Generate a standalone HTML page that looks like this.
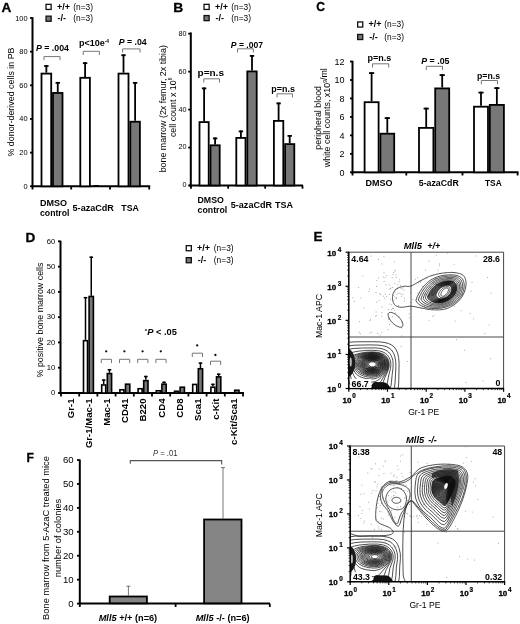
<!DOCTYPE html>
<html><head><meta charset="utf-8"><style>
html,body{margin:0;padding:0;background:#fff;width:520px;height:624px;overflow:hidden;}
body{position:relative;font-family:"Liberation Sans", sans-serif;}
svg{filter:grayscale(100%);}
</style></head><body>
<svg width="520" height="624" viewBox="0 0 520 624" style="position:absolute;left:0;top:0" font-family='"Liberation Sans", sans-serif'>
<rect width="520" height="624" fill="#fff"/>
<text x="1.40" y="11.60" font-size="13.4" font-weight="bold" textLength="9.8" lengthAdjust="spacingAndGlyphs" stroke="#000" stroke-width="0.3">A</text>
<rect x="46.05" y="4.35" width="5.10" height="5.10" fill="#fff" stroke="#111" stroke-width="1.3"/>
<rect x="46.05" y="16.15" width="5.10" height="5.10" fill="#777" stroke="#111" stroke-width="1.3"/>
<text x="56.90" y="9.70" font-size="9" font-weight="bold">+/+</text>
<text x="57.60" y="21.30" font-size="9" font-weight="bold">-/-</text>
<text x="73.20" y="9.60" font-size="8.4">(n=3)</text>
<text x="73.20" y="21.40" font-size="8.4">(n=3)</text>
<line x1="32.50" y1="17.20" x2="32.50" y2="187.20" stroke="#000" stroke-width="2"/>
<line x1="30.00" y1="186.30" x2="32.50" y2="186.30" stroke="#000" stroke-width="1.8"/>
<text x="27.60" y="188.80" font-size="7.4" text-anchor="end">0</text>
<line x1="30.00" y1="152.64" x2="32.50" y2="152.64" stroke="#000" stroke-width="1.8"/>
<text x="27.60" y="155.14" font-size="7.4" text-anchor="end">20</text>
<line x1="30.00" y1="118.98" x2="32.50" y2="118.98" stroke="#000" stroke-width="1.8"/>
<text x="27.60" y="121.48" font-size="7.4" text-anchor="end">40</text>
<line x1="30.00" y1="85.32" x2="32.50" y2="85.32" stroke="#000" stroke-width="1.8"/>
<text x="27.60" y="87.82" font-size="7.4" text-anchor="end">60</text>
<line x1="30.00" y1="51.66" x2="32.50" y2="51.66" stroke="#000" stroke-width="1.8"/>
<text x="27.60" y="54.16" font-size="7.4" text-anchor="end">80</text>
<line x1="30.00" y1="18.00" x2="32.50" y2="18.00" stroke="#000" stroke-width="1.8"/>
<text x="27.60" y="20.50" font-size="7.4" text-anchor="end">100</text>
<text x="14.40" y="102.00" font-size="8.9" text-anchor="middle" transform="rotate(-90 14.40 102.00)">% donor-derived cells in PB</text>
<line x1="31.50" y1="186.30" x2="150.20" y2="186.30" stroke="#000" stroke-width="2"/>
<line x1="32.50" y1="186.30" x2="32.50" y2="189.50" stroke="#000" stroke-width="1.8"/>
<line x1="71.20" y1="186.30" x2="71.20" y2="189.50" stroke="#000" stroke-width="1.8"/>
<line x1="110.00" y1="186.30" x2="110.00" y2="189.50" stroke="#000" stroke-width="1.8"/>
<line x1="149.20" y1="186.30" x2="149.20" y2="189.50" stroke="#000" stroke-width="1.8"/>
<line x1="46.35" y1="72.70" x2="46.35" y2="65.12" stroke="#000" stroke-width="1.8"/>
<line x1="44.15" y1="66.02" x2="48.55" y2="66.02" stroke="#000" stroke-width="1.8"/>
<rect x="41.50" y="73.60" width="9.70" height="112.70" fill="#fff" stroke="#000" stroke-width="1.8"/>
<line x1="57.75" y1="92.05" x2="57.75" y2="81.95" stroke="#000" stroke-width="1.8"/>
<line x1="55.55" y1="82.85" x2="59.95" y2="82.85" stroke="#000" stroke-width="1.8"/>
<rect x="53.00" y="92.95" width="9.50" height="93.35" fill="#777" stroke="#000" stroke-width="1.8"/>
<line x1="85.10" y1="76.91" x2="85.10" y2="62.26" stroke="#000" stroke-width="1.8"/>
<line x1="82.90" y1="63.16" x2="87.30" y2="63.16" stroke="#000" stroke-width="1.8"/>
<rect x="80.30" y="77.81" width="9.60" height="108.50" fill="#fff" stroke="#000" stroke-width="1.8"/>
<line x1="93.50" y1="185.60" x2="99.00" y2="185.60" stroke="#000" stroke-width="1.2"/>
<line x1="123.50" y1="72.70" x2="123.50" y2="54.35" stroke="#000" stroke-width="1.8"/>
<line x1="121.30" y1="55.25" x2="125.70" y2="55.25" stroke="#000" stroke-width="1.8"/>
<rect x="118.50" y="73.60" width="10.00" height="112.70" fill="#fff" stroke="#000" stroke-width="1.8"/>
<line x1="135.10" y1="120.83" x2="135.10" y2="81.95" stroke="#000" stroke-width="1.8"/>
<line x1="132.90" y1="82.85" x2="137.30" y2="82.85" stroke="#000" stroke-width="1.8"/>
<rect x="130.30" y="121.73" width="9.60" height="64.57" fill="#777" stroke="#000" stroke-width="1.8"/>
<text x="36.00" y="51.30" font-size="9" font-weight="bold" textLength="33" lengthAdjust="spacingAndGlyphs"><tspan font-style="italic">P</tspan> = .004</text>
<path d="M44.00,60.20 V56.60 H60.00 V60.20" fill="none" stroke="#777" stroke-width="1.0"/>
<text x="78.90" y="46.40" font-size="9" font-weight="bold">p&lt;10e<tspan font-size="4.8" dy="-3.2">-4</tspan></text>
<path d="M83.20,55.00 V51.30 H99.40 V55.00" fill="none" stroke="#777" stroke-width="1.0"/>
<text x="118.70" y="45.00" font-size="9" font-weight="bold" textLength="28" lengthAdjust="spacingAndGlyphs"><tspan font-style="italic">P</tspan> = .04</text>
<path d="M122.60,52.50 V48.90 H140.00 V52.50" fill="none" stroke="#777" stroke-width="1.0"/>
<text x="40.00" y="205.50" font-size="9" font-weight="bold" textLength="27" lengthAdjust="spacingAndGlyphs">DMSO</text>
<text x="40.00" y="216.00" font-size="9" font-weight="bold" textLength="29.5" lengthAdjust="spacingAndGlyphs">control</text>
<text x="72.60" y="210.50" font-size="9" font-weight="bold" textLength="41.2" lengthAdjust="spacingAndGlyphs">5-azaCdR</text>
<text x="121.30" y="210.50" font-size="9" font-weight="bold" textLength="17.5" lengthAdjust="spacingAndGlyphs">TSA</text>
<text x="173.30" y="11.50" font-size="13.4" font-weight="bold" textLength="10" lengthAdjust="spacingAndGlyphs" stroke="#000" stroke-width="0.3">B</text>
<rect x="204.05" y="4.35" width="5.10" height="5.10" fill="#fff" stroke="#111" stroke-width="1.3"/>
<rect x="204.05" y="15.55" width="5.10" height="5.10" fill="#777" stroke="#111" stroke-width="1.3"/>
<text x="214.90" y="9.70" font-size="9" font-weight="bold">+/+</text>
<text x="215.60" y="20.70" font-size="9" font-weight="bold">-/-</text>
<text x="231.20" y="9.60" font-size="8.4">(n=3)</text>
<text x="231.20" y="20.80" font-size="8.4">(n=3)</text>
<line x1="190.80" y1="32.40" x2="190.80" y2="186.40" stroke="#000" stroke-width="2"/>
<line x1="188.20" y1="185.50" x2="190.80" y2="185.50" stroke="#000" stroke-width="1.8"/>
<text x="186.40" y="187.40" font-size="7.2" text-anchor="end">0</text>
<line x1="188.20" y1="147.55" x2="190.80" y2="147.55" stroke="#000" stroke-width="1.8"/>
<text x="186.40" y="149.45" font-size="7.2" text-anchor="end">20</text>
<line x1="188.20" y1="109.60" x2="190.80" y2="109.60" stroke="#000" stroke-width="1.8"/>
<text x="186.40" y="111.50" font-size="7.2" text-anchor="end">40</text>
<line x1="188.20" y1="71.65" x2="190.80" y2="71.65" stroke="#000" stroke-width="1.8"/>
<text x="186.40" y="73.55" font-size="7.2" text-anchor="end">60</text>
<line x1="188.20" y1="33.70" x2="190.80" y2="33.70" stroke="#000" stroke-width="1.8"/>
<text x="186.40" y="35.60" font-size="7.2" text-anchor="end">80</text>
<text x="165.70" y="108.70" font-size="8.9" text-anchor="middle" transform="rotate(-90 165.70 108.70)">bone marrow (2x femur, 2x tibia)</text>
<text x="176.00" y="107.30" font-size="8.9" text-anchor="middle" transform="rotate(-90 176.00 107.30)">cell count x 10<tspan font-size="5" dy="-3.5">6</tspan></text>
<line x1="189.00" y1="185.50" x2="303.00" y2="185.50" stroke="#000" stroke-width="2"/>
<line x1="191.00" y1="185.50" x2="191.00" y2="188.70" stroke="#000" stroke-width="1.8"/>
<line x1="228.20" y1="185.50" x2="228.20" y2="188.70" stroke="#000" stroke-width="1.8"/>
<line x1="265.20" y1="185.50" x2="265.20" y2="188.70" stroke="#000" stroke-width="1.8"/>
<line x1="302.50" y1="185.50" x2="302.50" y2="188.70" stroke="#000" stroke-width="1.8"/>
<line x1="204.10" y1="121.20" x2="204.10" y2="87.50" stroke="#000" stroke-width="1.8"/>
<line x1="201.90" y1="88.40" x2="206.30" y2="88.40" stroke="#000" stroke-width="1.8"/>
<rect x="199.50" y="122.10" width="9.20" height="63.40" fill="#fff" stroke="#000" stroke-width="1.8"/>
<line x1="215.10" y1="144.40" x2="215.10" y2="137.50" stroke="#000" stroke-width="1.8"/>
<line x1="212.90" y1="138.40" x2="217.30" y2="138.40" stroke="#000" stroke-width="1.8"/>
<rect x="210.50" y="145.30" width="9.20" height="40.20" fill="#777" stroke="#000" stroke-width="1.8"/>
<line x1="240.90" y1="137.00" x2="240.90" y2="130.50" stroke="#000" stroke-width="1.8"/>
<line x1="238.70" y1="131.40" x2="243.10" y2="131.40" stroke="#000" stroke-width="1.8"/>
<rect x="236.30" y="137.90" width="9.20" height="47.60" fill="#fff" stroke="#000" stroke-width="1.8"/>
<line x1="252.00" y1="70.50" x2="252.00" y2="55.00" stroke="#000" stroke-width="1.8"/>
<line x1="249.80" y1="55.90" x2="254.20" y2="55.90" stroke="#000" stroke-width="1.8"/>
<rect x="247.30" y="71.40" width="9.40" height="114.10" fill="#777" stroke="#000" stroke-width="1.8"/>
<line x1="278.60" y1="120.00" x2="278.60" y2="102.50" stroke="#000" stroke-width="1.8"/>
<line x1="276.40" y1="103.40" x2="280.80" y2="103.40" stroke="#000" stroke-width="1.8"/>
<rect x="273.90" y="120.90" width="9.40" height="64.60" fill="#fff" stroke="#000" stroke-width="1.8"/>
<line x1="289.70" y1="143.20" x2="289.70" y2="135.00" stroke="#000" stroke-width="1.8"/>
<line x1="287.50" y1="135.90" x2="291.90" y2="135.90" stroke="#000" stroke-width="1.8"/>
<rect x="285.10" y="144.10" width="9.20" height="41.40" fill="#777" stroke="#000" stroke-width="1.8"/>
<text x="197.50" y="76.30" font-size="9" font-weight="bold" textLength="26.5" lengthAdjust="spacingAndGlyphs">p=n.s</text>
<path d="M203.80,82.50 V78.80 H219.50 V82.50" fill="none" stroke="#777" stroke-width="1.0"/>
<text x="230.80" y="47.50" font-size="9" font-weight="bold" textLength="32.2" lengthAdjust="spacingAndGlyphs"><tspan font-style="italic">P</tspan> = .007</text>
<path d="M237.50,52.50 V48.80 H253.30 V52.50" fill="none" stroke="#777" stroke-width="1.0"/>
<text x="271.30" y="92.00" font-size="9" font-weight="bold" textLength="23.6" lengthAdjust="spacingAndGlyphs">p=n.s</text>
<path d="M277.00,97.50 V93.80 H292.50 V97.50" fill="none" stroke="#777" stroke-width="1.0"/>
<text x="197.50" y="202.60" font-size="9" font-weight="bold" textLength="26.3" lengthAdjust="spacingAndGlyphs">DMSO</text>
<text x="197.50" y="213.20" font-size="9" font-weight="bold" textLength="29.8" lengthAdjust="spacingAndGlyphs">control</text>
<text x="230.80" y="208.20" font-size="9" font-weight="bold" textLength="41.2" lengthAdjust="spacingAndGlyphs">5-azaCdR</text>
<text x="275.00" y="208.20" font-size="9" font-weight="bold" textLength="18" lengthAdjust="spacingAndGlyphs">TSA</text>
<text x="316.30" y="11.40" font-size="13.4" font-weight="bold" textLength="8.8" lengthAdjust="spacingAndGlyphs" stroke="#000" stroke-width="0.3">C</text>
<rect x="357.65" y="21.95" width="5.10" height="5.10" fill="#fff" stroke="#111" stroke-width="1.3"/>
<rect x="357.65" y="34.45" width="5.10" height="5.10" fill="#777" stroke="#111" stroke-width="1.3"/>
<text x="368.50" y="27.30" font-size="9" font-weight="bold">+/+</text>
<text x="369.20" y="39.60" font-size="9" font-weight="bold">-/-</text>
<text x="384.20" y="27.20" font-size="8.4">(n=3)</text>
<text x="384.20" y="39.70" font-size="8.4">(n=3)</text>
<line x1="352.50" y1="60.80" x2="352.50" y2="173.30" stroke="#000" stroke-width="2"/>
<line x1="350.00" y1="172.30" x2="352.50" y2="172.30" stroke="#000" stroke-width="1.8"/>
<text x="344.40" y="175.50" font-size="9" text-anchor="end">0</text>
<line x1="350.00" y1="153.84" x2="352.50" y2="153.84" stroke="#000" stroke-width="1.8"/>
<text x="344.40" y="157.04" font-size="9" text-anchor="end">2</text>
<line x1="350.00" y1="135.38" x2="352.50" y2="135.38" stroke="#000" stroke-width="1.8"/>
<text x="344.40" y="138.58" font-size="9" text-anchor="end">4</text>
<line x1="350.00" y1="116.92" x2="352.50" y2="116.92" stroke="#000" stroke-width="1.8"/>
<text x="344.40" y="120.12" font-size="9" text-anchor="end">6</text>
<line x1="350.00" y1="98.46" x2="352.50" y2="98.46" stroke="#000" stroke-width="1.8"/>
<text x="344.40" y="101.66" font-size="9" text-anchor="end">8</text>
<line x1="350.00" y1="80.00" x2="352.50" y2="80.00" stroke="#000" stroke-width="1.8"/>
<text x="344.40" y="83.20" font-size="9" text-anchor="end">10</text>
<line x1="350.00" y1="61.54" x2="352.50" y2="61.54" stroke="#000" stroke-width="1.8"/>
<text x="344.40" y="64.74" font-size="9" text-anchor="end">12</text>
<text x="321.20" y="117.80" font-size="8.9" text-anchor="middle" transform="rotate(-90 321.20 117.80)">peripheral blood</text>
<text x="330.20" y="117.70" font-size="8.9" text-anchor="middle" transform="rotate(-90 330.20 117.70)">white cell counts, x10<tspan font-size="5" dy="-3.5">9</tspan>/ml</text>
<line x1="351.50" y1="172.30" x2="518.50" y2="172.30" stroke="#000" stroke-width="2"/>
<line x1="352.50" y1="172.30" x2="352.50" y2="175.50" stroke="#000" stroke-width="1.8"/>
<line x1="406.30" y1="172.30" x2="406.30" y2="175.50" stroke="#000" stroke-width="1.8"/>
<line x1="462.50" y1="172.30" x2="462.50" y2="175.50" stroke="#000" stroke-width="1.8"/>
<line x1="517.60" y1="172.30" x2="517.60" y2="175.50" stroke="#000" stroke-width="1.8"/>
<line x1="371.60" y1="101.30" x2="371.60" y2="72.20" stroke="#000" stroke-width="1.8"/>
<line x1="369.00" y1="73.10" x2="374.20" y2="73.10" stroke="#000" stroke-width="1.8"/>
<rect x="364.60" y="102.20" width="14.00" height="70.10" fill="#fff" stroke="#000" stroke-width="1.8"/>
<line x1="387.30" y1="132.80" x2="387.30" y2="117.20" stroke="#000" stroke-width="1.8"/>
<line x1="384.70" y1="118.10" x2="389.90" y2="118.10" stroke="#000" stroke-width="1.8"/>
<rect x="380.40" y="133.70" width="13.80" height="38.60" fill="#777" stroke="#000" stroke-width="1.8"/>
<line x1="426.20" y1="127.00" x2="426.20" y2="107.70" stroke="#000" stroke-width="1.8"/>
<line x1="423.60" y1="108.60" x2="428.80" y2="108.60" stroke="#000" stroke-width="1.8"/>
<rect x="419.00" y="127.90" width="14.40" height="44.40" fill="#fff" stroke="#000" stroke-width="1.8"/>
<line x1="442.20" y1="87.50" x2="442.20" y2="74.20" stroke="#000" stroke-width="1.8"/>
<line x1="439.60" y1="75.10" x2="444.80" y2="75.10" stroke="#000" stroke-width="1.8"/>
<rect x="435.20" y="88.40" width="14.00" height="83.90" fill="#777" stroke="#000" stroke-width="1.8"/>
<line x1="481.00" y1="105.80" x2="481.00" y2="91.70" stroke="#000" stroke-width="1.8"/>
<line x1="478.40" y1="92.60" x2="483.60" y2="92.60" stroke="#000" stroke-width="1.8"/>
<rect x="474.00" y="106.70" width="14.00" height="65.60" fill="#fff" stroke="#000" stroke-width="1.8"/>
<line x1="496.85" y1="104.00" x2="496.85" y2="87.20" stroke="#000" stroke-width="1.8"/>
<line x1="494.25" y1="88.10" x2="499.45" y2="88.10" stroke="#000" stroke-width="1.8"/>
<rect x="489.80" y="104.90" width="14.10" height="67.40" fill="#777" stroke="#000" stroke-width="1.8"/>
<text x="367.50" y="61.00" font-size="9" font-weight="bold" textLength="23.7" lengthAdjust="spacingAndGlyphs">p=n.s</text>
<path d="M372.50,67.50 V63.80 H388.70 V67.50" fill="none" stroke="#777" stroke-width="1.0"/>
<text x="421.20" y="63.60" font-size="9" font-weight="bold" textLength="28.3" lengthAdjust="spacingAndGlyphs"><tspan font-style="italic">P</tspan> = .05</text>
<path d="M426.30,70.00 V66.30 H442.50 V70.00" fill="none" stroke="#777" stroke-width="1.0"/>
<text x="477.00" y="78.60" font-size="9" font-weight="bold" textLength="23" lengthAdjust="spacingAndGlyphs">p=n.s</text>
<path d="M481.30,84.30 V80.50 H497.50 V84.30" fill="none" stroke="#777" stroke-width="1.0"/>
<text x="365.50" y="185.50" font-size="9" font-weight="bold" textLength="27" lengthAdjust="spacingAndGlyphs">DMSO</text>
<text x="418.80" y="186.20" font-size="9" font-weight="bold" textLength="40" lengthAdjust="spacingAndGlyphs">5-azaCdR</text>
<text x="485.00" y="186.00" font-size="9" font-weight="bold" textLength="16.7" lengthAdjust="spacingAndGlyphs">TSA</text>
<text x="25.60" y="241.70" font-size="13.4" font-weight="bold" textLength="9.8" lengthAdjust="spacingAndGlyphs" stroke="#000" stroke-width="0.3">D</text>
<rect x="186.25" y="245.65" width="5.10" height="5.10" fill="#fff" stroke="#111" stroke-width="1.3"/>
<rect x="186.25" y="257.65" width="5.10" height="5.10" fill="#777" stroke="#111" stroke-width="1.3"/>
<text x="197.10" y="251.00" font-size="9" font-weight="bold">+/+</text>
<text x="197.80" y="262.80" font-size="9" font-weight="bold">-/-</text>
<text x="213.80" y="250.90" font-size="8.4">(n=3)</text>
<text x="213.80" y="262.90" font-size="8.4">(n=3)</text>
<line x1="60.50" y1="240.70" x2="60.50" y2="394.00" stroke="#000" stroke-width="2"/>
<line x1="58.00" y1="393.00" x2="60.50" y2="393.00" stroke="#000" stroke-width="1.8"/>
<text x="55.20" y="395.20" font-size="7.7" text-anchor="end">0</text>
<line x1="58.00" y1="367.72" x2="60.50" y2="367.72" stroke="#000" stroke-width="1.8"/>
<text x="55.20" y="369.92" font-size="7.7" text-anchor="end">10</text>
<line x1="58.00" y1="342.44" x2="60.50" y2="342.44" stroke="#000" stroke-width="1.8"/>
<text x="55.20" y="344.64" font-size="7.7" text-anchor="end">20</text>
<line x1="58.00" y1="317.16" x2="60.50" y2="317.16" stroke="#000" stroke-width="1.8"/>
<text x="55.20" y="319.36" font-size="7.7" text-anchor="end">30</text>
<line x1="58.00" y1="291.88" x2="60.50" y2="291.88" stroke="#000" stroke-width="1.8"/>
<text x="55.20" y="294.08" font-size="7.7" text-anchor="end">40</text>
<line x1="58.00" y1="266.60" x2="60.50" y2="266.60" stroke="#000" stroke-width="1.8"/>
<text x="55.20" y="268.80" font-size="7.7" text-anchor="end">50</text>
<line x1="58.00" y1="241.32" x2="60.50" y2="241.32" stroke="#000" stroke-width="1.8"/>
<text x="55.20" y="243.52" font-size="7.7" text-anchor="end">60</text>
<text x="42.60" y="320.00" font-size="8.9" text-anchor="middle" transform="rotate(-90 42.60 320.00)">% positive bone marrow cells</text>
<line x1="59.50" y1="393.00" x2="244.00" y2="393.00" stroke="#000" stroke-width="2"/>
<line x1="61.00" y1="393.00" x2="61.00" y2="396.50" stroke="#000" stroke-width="1.8"/>
<line x1="79.20" y1="393.00" x2="79.20" y2="396.50" stroke="#000" stroke-width="1.8"/>
<line x1="97.40" y1="393.00" x2="97.40" y2="396.50" stroke="#000" stroke-width="1.8"/>
<line x1="115.60" y1="393.00" x2="115.60" y2="396.50" stroke="#000" stroke-width="1.8"/>
<line x1="133.80" y1="393.00" x2="133.80" y2="396.50" stroke="#000" stroke-width="1.8"/>
<line x1="152.00" y1="393.00" x2="152.00" y2="396.50" stroke="#000" stroke-width="1.8"/>
<line x1="170.20" y1="393.00" x2="170.20" y2="396.50" stroke="#000" stroke-width="1.8"/>
<line x1="188.40" y1="393.00" x2="188.40" y2="396.50" stroke="#000" stroke-width="1.8"/>
<line x1="206.60" y1="393.00" x2="206.60" y2="396.50" stroke="#000" stroke-width="1.8"/>
<line x1="224.80" y1="393.00" x2="224.80" y2="396.50" stroke="#000" stroke-width="1.8"/>
<line x1="243.00" y1="393.00" x2="243.00" y2="396.50" stroke="#000" stroke-width="1.8"/>
<text x="73.50" y="398.50" font-size="9.6" font-weight="bold" text-anchor="end" transform="rotate(-90 73.50 398.50)">Gr-1</text>
<text x="91.70" y="398.50" font-size="9.6" font-weight="bold" text-anchor="end" transform="rotate(-90 91.70 398.50)">Gr-1/Mac-1</text>
<text x="109.90" y="398.50" font-size="9.6" font-weight="bold" text-anchor="end" transform="rotate(-90 109.90 398.50)">Mac-1</text>
<text x="128.10" y="398.50" font-size="9.6" font-weight="bold" text-anchor="end" transform="rotate(-90 128.10 398.50)">CD41</text>
<text x="146.30" y="398.50" font-size="9.6" font-weight="bold" text-anchor="end" transform="rotate(-90 146.30 398.50)">B220</text>
<text x="164.50" y="398.50" font-size="9.6" font-weight="bold" text-anchor="end" transform="rotate(-90 164.50 398.50)">CD4</text>
<text x="182.70" y="398.50" font-size="9.6" font-weight="bold" text-anchor="end" transform="rotate(-90 182.70 398.50)">CD8</text>
<text x="200.90" y="398.50" font-size="9.6" font-weight="bold" text-anchor="end" transform="rotate(-90 200.90 398.50)">Sca1</text>
<text x="219.10" y="398.50" font-size="9.6" font-weight="bold" text-anchor="end" transform="rotate(-90 219.10 398.50)">c-Kit</text>
<text x="237.30" y="398.50" font-size="9.6" font-weight="bold" text-anchor="end" transform="rotate(-90 237.30 398.50)">c-Kit/Sca1</text>
<rect x="65.30" y="393.04" width="4.00" height="0.01" fill="#fff" stroke="#000" stroke-width="1.6"/>
<rect x="70.90" y="393.04" width="4.30" height="0.01" fill="#777" stroke="#000" stroke-width="1.6"/>
<line x1="85.50" y1="339.91" x2="85.50" y2="296.94" stroke="#000" stroke-width="1.5"/>
<line x1="83.70" y1="297.69" x2="87.30" y2="297.69" stroke="#000" stroke-width="1.5"/>
<rect x="83.50" y="340.71" width="4.00" height="52.29" fill="#fff" stroke="#000" stroke-width="1.6"/>
<line x1="91.25" y1="295.67" x2="91.25" y2="256.49" stroke="#000" stroke-width="1.5"/>
<line x1="89.45" y1="257.24" x2="93.05" y2="257.24" stroke="#000" stroke-width="1.5"/>
<rect x="89.10" y="296.47" width="4.30" height="96.53" fill="#777" stroke="#000" stroke-width="1.6"/>
<line x1="103.70" y1="384.15" x2="103.70" y2="379.35" stroke="#000" stroke-width="1.5"/>
<line x1="101.90" y1="380.10" x2="105.50" y2="380.10" stroke="#000" stroke-width="1.5"/>
<rect x="101.70" y="384.95" width="4.00" height="8.05" fill="#fff" stroke="#000" stroke-width="1.6"/>
<line x1="109.45" y1="372.78" x2="109.45" y2="368.98" stroke="#000" stroke-width="1.5"/>
<line x1="107.65" y1="369.73" x2="111.25" y2="369.73" stroke="#000" stroke-width="1.5"/>
<rect x="107.30" y="373.58" width="4.30" height="19.42" fill="#777" stroke="#000" stroke-width="1.6"/>
<rect x="119.90" y="389.76" width="4.00" height="3.24" fill="#fff" stroke="#000" stroke-width="1.6"/>
<rect x="125.50" y="384.19" width="4.30" height="8.81" fill="#777" stroke="#000" stroke-width="1.6"/>
<rect x="138.10" y="388.74" width="4.00" height="4.26" fill="#fff" stroke="#000" stroke-width="1.6"/>
<line x1="145.85" y1="379.85" x2="145.85" y2="375.81" stroke="#000" stroke-width="1.5"/>
<line x1="144.05" y1="376.56" x2="147.65" y2="376.56" stroke="#000" stroke-width="1.5"/>
<rect x="143.70" y="380.65" width="4.30" height="12.35" fill="#777" stroke="#000" stroke-width="1.6"/>
<rect x="156.30" y="390.77" width="4.00" height="2.23" fill="#fff" stroke="#000" stroke-width="1.6"/>
<line x1="164.05" y1="383.39" x2="164.05" y2="381.62" stroke="#000" stroke-width="1.5"/>
<line x1="162.25" y1="382.37" x2="165.85" y2="382.37" stroke="#000" stroke-width="1.5"/>
<rect x="161.90" y="384.19" width="4.30" height="8.81" fill="#777" stroke="#000" stroke-width="1.6"/>
<rect x="174.50" y="391.27" width="4.00" height="1.73" fill="#fff" stroke="#000" stroke-width="1.6"/>
<rect x="180.10" y="387.23" width="4.30" height="5.77" fill="#777" stroke="#000" stroke-width="1.6"/>
<rect x="192.70" y="384.45" width="4.00" height="8.55" fill="#fff" stroke="#000" stroke-width="1.6"/>
<line x1="200.45" y1="367.97" x2="200.45" y2="362.41" stroke="#000" stroke-width="1.5"/>
<line x1="198.65" y1="363.16" x2="202.25" y2="363.16" stroke="#000" stroke-width="1.5"/>
<rect x="198.30" y="368.77" width="4.30" height="24.23" fill="#777" stroke="#000" stroke-width="1.6"/>
<line x1="212.90" y1="386.43" x2="212.90" y2="383.65" stroke="#000" stroke-width="1.5"/>
<line x1="211.10" y1="384.40" x2="214.70" y2="384.40" stroke="#000" stroke-width="1.5"/>
<rect x="210.90" y="387.23" width="4.00" height="5.77" fill="#fff" stroke="#000" stroke-width="1.6"/>
<line x1="218.65" y1="376.06" x2="218.65" y2="373.53" stroke="#000" stroke-width="1.5"/>
<line x1="216.85" y1="374.28" x2="220.45" y2="374.28" stroke="#000" stroke-width="1.5"/>
<rect x="216.50" y="376.86" width="4.30" height="16.14" fill="#777" stroke="#000" stroke-width="1.6"/>
<rect x="229.10" y="392.79" width="4.00" height="0.21" fill="#fff" stroke="#000" stroke-width="1.6"/>
<rect x="234.70" y="390.26" width="4.30" height="2.74" fill="#777" stroke="#000" stroke-width="1.6"/>
<path d="M101.30,363.10 V359.30 H111.50 V363.10" fill="none" stroke="#777" stroke-width="1.0"/>
<circle cx="106.20" cy="351.30" r="1.15" fill="#111"/>
<path d="M119.50,363.10 V359.30 H129.70 V363.10" fill="none" stroke="#777" stroke-width="1.0"/>
<circle cx="124.40" cy="351.30" r="1.15" fill="#111"/>
<path d="M137.70,363.10 V359.30 H147.90 V363.10" fill="none" stroke="#777" stroke-width="1.0"/>
<circle cx="142.60" cy="351.30" r="1.15" fill="#111"/>
<path d="M155.90,363.10 V359.30 H166.10 V363.10" fill="none" stroke="#777" stroke-width="1.0"/>
<circle cx="160.80" cy="351.30" r="1.15" fill="#111"/>
<path d="M192.30,357.00 V353.20 H202.50 V357.00" fill="none" stroke="#777" stroke-width="1.0"/>
<circle cx="197.20" cy="345.40" r="1.15" fill="#111"/>
<path d="M210.50,365.00 V361.20 H220.70 V365.00" fill="none" stroke="#777" stroke-width="1.0"/>
<circle cx="215.40" cy="355.00" r="1.15" fill="#111"/>
<text x="144.80" y="334.80" font-size="9.2" font-weight="bold" textLength="32" lengthAdjust="spacingAndGlyphs"><tspan font-size="6" dy="-2.2">*</tspan><tspan font-style="italic" dy="2.2">P</tspan> &lt; .05</text>
<text x="26.40" y="462.30" font-size="13.4" font-weight="bold" textLength="7.4" lengthAdjust="spacingAndGlyphs" stroke="#000" stroke-width="0.3">F</text>
<line x1="79.80" y1="459.50" x2="79.80" y2="604.60" stroke="#000" stroke-width="2"/>
<line x1="77.00" y1="603.60" x2="79.80" y2="603.60" stroke="#000" stroke-width="1.8"/>
<text x="73.70" y="607.00" font-size="9.6" text-anchor="end">0</text>
<line x1="77.00" y1="579.67" x2="79.80" y2="579.67" stroke="#000" stroke-width="1.8"/>
<text x="73.70" y="583.07" font-size="9.6" text-anchor="end">10</text>
<line x1="77.00" y1="555.74" x2="79.80" y2="555.74" stroke="#000" stroke-width="1.8"/>
<text x="73.70" y="559.14" font-size="9.6" text-anchor="end">20</text>
<line x1="77.00" y1="531.81" x2="79.80" y2="531.81" stroke="#000" stroke-width="1.8"/>
<text x="73.70" y="535.21" font-size="9.6" text-anchor="end">30</text>
<line x1="77.00" y1="507.88" x2="79.80" y2="507.88" stroke="#000" stroke-width="1.8"/>
<text x="73.70" y="511.28" font-size="9.6" text-anchor="end">40</text>
<line x1="77.00" y1="483.95" x2="79.80" y2="483.95" stroke="#000" stroke-width="1.8"/>
<text x="73.70" y="487.35" font-size="9.6" text-anchor="end">50</text>
<line x1="77.00" y1="460.02" x2="79.80" y2="460.02" stroke="#000" stroke-width="1.8"/>
<text x="73.70" y="463.42" font-size="9.6" text-anchor="end">60</text>
<text x="49.20" y="538.00" font-size="9.3" text-anchor="middle" transform="rotate(-90 49.20 538.00)">Bone marrow from 5-AzaC treated mice</text>
<text x="60.50" y="538.00" font-size="9.3" text-anchor="middle" transform="rotate(-90 60.50 538.00)">number of colonies</text>
<line x1="78.80" y1="603.60" x2="270.00" y2="603.60" stroke="#000" stroke-width="2"/>
<line x1="79.80" y1="603.60" x2="79.80" y2="607.00" stroke="#000" stroke-width="1.8"/>
<line x1="175.60" y1="603.60" x2="175.60" y2="607.00" stroke="#000" stroke-width="1.8"/>
<line x1="269.80" y1="603.60" x2="269.80" y2="607.00" stroke="#000" stroke-width="1.8"/>
<line x1="128.40" y1="595.50" x2="128.40" y2="586.00" stroke="#666" stroke-width="0.9"/>
<line x1="126.40" y1="586.20" x2="130.40" y2="586.20" stroke="#666" stroke-width="0.9"/>
<rect x="109.70" y="596.50" width="37.20" height="6.80" fill="#848484" stroke="#000" stroke-width="1.8"/>
<line x1="223.00" y1="518.60" x2="223.00" y2="467.30" stroke="#666" stroke-width="0.9"/>
<line x1="221.00" y1="467.60" x2="225.00" y2="467.60" stroke="#666" stroke-width="0.9"/>
<rect x="204.10" y="519.50" width="37.40" height="83.80" fill="#848484" stroke="#000" stroke-width="1.8"/>
<path d="M130.3,463.8 V460.6 H221.7 V464.5" fill="none" stroke="#555" stroke-width="1.1"/>
<text x="153.00" y="455.80" font-size="8.2" textLength="24.5" lengthAdjust="spacingAndGlyphs" fill="#333"><tspan font-style="italic">P</tspan> = .01</text>
<text x="98.70" y="620.50" font-size="9.2" font-weight="bold" textLength="58.5" lengthAdjust="spacingAndGlyphs"><tspan font-style="italic">Mll5</tspan> +/+ (n=6)</text>
<text x="195.70" y="621.40" font-size="9.2" font-weight="bold" textLength="54" lengthAdjust="spacingAndGlyphs"><tspan font-style="italic">Mll5</tspan> -/- (n=6)</text>
<text x="313.50" y="241.40" font-size="13.4" font-weight="bold" textLength="9.0" lengthAdjust="spacingAndGlyphs" stroke="#000" stroke-width="0.3">E</text>
<clipPath id="clip1"><rect x="348.8" y="252.2" width="154.8" height="136.3"/></clipPath>
<g fill="#999" clip-path="url(#clip1)"><rect x="381.2" y="331.9" width="0.9" height="0.9"/><rect x="358.8" y="331.8" width="0.9" height="0.9"/><rect x="369.0" y="288.7" width="0.9" height="0.9"/><rect x="400.5" y="287.6" width="0.9" height="0.9"/><rect x="383.5" y="256.3" width="0.9" height="0.9"/><rect x="396.0" y="298.1" width="0.9" height="0.9"/><rect x="370.1" y="318.7" width="0.9" height="0.9"/><rect x="368.5" y="291.2" width="0.9" height="0.9"/><rect x="358.2" y="287.1" width="0.9" height="0.9"/><rect x="362.4" y="275.5" width="0.9" height="0.9"/><rect x="395.8" y="277.0" width="0.9" height="0.9"/><rect x="379.6" y="334.4" width="0.9" height="0.9"/><rect x="408.7" y="313.4" width="0.9" height="0.9"/><rect x="383.0" y="276.7" width="0.9" height="0.9"/><rect x="359.8" y="333.5" width="0.9" height="0.9"/><rect x="381.5" y="263.5" width="0.9" height="0.9"/><rect x="388.0" y="317.7" width="0.9" height="0.9"/><rect x="387.4" y="329.2" width="0.9" height="0.9"/><rect x="352.4" y="297.3" width="0.9" height="0.9"/><rect x="378.0" y="259.1" width="0.9" height="0.9"/><rect x="389.1" y="323.9" width="0.9" height="0.9"/><rect x="386.2" y="275.3" width="0.9" height="0.9"/><rect x="401.2" y="295.8" width="0.9" height="0.9"/><rect x="381.2" y="315.7" width="0.9" height="0.9"/><rect x="359.0" y="321.2" width="0.9" height="0.9"/><rect x="473.2" y="318.5" width="0.9" height="0.9"/><rect x="428.4" y="319.8" width="0.9" height="0.9"/><rect x="428.4" y="260.7" width="0.9" height="0.9"/><rect x="488.8" y="324.6" width="0.9" height="0.9"/><rect x="490.8" y="292.7" width="0.9" height="0.9"/><rect x="435.9" y="254.6" width="0.9" height="0.9"/><rect x="469.8" y="313.0" width="0.9" height="0.9"/><rect x="487.0" y="277.1" width="0.9" height="0.9"/><rect x="430.6" y="306.4" width="0.9" height="0.9"/><rect x="484.3" y="333.0" width="0.9" height="0.9"/><rect x="406.9" y="361.1" width="0.9" height="0.9"/><rect x="490.2" y="358.3" width="0.9" height="0.9"/><rect x="456.0" y="339.2" width="0.9" height="0.9"/><rect x="465.4" y="382.1" width="0.9" height="0.9"/><rect x="482.6" y="380.5" width="0.9" height="0.9"/><rect x="464.0" y="349.8" width="0.9" height="0.9"/><rect x="394.7" y="270.6" width="0.9" height="0.9"/><rect x="375.3" y="315.9" width="0.9" height="0.9"/><rect x="401.5" y="288.5" width="0.9" height="0.9"/><rect x="392.0" y="308.0" width="0.9" height="0.9"/><rect x="398.6" y="315.8" width="0.9" height="0.9"/><rect x="395.6" y="298.3" width="0.9" height="0.9"/><rect x="388.4" y="319.0" width="0.9" height="0.9"/><rect x="360.5" y="297.5" width="0.9" height="0.9"/><rect x="392.5" y="274.3" width="0.9" height="0.9"/><rect x="396.7" y="288.3" width="0.9" height="0.9"/><rect x="404.1" y="297.7" width="0.9" height="0.9"/><rect x="401.4" y="321.9" width="0.9" height="0.9"/><rect x="397.4" y="284.2" width="0.9" height="0.9"/><rect x="370.8" y="331.6" width="0.9" height="0.9"/><rect x="390.4" y="287.6" width="0.9" height="0.9"/><rect x="394.0" y="296.6" width="0.9" height="0.9"/><rect x="403.9" y="300.6" width="0.9" height="0.9"/><rect x="392.2" y="287.1" width="0.9" height="0.9"/><rect x="398.6" y="281.4" width="0.9" height="0.9"/><rect x="401.3" y="327.4" width="0.9" height="0.9"/><rect x="370.7" y="255.6" width="0.9" height="0.9"/><rect x="400.6" y="345.9" width="0.9" height="0.9"/><rect x="378.0" y="277.5" width="0.9" height="0.9"/><rect x="400.2" y="284.9" width="0.9" height="0.9"/><rect x="384.9" y="293.7" width="0.9" height="0.9"/><rect x="399.4" y="292.7" width="0.9" height="0.9"/><rect x="395.9" y="296.8" width="0.9" height="0.9"/><rect x="380.2" y="294.2" width="0.9" height="0.9"/><rect x="378.7" y="300.1" width="0.9" height="0.9"/><rect x="376.3" y="280.3" width="0.9" height="0.9"/><rect x="412.4" y="299.0" width="0.9" height="0.9"/><rect x="391.2" y="309.2" width="0.9" height="0.9"/><rect x="386.1" y="295.9" width="0.9" height="0.9"/><rect x="398.0" y="305.1" width="0.9" height="0.9"/><rect x="375.8" y="315.0" width="0.9" height="0.9"/><rect x="383.7" y="281.0" width="0.9" height="0.9"/><rect x="379.4" y="293.0" width="0.9" height="0.9"/><rect x="414.8" y="278.8" width="0.9" height="0.9"/><rect x="394.2" y="261.5" width="0.9" height="0.9"/><rect x="392.0" y="316.2" width="0.9" height="0.9"/><rect x="388.7" y="288.7" width="0.9" height="0.9"/><rect x="395.2" y="312.6" width="0.9" height="0.9"/><rect x="401.3" y="335.5" width="0.9" height="0.9"/><rect x="394.9" y="289.3" width="0.9" height="0.9"/><rect x="390.2" y="298.7" width="0.9" height="0.9"/><rect x="393.5" y="299.5" width="0.9" height="0.9"/><rect x="394.4" y="269.9" width="0.9" height="0.9"/><rect x="403.6" y="289.7" width="0.9" height="0.9"/><rect x="375.6" y="311.5" width="0.9" height="0.9"/><rect x="410.4" y="308.9" width="0.9" height="0.9"/><rect x="394.3" y="283.2" width="0.9" height="0.9"/><rect x="432.2" y="315.8" width="0.9" height="0.9"/><rect x="376.0" y="286.0" width="0.9" height="0.9"/><rect x="393.2" y="272.0" width="0.9" height="0.9"/><rect x="394.4" y="291.7" width="0.9" height="0.9"/><rect x="409.2" y="317.3" width="0.9" height="0.9"/><rect x="354.0" y="300.8" width="0.9" height="0.9"/><rect x="369.4" y="320.0" width="0.9" height="0.9"/><rect x="394.4" y="309.9" width="0.9" height="0.9"/><rect x="377.1" y="332.9" width="0.9" height="0.9"/><rect x="420.3" y="280.8" width="0.9" height="0.9"/><rect x="397.2" y="287.9" width="0.9" height="0.9"/><rect x="391.7" y="277.2" width="0.9" height="0.9"/><rect x="418.1" y="282.6" width="0.9" height="0.9"/><rect x="387.9" y="309.0" width="0.9" height="0.9"/><rect x="382.9" y="295.7" width="0.9" height="0.9"/><rect x="384.1" y="297.6" width="0.9" height="0.9"/><rect x="375.6" y="292.1" width="0.9" height="0.9"/><rect x="389.1" y="294.0" width="0.9" height="0.9"/><rect x="392.8" y="294.7" width="0.9" height="0.9"/><rect x="402.5" y="294.2" width="0.9" height="0.9"/><rect x="390.1" y="288.0" width="0.9" height="0.9"/><rect x="384.6" y="277.2" width="0.9" height="0.9"/><rect x="399.3" y="279.4" width="0.9" height="0.9"/><rect x="381.6" y="306.5" width="0.9" height="0.9"/><rect x="397.6" y="292.8" width="0.9" height="0.9"/><rect x="363.7" y="307.6" width="0.9" height="0.9"/><rect x="395.6" y="274.6" width="0.9" height="0.9"/><rect x="402.8" y="287.4" width="0.9" height="0.9"/><rect x="376.2" y="301.7" width="0.9" height="0.9"/><rect x="389.5" y="303.6" width="0.9" height="0.9"/><rect x="369.5" y="332.6" width="0.9" height="0.9"/><rect x="383.6" y="272.3" width="0.9" height="0.9"/><rect x="400.7" y="293.6" width="0.9" height="0.9"/><rect x="396.5" y="293.9" width="0.9" height="0.9"/><rect x="391.2" y="304.4" width="0.9" height="0.9"/><rect x="381.5" y="312.2" width="0.9" height="0.9"/><rect x="385.4" y="284.3" width="0.9" height="0.9"/><rect x="393.1" y="308.0" width="0.9" height="0.9"/><rect x="388.8" y="284.5" width="0.9" height="0.9"/><rect x="453.6" y="263.8" width="0.9" height="0.9"/><rect x="417.3" y="292.6" width="0.9" height="0.9"/><rect x="410.1" y="292.4" width="0.9" height="0.9"/><rect x="438.8" y="306.4" width="0.9" height="0.9"/><rect x="419.9" y="282.0" width="0.9" height="0.9"/><rect x="447.3" y="252.7" width="0.9" height="0.9"/><rect x="423.9" y="305.8" width="0.9" height="0.9"/><rect x="439.1" y="263.5" width="0.9" height="0.9"/><rect x="453.8" y="305.7" width="0.9" height="0.9"/><rect x="430.1" y="287.5" width="0.9" height="0.9"/><rect x="450.7" y="277.5" width="0.9" height="0.9"/><rect x="449.6" y="295.2" width="0.9" height="0.9"/><rect x="425.2" y="269.7" width="0.9" height="0.9"/><rect x="435.0" y="278.0" width="0.9" height="0.9"/><rect x="462.0" y="294.3" width="0.9" height="0.9"/><rect x="457.2" y="294.2" width="0.9" height="0.9"/><rect x="445.8" y="279.5" width="0.9" height="0.9"/><rect x="454.7" y="320.6" width="0.9" height="0.9"/><rect x="433.2" y="282.5" width="0.9" height="0.9"/><rect x="436.5" y="284.3" width="0.9" height="0.9"/><rect x="424.6" y="294.2" width="0.9" height="0.9"/><rect x="433.6" y="315.0" width="0.9" height="0.9"/><rect x="440.0" y="297.2" width="0.9" height="0.9"/><rect x="460.9" y="287.2" width="0.9" height="0.9"/><rect x="471.6" y="281.9" width="0.9" height="0.9"/><rect x="422.2" y="286.1" width="0.9" height="0.9"/><rect x="437.5" y="269.6" width="0.9" height="0.9"/><rect x="439.2" y="265.3" width="0.9" height="0.9"/><rect x="470.6" y="290.7" width="0.9" height="0.9"/><rect x="425.9" y="277.5" width="0.9" height="0.9"/><rect x="431.5" y="288.4" width="0.9" height="0.9"/><rect x="417.0" y="277.3" width="0.9" height="0.9"/><rect x="435.9" y="283.7" width="0.9" height="0.9"/><rect x="460.7" y="310.2" width="0.9" height="0.9"/><rect x="440.4" y="299.6" width="0.9" height="0.9"/><rect x="410.6" y="302.2" width="0.9" height="0.9"/><rect x="439.3" y="299.8" width="0.9" height="0.9"/><rect x="475.2" y="255.5" width="0.9" height="0.9"/><rect x="445.7" y="274.4" width="0.9" height="0.9"/></g>
<g fill="none" stroke="#000" stroke-width="0.7" clip-path="url(#clip1)"><path d="M411.0,286.0L410.2,286.2L409.4,286.4L408.7,286.4L408.0,286.4L407.3,286.4L406.7,286.3L406.0,286.2L405.4,286.2L404.7,286.2L404.0,286.3L403.3,286.4L402.5,286.6L401.8,286.7L401.0,286.9L400.3,287.1L399.6,287.3L398.9,287.6L398.2,287.9L397.6,288.2L397.0,288.5L396.5,288.9L396.0,289.3L395.5,289.7L395.1,290.2L394.7,290.7L394.3,291.3L394.0,291.8L393.7,292.4L393.4,292.9L393.2,293.5L393.0,294.1L392.8,294.7L392.7,295.4L392.6,296.1L392.5,296.7L392.5,297.4L392.4,298.1L392.5,298.8L392.5,299.4L392.6,300.0L392.7,300.6L392.9,301.2L393.0,301.8L393.3,302.3L393.5,302.9L393.8,303.4L394.1,303.9L394.4,304.4L394.8,304.8L395.2,305.2L395.6,305.5L396.1,305.9L396.6,306.2L397.1,306.4L397.6,306.6L398.2,306.8L398.9,307.0L399.5,307.1L400.2,307.2L401.0,307.3L401.8,307.3L402.7,307.2L403.7,307.1L404.7,307.0L405.7,306.8L406.8,306.6L407.9,306.4L408.9,306.3L410.0,306.2L411.0,306.2L412.0,306.3L413.0,306.4L413.9,306.5L414.9,306.7L415.9,306.9L416.9,307.1L417.9,307.4L418.9,307.6L419.9,307.8L421.0,308.0L422.1,308.2L423.3,308.4L424.4,308.6L425.6,308.9L426.8,309.1L428.0,309.3L429.3,309.5L430.5,309.6L431.8,309.7L433.0,309.8L434.3,309.8L435.6,309.9L436.9,309.9L438.2,309.9L439.6,309.8L440.9,309.7L442.2,309.6L443.5,309.4L444.8,309.1L446.0,308.8L447.2,308.4L448.4,307.9L449.6,307.4L450.8,306.8L451.9,306.1L453.0,305.4L454.1,304.7L455.1,304.0L456.1,303.2L457.0,302.5L457.9,301.7L458.7,301.0L459.4,300.2L460.1,299.3L460.8,298.5L461.4,297.6L462.0,296.7L462.5,295.8L463.0,294.9L463.5,294.0L463.9,293.1L464.3,292.1L464.7,291.0L465.0,290.0L465.3,289.0L465.5,287.9L465.7,286.9L465.9,285.9L466.0,284.9L466.0,284.0L466.0,283.1L466.0,282.2L465.9,281.3L465.7,280.4L465.5,279.6L465.3,278.8L465.0,278.0L464.7,277.3L464.3,276.6L463.8,276.0L463.3,275.5L462.6,275.0L462.0,274.6L461.2,274.2L460.5,273.9L459.6,273.6L458.8,273.4L457.9,273.2L456.9,273.0L456.0,272.8L455.0,272.7L454.0,272.6L453.0,272.5L451.9,272.4L450.8,272.4L449.7,272.5L448.5,272.5L447.4,272.6L446.2,272.7L445.0,272.8L443.8,273.0L442.5,273.1L441.2,273.3L439.8,273.6L438.5,273.8L437.2,274.1L435.8,274.4L434.5,274.8L433.2,275.1L432.0,275.5L430.8,275.9L429.7,276.3L428.5,276.8L427.4,277.3L426.3,277.8L425.2,278.4L424.2,278.9L423.1,279.4L422.1,280.0L421.0,280.5L419.9,281.1L418.9,281.7L417.8,282.3L416.8,282.9L415.8,283.5L414.7,284.2L413.7,284.7L412.8,285.2L411.9,285.7Z"/><path d="M420.0,291.5L421.0,290.1L421.9,288.7L422.8,287.5L423.7,286.3L424.6,285.3L425.6,284.3L426.5,283.4L427.4,282.5L428.4,281.7L429.3,281.0L430.3,280.3L431.2,279.7L432.2,279.2L433.2,278.7L434.1,278.2L435.1,277.8L436.0,277.4L437.0,277.0L438.0,276.7L438.9,276.4L439.9,276.1L440.9,275.9L442.0,275.7L443.0,275.5L444.1,275.3L445.1,275.2L446.3,275.1L447.4,275.0L448.6,274.9L449.9,274.8L451.2,274.8L452.6,274.9L454.0,275.0L455.5,275.2L457.0,275.6L458.4,276.1L459.8,276.7L461.1,277.6L462.2,278.7L463.0,280.0L463.6,281.4L463.9,282.8L464.2,284.3L464.2,285.8L464.1,287.3L463.8,288.8L463.5,290.2L463.1,291.5L462.6,292.8L462.1,294.0L461.5,295.2L460.9,296.3L460.2,297.3L459.5,298.3L458.7,299.2L457.9,300.1L457.1,300.9L456.2,301.6L455.3,302.3L454.4,302.9L453.6,303.5L452.7,304.1L451.8,304.6L450.8,305.1L449.9,305.5L449.0,305.9L448.0,306.3L447.1,306.7L446.1,307.0L445.1,307.3L444.1,307.6L443.0,307.8L441.9,308.0L440.8,308.2L439.7,308.3L438.5,308.4L437.2,308.5L435.9,308.5L434.6,308.5L433.2,308.5L431.7,308.4L430.1,308.3L428.5,308.1L426.7,307.8L425.0,307.3L423.3,306.6L421.6,305.8L419.8,304.9L418.2,303.7L417.0,302.3L415.9,300.7L416.5,298.6L417.3,296.6L418.2,294.8L419.1,293.1Z"/><path d="M422.2,291.6L423.0,290.2L423.9,289.0L424.7,287.9L425.6,286.8L426.4,285.9L427.2,285.0L428.1,284.1L428.9,283.3L429.8,282.6L430.6,282.0L431.5,281.3L432.4,280.8L433.3,280.3L434.2,279.8L435.0,279.4L435.9,279.0L436.8,278.6L437.7,278.3L438.5,277.9L439.4,277.7L440.4,277.4L441.3,277.2L442.2,277.0L443.2,276.8L444.1,276.7L445.2,276.5L446.2,276.4L447.3,276.3L448.4,276.2L449.6,276.1L450.8,276.1L452.1,276.2L453.4,276.3L454.7,276.5L456.1,276.8L457.4,277.3L458.7,278.0L459.8,278.8L460.8,279.8L461.5,281.0L462.0,282.3L462.4,283.6L462.6,285.0L462.6,286.4L462.5,287.7L462.2,289.1L461.9,290.3L461.5,291.6L461.1,292.7L460.6,293.9L460.1,294.9L459.5,295.9L458.9,296.9L458.2,297.8L457.5,298.7L456.8,299.4L456.0,300.2L455.3,300.8L454.5,301.5L453.7,302.0L452.8,302.6L452.0,303.1L451.2,303.6L450.4,304.0L449.5,304.4L448.7,304.8L447.8,305.2L446.9,305.5L446.0,305.8L445.1,306.1L444.1,306.4L443.2,306.6L442.2,306.8L441.1,307.0L440.1,307.1L439.0,307.2L437.8,307.3L436.6,307.3L435.4,307.3L434.1,307.3L432.7,307.2L431.3,307.1L429.8,306.9L428.2,306.5L426.6,306.1L425.1,305.5L423.5,304.7L421.9,303.8L420.5,302.7L419.4,301.4L418.4,300.0L418.9,298.1L419.7,296.2L420.6,294.5L421.4,293.0Z"/><path d="M424.3,291.6L425.1,290.4L425.9,289.3L426.6,288.3L427.4,287.3L428.1,286.5L428.9,285.6L429.6,284.9L430.4,284.2L431.2,283.5L432.0,282.9L432.8,282.4L433.6,281.8L434.4,281.4L435.1,280.9L435.9,280.5L436.7,280.2L437.5,279.8L438.3,279.5L439.1,279.2L439.9,278.9L440.8,278.7L441.6,278.5L442.5,278.3L443.3,278.1L444.2,278.0L445.2,277.8L446.1,277.7L447.1,277.6L448.1,277.5L449.2,277.5L450.3,277.4L451.5,277.5L452.7,277.6L454.0,277.8L455.2,278.1L456.4,278.6L457.5,279.2L458.6,279.9L459.4,280.9L460.1,282.0L460.5,283.1L460.8,284.4L461.0,285.6L461.0,286.9L460.9,288.1L460.7,289.3L460.4,290.5L460.0,291.6L459.6,292.7L459.2,293.7L458.7,294.7L458.2,295.6L457.6,296.5L457.0,297.3L456.4,298.1L455.7,298.8L455.0,299.4L454.3,300.0L453.6,300.6L452.9,301.1L452.1,301.6L451.4,302.1L450.6,302.6L449.9,303.0L449.1,303.3L448.3,303.7L447.6,304.0L446.7,304.3L445.9,304.6L445.1,304.9L444.2,305.1L443.3,305.4L442.4,305.6L441.5,305.7L440.5,305.9L439.5,306.0L438.4,306.0L437.4,306.1L436.2,306.1L435.0,306.0L433.8,306.0L432.4,305.8L431.1,305.6L429.6,305.3L428.2,304.9L426.8,304.3L425.4,303.6L424.0,302.8L422.8,301.8L421.8,300.5L421.0,299.2L421.4,297.5L422.1,295.8L422.9,294.3L423.6,292.9Z"/><path d="M426.3,291.7L427.0,290.6L427.7,289.6L428.4,288.7L429.0,287.8L429.7,287.0L430.4,286.2L431.1,285.5L431.8,284.9L432.5,284.3L433.2,283.8L433.9,283.3L434.6,282.8L435.3,282.4L436.0,282.0L436.8,281.6L437.5,281.2L438.2,280.9L438.9,280.6L439.6,280.3L440.4,280.1L441.1,279.9L441.9,279.7L442.7,279.5L443.5,279.3L444.3,279.2L445.2,279.0L446.0,278.9L446.9,278.8L447.9,278.7L448.9,278.6L449.9,278.6L451.0,278.6L452.1,278.8L453.3,279.0L454.4,279.3L455.5,279.7L456.5,280.3L457.4,281.0L458.2,281.9L458.8,282.9L459.2,283.9L459.4,285.1L459.6,286.2L459.6,287.4L459.4,288.5L459.2,289.6L459.0,290.7L458.6,291.7L458.3,292.6L457.9,293.6L457.4,294.4L457.0,295.3L456.5,296.1L455.9,296.8L455.3,297.5L454.7,298.2L454.1,298.8L453.5,299.3L452.8,299.8L452.2,300.3L451.5,300.8L450.8,301.2L450.1,301.6L449.5,302.0L448.8,302.4L448.1,302.7L447.3,303.0L446.6,303.3L445.9,303.6L445.1,303.8L444.3,304.0L443.5,304.3L442.7,304.4L441.8,304.6L440.9,304.7L440.0,304.9L439.0,304.9L438.0,305.0L436.9,305.0L435.8,304.9L434.7,304.9L433.5,304.7L432.2,304.5L430.9,304.2L429.7,303.8L428.4,303.2L427.2,302.6L425.9,301.8L424.8,300.9L424.0,299.8L423.2,298.6L423.6,297.0L424.3,295.5L425.0,294.1L425.6,292.8Z"/><path d="M428.1,291.7L428.7,290.7L429.4,289.8L430.0,289.0L430.6,288.2L431.2,287.5L431.8,286.8L432.4,286.2L433.0,285.6L433.7,285.1L434.3,284.6L435.0,284.1L435.6,283.7L436.2,283.3L436.9,282.9L437.5,282.6L438.2,282.3L438.8,282.0L439.5,281.7L440.1,281.4L440.8,281.2L441.5,281.0L442.2,280.8L442.9,280.6L443.6,280.4L444.4,280.3L445.2,280.1L446.0,280.0L446.8,279.9L447.7,279.8L448.6,279.8L449.6,279.7L450.5,279.8L451.6,279.9L452.6,280.1L453.6,280.4L454.6,280.8L455.5,281.3L456.4,282.0L457.0,282.8L457.5,283.7L457.9,284.7L458.1,285.7L458.2,286.8L458.2,287.8L458.1,288.9L457.9,289.8L457.6,290.8L457.3,291.7L457.0,292.6L456.6,293.4L456.2,294.2L455.8,295.0L455.4,295.7L454.9,296.4L454.3,297.0L453.8,297.6L453.2,298.1L452.7,298.6L452.1,299.1L451.5,299.6L450.9,300.0L450.3,300.4L449.7,300.8L449.1,301.1L448.4,301.4L447.8,301.7L447.1,302.0L446.5,302.3L445.8,302.6L445.1,302.8L444.4,303.0L443.6,303.2L442.9,303.4L442.1,303.6L441.3,303.7L440.4,303.8L439.5,303.9L438.6,303.9L437.6,303.9L436.6,303.9L435.5,303.8L434.5,303.7L433.3,303.5L432.2,303.2L431.0,302.8L429.9,302.3L428.8,301.6L427.7,300.9L426.8,300.0L426.0,299.0L425.4,297.9L425.7,296.5L426.3,295.2L426.9,293.9L427.5,292.8Z"/><path d="M429.8,291.8L430.4,290.9L431.0,290.1L431.5,289.3L432.1,288.6L432.6,288.0L433.1,287.4L433.7,286.8L434.2,286.3L434.8,285.8L435.4,285.3L435.9,284.9L436.5,284.5L437.1,284.2L437.7,283.8L438.3,283.5L438.8,283.2L439.4,282.9L440.0,282.7L440.6,282.4L441.2,282.2L441.8,282.0L442.5,281.8L443.1,281.6L443.8,281.5L444.5,281.3L445.2,281.2L445.9,281.1L446.7,281.0L447.5,280.9L448.3,280.8L449.2,280.8L450.1,280.8L451.0,280.9L452.0,281.1L452.9,281.4L453.8,281.8L454.6,282.3L455.3,282.9L455.9,283.6L456.4,284.5L456.7,285.4L456.9,286.4L456.9,287.3L456.9,288.2L456.8,289.2L456.6,290.1L456.4,290.9L456.1,291.8L455.8,292.6L455.5,293.3L455.1,294.0L454.7,294.7L454.3,295.4L453.9,296.0L453.4,296.5L452.9,297.1L452.4,297.6L451.9,298.0L451.4,298.4L450.8,298.8L450.3,299.2L449.8,299.6L449.2,299.9L448.7,300.3L448.1,300.6L447.5,300.8L446.9,301.1L446.3,301.4L445.7,301.6L445.1,301.8L444.4,302.0L443.8,302.2L443.1,302.4L442.4,302.6L441.6,302.7L440.8,302.8L440.0,302.9L439.1,302.9L438.3,303.0L437.3,302.9L436.4,302.9L435.4,302.7L434.4,302.5L433.3,302.2L432.3,301.8L431.3,301.3L430.4,300.7L429.4,300.1L428.6,299.3L427.9,298.3L427.4,297.3L427.7,296.1L428.2,294.9L428.8,293.7L429.3,292.7Z"/><path d="M430.5,291.8L431.0,290.9L431.5,290.2L432.1,289.4L432.6,288.8L433.1,288.1L433.6,287.6L434.1,287.0L434.7,286.5L435.2,286.0L435.8,285.6L436.3,285.2L436.9,284.8L437.4,284.5L438.0,284.2L438.5,283.9L439.1,283.6L439.6,283.3L440.2,283.0L440.8,282.8L441.4,282.6L442.0,282.4L442.6,282.2L443.2,282.0L443.8,281.9L444.5,281.7L445.2,281.6L445.9,281.4L446.6,281.3L447.4,281.2L448.2,281.2L449.1,281.2L449.9,281.2L450.8,281.3L451.7,281.5L452.6,281.7L453.5,282.1L454.3,282.6L455.0,283.2L455.5,284.0L456.0,284.8L456.2,285.7L456.4,286.6L456.5,287.5L456.5,288.4L456.4,289.3L456.2,290.2L455.9,291.0L455.7,291.8L455.4,292.5L455.1,293.3L454.7,294.0L454.3,294.6L454.0,295.2L453.5,295.8L453.1,296.4L452.6,296.9L452.1,297.3L451.6,297.8L451.1,298.2L450.6,298.6L450.1,299.0L449.6,299.3L449.1,299.6L448.5,299.9L448.0,300.2L447.4,300.5L446.9,300.8L446.3,301.0L445.7,301.3L445.1,301.5L444.5,301.7L443.8,301.9L443.1,302.1L442.5,302.2L441.7,302.3L441.0,302.5L440.2,302.5L439.4,302.6L438.5,302.6L437.6,302.6L436.7,302.5L435.7,302.4L434.7,302.2L433.7,301.9L432.8,301.5L431.8,301.0L430.9,300.4L430.0,299.8L429.2,299.0L428.6,298.1L428.1,297.1L428.4,295.9L428.9,294.8L429.4,293.7L429.9,292.7Z"/><path d="M431.1,291.8L431.6,291.0L432.1,290.3L432.6,289.6L433.1,288.9L433.6,288.3L434.1,287.8L434.6,287.2L435.1,286.7L435.6,286.3L436.1,285.9L436.7,285.5L437.2,285.1L437.7,284.8L438.2,284.5L438.8,284.2L439.3,283.9L439.8,283.6L440.4,283.4L440.9,283.2L441.5,283.0L442.1,282.8L442.7,282.6L443.3,282.4L443.9,282.2L444.5,282.1L445.2,282.0L445.9,281.8L446.6,281.7L447.3,281.6L448.1,281.6L448.9,281.5L449.8,281.6L450.7,281.7L451.5,281.8L452.4,282.1L453.2,282.5L453.9,283.0L454.6,283.6L455.1,284.3L455.5,285.1L455.8,285.9L456.0,286.8L456.0,287.7L456.0,288.6L455.9,289.4L455.7,290.2L455.5,291.0L455.2,291.8L455.0,292.5L454.7,293.2L454.3,293.9L454.0,294.5L453.6,295.1L453.2,295.7L452.8,296.2L452.3,296.7L451.8,297.1L451.4,297.6L450.9,298.0L450.4,298.3L449.9,298.7L449.4,299.0L448.9,299.3L448.4,299.6L447.9,299.9L447.3,300.2L446.8,300.4L446.3,300.7L445.7,300.9L445.1,301.1L444.5,301.3L443.9,301.5L443.2,301.7L442.5,301.9L441.8,302.0L441.1,302.1L440.3,302.2L439.6,302.2L438.7,302.2L437.9,302.2L437.0,302.1L436.0,302.0L435.1,301.8L434.2,301.5L433.2,301.1L432.3,300.7L431.5,300.1L430.6,299.5L429.9,298.7L429.3,297.8L428.8,296.9L429.1,295.8L429.6,294.6L430.1,293.6L430.6,292.7Z"/><path d="M431.7,291.8L432.2,291.1L432.7,290.3L433.2,289.7L433.6,289.1L434.1,288.5L434.6,288.0L435.1,287.5L435.5,287.0L436.0,286.6L436.5,286.1L437.0,285.8L437.5,285.4L438.0,285.1L438.5,284.8L439.0,284.5L439.5,284.3L440.1,284.0L440.6,283.8L441.1,283.5L441.6,283.3L442.2,283.1L442.8,283.0L443.3,282.8L443.9,282.6L444.5,282.5L445.2,282.3L445.8,282.2L446.5,282.1L447.3,282.0L448.0,281.9L448.8,281.9L449.6,281.9L450.5,282.0L451.3,282.2L452.1,282.5L452.9,282.8L453.6,283.3L454.2,283.9L454.8,284.6L455.1,285.4L455.4,286.2L455.5,287.0L455.6,287.9L455.5,288.7L455.4,289.5L455.3,290.3L455.1,291.1L454.8,291.8L454.5,292.5L454.2,293.2L453.9,293.8L453.6,294.4L453.2,295.0L452.8,295.5L452.4,296.0L452.0,296.5L451.5,296.9L451.1,297.3L450.6,297.7L450.2,298.1L449.7,298.4L449.2,298.7L448.7,299.0L448.3,299.3L447.8,299.6L447.3,299.9L446.7,300.1L446.2,300.4L445.7,300.6L445.1,300.8L444.5,301.0L443.9,301.2L443.3,301.3L442.6,301.5L442.0,301.6L441.3,301.7L440.5,301.8L439.8,301.9L439.0,301.9L438.1,301.9L437.3,301.8L436.4,301.7L435.5,301.5L434.6,301.2L433.7,300.8L432.9,300.3L432.0,299.8L431.2,299.1L430.5,298.4L430.0,297.6L429.5,296.7L429.8,295.6L430.3,294.5L430.8,293.6L431.2,292.7Z"/><path d="M432.3,291.8L432.8,291.1L433.2,290.4L433.7,289.8L434.2,289.2L434.6,288.7L435.1,288.1L435.5,287.7L436.0,287.2L436.4,286.8L436.9,286.4L437.4,286.1L437.9,285.7L438.3,285.4L438.8,285.1L439.3,284.9L439.8,284.6L440.3,284.4L440.8,284.1L441.3,283.9L441.8,283.7L442.3,283.5L442.8,283.3L443.4,283.2L444.0,283.0L444.6,282.8L445.2,282.7L445.8,282.6L446.5,282.5L447.2,282.4L447.9,282.3L448.7,282.3L449.5,282.3L450.3,282.4L451.1,282.6L451.9,282.8L452.6,283.2L453.3,283.7L453.9,284.2L454.4,284.9L454.7,285.6L454.9,286.4L455.1,287.2L455.1,288.1L455.1,288.9L455.0,289.7L454.8,290.4L454.6,291.1L454.4,291.8L454.1,292.5L453.8,293.1L453.5,293.7L453.2,294.3L452.8,294.9L452.5,295.4L452.1,295.8L451.7,296.3L451.3,296.7L450.8,297.1L450.4,297.5L449.9,297.8L449.5,298.1L449.0,298.5L448.6,298.7L448.1,299.0L447.6,299.3L447.2,299.5L446.7,299.8L446.2,300.0L445.6,300.2L445.1,300.4L444.5,300.6L444.0,300.8L443.4,301.0L442.7,301.1L442.1,301.3L441.4,301.4L440.7,301.5L440.0,301.5L439.2,301.5L438.4,301.5L437.6,301.4L436.7,301.3L435.8,301.1L435.0,300.8L434.2,300.4L433.4,300.0L432.6,299.4L431.8,298.8L431.2,298.1L430.7,297.3L430.3,296.5L430.6,295.4L431.0,294.4L431.4,293.5L431.9,292.6Z"/><path d="M432.9,291.9L433.4,291.2L433.8,290.5L434.2,289.9L434.7,289.4L435.1,288.8L435.5,288.3L436.0,287.9L436.4,287.5L436.8,287.1L437.3,286.7L437.7,286.4L438.2,286.0L438.6,285.7L439.1,285.5L439.6,285.2L440.0,284.9L440.5,284.7L441.0,284.5L441.4,284.3L441.9,284.1L442.4,283.9L442.9,283.7L443.5,283.5L444.0,283.4L444.6,283.2L445.2,283.1L445.8,283.0L446.4,282.8L447.1,282.8L447.8,282.7L448.6,282.7L449.3,282.7L450.1,282.8L450.9,282.9L451.6,283.2L452.3,283.6L453.0,284.0L453.5,284.6L454.0,285.2L454.3,285.9L454.5,286.7L454.6,287.5L454.7,288.2L454.6,289.0L454.5,289.8L454.4,290.5L454.2,291.2L453.9,291.9L453.7,292.5L453.4,293.1L453.1,293.7L452.8,294.2L452.5,294.7L452.1,295.2L451.7,295.7L451.4,296.1L451.0,296.5L450.5,296.9L450.1,297.2L449.7,297.6L449.3,297.9L448.9,298.2L448.4,298.5L448.0,298.7L447.5,299.0L447.1,299.2L446.6,299.5L446.1,299.7L445.6,299.9L445.1,300.1L444.6,300.3L444.0,300.5L443.4,300.6L442.8,300.8L442.2,300.9L441.6,301.0L440.9,301.1L440.2,301.2L439.4,301.2L438.6,301.2L437.8,301.1L437.0,301.0L436.2,300.8L435.4,300.5L434.6,300.1L433.9,299.6L433.2,299.1L432.5,298.5L431.8,297.9L431.4,297.1L431.0,296.3L431.3,295.3L431.7,294.3L432.1,293.4L432.5,292.6Z"/><path d="M433.6,291.9L434.0,291.2L434.4,290.6L434.8,290.0L435.2,289.5L435.6,289.0L436.0,288.5L436.4,288.1L436.8,287.7L437.2,287.3L437.7,287.0L438.1,286.6L438.5,286.3L439.0,286.1L439.4,285.8L439.8,285.5L440.3,285.3L440.7,285.1L441.2,284.8L441.6,284.6L442.1,284.4L442.5,284.3L443.0,284.1L443.5,283.9L444.1,283.8L444.6,283.6L445.2,283.5L445.8,283.3L446.4,283.2L447.0,283.1L447.7,283.1L448.4,283.0L449.2,283.1L449.9,283.2L450.6,283.3L451.3,283.6L452.0,283.9L452.6,284.4L453.2,284.9L453.6,285.5L453.9,286.2L454.1,286.9L454.2,287.7L454.2,288.4L454.2,289.2L454.1,289.9L453.9,290.6L453.7,291.2L453.5,291.9L453.2,292.5L453.0,293.1L452.7,293.6L452.4,294.1L452.1,294.6L451.8,295.1L451.4,295.5L451.0,295.9L450.7,296.3L450.3,296.6L449.9,297.0L449.5,297.3L449.1,297.6L448.7,297.9L448.3,298.2L447.8,298.4L447.4,298.7L447.0,298.9L446.5,299.1L446.1,299.3L445.6,299.5L445.1,299.7L444.6,299.9L444.1,300.1L443.5,300.3L442.9,300.4L442.3,300.6L441.7,300.7L441.1,300.8L440.4,300.8L439.6,300.8L438.9,300.8L438.1,300.7L437.4,300.6L436.6,300.4L435.8,300.1L435.1,299.8L434.4,299.3L433.7,298.8L433.1,298.2L432.5,297.6L432.1,296.8L431.7,296.1L432.0,295.1L432.4,294.2L432.8,293.4L433.2,292.6Z"/><path d="M434.2,291.9L434.6,291.3L435.0,290.7L435.3,290.1L435.7,289.6L436.1,289.2L436.5,288.7L436.9,288.3L437.3,287.9L437.7,287.6L438.1,287.2L438.5,286.9L438.9,286.6L439.3,286.4L439.7,286.1L440.1,285.9L440.5,285.6L440.9,285.4L441.3,285.2L441.8,285.0L442.2,284.8L442.7,284.6L443.1,284.5L443.6,284.3L444.1,284.1L444.6,284.0L445.2,283.8L445.7,283.7L446.3,283.6L447.0,283.5L447.6,283.4L448.3,283.4L449.0,283.4L449.7,283.5L450.4,283.7L451.1,283.9L451.7,284.3L452.3,284.7L452.8,285.2L453.2,285.8L453.5,286.5L453.6,287.2L453.7,287.9L453.8,288.6L453.7,289.3L453.6,290.0L453.4,290.7L453.3,291.3L453.1,291.9L452.8,292.5L452.6,293.0L452.3,293.5L452.0,294.0L451.7,294.5L451.4,294.9L451.1,295.3L450.7,295.7L450.4,296.1L450.0,296.4L449.6,296.7L449.3,297.0L448.9,297.3L448.5,297.6L448.1,297.9L447.7,298.1L447.3,298.3L446.9,298.6L446.5,298.8L446.0,299.0L445.6,299.2L445.1,299.4L444.6,299.6L444.1,299.8L443.6,299.9L443.0,300.1L442.5,300.2L441.9,300.3L441.2,300.4L440.6,300.5L439.9,300.5L439.2,300.5L438.4,300.4L437.7,300.3L437.0,300.1L436.2,299.8L435.5,299.4L434.9,299.0L434.3,298.5L433.7,297.9L433.2,297.3L432.8,296.6L432.4,295.9L432.7,295.0L433.1,294.1L433.4,293.3L433.8,292.6Z"/><path d="M434.8,291.9L435.2,291.3L435.5,290.8L435.9,290.3L436.3,289.8L436.6,289.3L437.0,288.9L437.3,288.5L437.7,288.2L438.1,287.8L438.4,287.5L438.8,287.2L439.2,286.9L439.6,286.7L440.0,286.4L440.3,286.2L440.7,286.0L441.1,285.8L441.5,285.6L441.9,285.4L442.4,285.2L442.8,285.0L443.2,284.8L443.7,284.7L444.2,284.5L444.7,284.4L445.2,284.2L445.7,284.1L446.3,284.0L446.9,283.9L447.5,283.8L448.2,283.8L448.8,283.8L449.5,283.9L450.2,284.1L450.8,284.3L451.4,284.7L452.0,285.1L452.4,285.6L452.8,286.1L453.0,286.8L453.2,287.5L453.3,288.1L453.3,288.8L453.2,289.5L453.1,290.1L453.0,290.7L452.8,291.3L452.6,291.9L452.4,292.5L452.2,293.0L451.9,293.5L451.6,293.9L451.4,294.4L451.1,294.8L450.7,295.2L450.4,295.5L450.1,295.9L449.7,296.2L449.4,296.5L449.0,296.8L448.7,297.1L448.3,297.3L447.9,297.6L447.6,297.8L447.2,298.0L446.8,298.3L446.4,298.5L446.0,298.7L445.5,298.9L445.1,299.1L444.6,299.2L444.2,299.4L443.7,299.6L443.1,299.7L442.6,299.9L442.0,300.0L441.4,300.1L440.8,300.1L440.1,300.1L439.4,300.1L438.7,300.0L438.0,299.9L437.3,299.7L436.6,299.4L436.0,299.1L435.4,298.6L434.8,298.2L434.3,297.6L433.8,297.0L433.5,296.3L433.2,295.6L433.4,294.8L433.7,294.0L434.1,293.2L434.4,292.5Z"/><path d="M435.4,291.9L435.8,291.4L436.1,290.9L436.4,290.4L436.8,289.9L437.1,289.5L437.4,289.1L437.8,288.8L438.1,288.4L438.5,288.1L438.8,287.8L439.2,287.5L439.5,287.2L439.9,287.0L440.2,286.8L440.6,286.5L441.0,286.3L441.3,286.1L441.7,285.9L442.1,285.7L442.5,285.5L442.9,285.4L443.3,285.2L443.8,285.0L444.2,284.9L444.7,284.7L445.2,284.6L445.7,284.5L446.2,284.4L446.8,284.3L447.4,284.2L448.0,284.2L448.7,284.2L449.3,284.3L450.0,284.4L450.6,284.7L451.1,285.0L451.6,285.4L452.1,285.9L452.4,286.5L452.6,287.1L452.8,287.7L452.8,288.4L452.8,289.0L452.8,289.6L452.7,290.2L452.5,290.8L452.4,291.4L452.2,291.9L452.0,292.4L451.7,292.9L451.5,293.4L451.3,293.8L451.0,294.2L450.7,294.6L450.4,295.0L450.1,295.3L449.8,295.7L449.5,296.0L449.1,296.2L448.8,296.5L448.5,296.8L448.1,297.0L447.8,297.3L447.4,297.5L447.1,297.7L446.7,297.9L446.3,298.1L445.9,298.3L445.5,298.5L445.1,298.7L444.7,298.9L444.2,299.1L443.7,299.2L443.2,299.4L442.7,299.5L442.2,299.6L441.6,299.7L441.0,299.8L440.3,299.8L439.7,299.8L439.0,299.7L438.4,299.6L437.7,299.4L437.1,299.1L436.5,298.7L435.9,298.3L435.4,297.8L434.9,297.3L434.5,296.7L434.1,296.1L433.9,295.4L434.1,294.6L434.4,293.9L434.8,293.2L435.1,292.5Z"/><path d="M436.0,291.9L436.4,291.4L436.7,290.9L437.0,290.5L437.3,290.1L437.6,289.7L437.9,289.3L438.2,289.0L438.6,288.7L438.9,288.3L439.2,288.1L439.5,287.8L439.9,287.5L440.2,287.3L440.5,287.1L440.9,286.9L441.2,286.7L441.6,286.5L441.9,286.3L442.3,286.1L442.6,285.9L443.0,285.7L443.4,285.6L443.8,285.4L444.3,285.3L444.7,285.1L445.2,285.0L445.7,284.9L446.2,284.7L446.7,284.6L447.3,284.6L447.9,284.5L448.5,284.6L449.1,284.7L449.7,284.8L450.3,285.1L450.8,285.4L451.3,285.8L451.7,286.2L452.0,286.8L452.2,287.4L452.3,288.0L452.4,288.6L452.4,289.2L452.3,289.8L452.2,290.4L452.1,290.9L451.9,291.4L451.7,291.9L451.5,292.4L451.3,292.9L451.1,293.3L450.9,293.7L450.6,294.1L450.4,294.5L450.1,294.8L449.8,295.1L449.5,295.4L449.2,295.7L448.9,296.0L448.6,296.3L448.3,296.5L447.9,296.7L447.6,297.0L447.3,297.2L447.0,297.4L446.6,297.6L446.3,297.8L445.9,298.0L445.5,298.2L445.1,298.4L444.7,298.5L444.3,298.7L443.8,298.9L443.3,299.0L442.8,299.1L442.3,299.3L441.8,299.3L441.2,299.4L440.6,299.4L440.0,299.4L439.3,299.3L438.7,299.2L438.1,299.0L437.5,298.7L436.9,298.4L436.4,298.0L435.9,297.5L435.5,297.0L435.1,296.5L434.8,295.9L434.6,295.2L434.8,294.5L435.1,293.8L435.4,293.1L435.7,292.5Z"/><path d="M436.7,292.0L437.0,291.5L437.2,291.0L437.5,290.6L437.8,290.2L438.1,289.9L438.4,289.5L438.7,289.2L439.0,288.9L439.3,288.6L439.6,288.3L439.9,288.1L440.2,287.9L440.5,287.6L440.8,287.4L441.1,287.2L441.4,287.0L441.8,286.8L442.1,286.6L442.4,286.5L442.8,286.3L443.1,286.1L443.5,286.0L443.9,285.8L444.3,285.6L444.7,285.5L445.2,285.4L445.6,285.2L446.1,285.1L446.7,285.0L447.2,285.0L447.8,284.9L448.4,284.9L448.9,285.0L449.5,285.2L450.1,285.4L450.5,285.7L451.0,286.1L451.3,286.6L451.6,287.1L451.8,287.6L451.9,288.2L451.9,288.8L451.9,289.4L451.9,289.9L451.8,290.5L451.6,291.0L451.5,291.5L451.3,292.0L451.1,292.4L450.9,292.8L450.7,293.2L450.5,293.6L450.2,294.0L450.0,294.3L449.7,294.6L449.5,294.9L449.2,295.2L448.9,295.5L448.6,295.8L448.4,296.0L448.1,296.2L447.8,296.5L447.5,296.7L447.2,296.9L446.8,297.1L446.5,297.3L446.2,297.5L445.8,297.7L445.5,297.8L445.1,298.0L444.7,298.2L444.3,298.3L443.9,298.5L443.4,298.6L443.0,298.8L442.5,298.9L441.9,299.0L441.4,299.1L440.8,299.1L440.2,299.1L439.6,299.0L439.0,298.9L438.4,298.7L437.9,298.4L437.4,298.0L436.9,297.6L436.5,297.2L436.1,296.7L435.8,296.2L435.5,295.6L435.3,295.0L435.5,294.3L435.8,293.7L436.1,293.0L436.4,292.5Z"/><path d="M437.3,292.0L437.5,291.5L437.8,291.1L438.1,290.7L438.4,290.4L438.6,290.0L438.9,289.7L439.2,289.4L439.4,289.1L439.7,288.9L440.0,288.6L440.3,288.4L440.5,288.2L440.8,287.9L441.1,287.7L441.4,287.5L441.7,287.4L442.0,287.2L442.3,287.0L442.6,286.8L442.9,286.6L443.3,286.5L443.6,286.3L444.0,286.2L444.4,286.0L444.8,285.9L445.2,285.7L445.6,285.6L446.1,285.5L446.6,285.4L447.1,285.3L447.7,285.3L448.2,285.3L448.8,285.4L449.3,285.6L449.8,285.8L450.2,286.1L450.6,286.5L451.0,286.9L451.2,287.4L451.4,287.9L451.5,288.5L451.5,289.0L451.5,289.6L451.4,290.1L451.3,290.6L451.2,291.1L451.0,291.5L450.9,292.0L450.7,292.4L450.5,292.8L450.3,293.2L450.1,293.5L449.9,293.9L449.6,294.2L449.4,294.5L449.2,294.8L448.9,295.0L448.7,295.3L448.4,295.5L448.1,295.7L447.9,296.0L447.6,296.2L447.3,296.4L447.0,296.6L446.7,296.8L446.4,297.0L446.1,297.1L445.8,297.3L445.5,297.5L445.1,297.7L444.7,297.8L444.4,298.0L444.0,298.1L443.5,298.3L443.1,298.4L442.6,298.5L442.1,298.6L441.6,298.7L441.0,298.7L440.5,298.7L439.9,298.6L439.4,298.5L438.8,298.3L438.3,298.0L437.8,297.7L437.4,297.3L437.0,296.9L436.7,296.4L436.4,295.9L436.2,295.4L436.1,294.8L436.2,294.2L436.5,293.5L436.8,293.0L437.0,292.5Z"/><path d="M439.4,292.0L439.6,291.7L439.8,291.4L440.0,291.1L440.2,290.9L440.4,290.6L440.5,290.4L440.7,290.2L440.9,290.0L441.1,289.8L441.3,289.6L441.5,289.4L441.7,289.2L441.9,289.0L442.1,288.9L442.3,288.7L442.5,288.5L442.7,288.4L443.0,288.2L443.2,288.1L443.4,287.9L443.7,287.8L444.0,287.6L444.2,287.5L444.5,287.3L444.8,287.2L445.2,287.1L445.5,286.9L445.9,286.8L446.3,286.7L446.8,286.6L447.2,286.6L447.7,286.6L448.1,286.7L448.5,286.8L448.9,287.1L449.2,287.3L449.5,287.7L449.7,288.1L449.8,288.5L449.9,288.9L450.0,289.4L449.9,289.8L449.9,290.2L449.8,290.6L449.7,291.0L449.6,291.4L449.5,291.7L449.3,292.0L449.2,292.3L449.0,292.6L448.9,292.9L448.7,293.2L448.6,293.4L448.4,293.6L448.2,293.9L448.1,294.1L447.9,294.3L447.7,294.5L447.5,294.7L447.3,294.8L447.1,295.0L446.9,295.2L446.7,295.4L446.5,295.5L446.3,295.7L446.1,295.8L445.9,296.0L445.6,296.2L445.4,296.3L445.1,296.5L444.8,296.6L444.5,296.8L444.2,296.9L443.9,297.1L443.5,297.2L443.1,297.3L442.7,297.4L442.3,297.5L441.8,297.5L441.4,297.5L440.9,297.4L440.5,297.3L440.1,297.1L439.8,296.8L439.4,296.5L439.2,296.1L439.0,295.7L438.8,295.3L438.7,294.9L438.6,294.5L438.6,294.1L438.7,293.6L438.9,293.2L439.1,292.8L439.2,292.4Z"/><path d="M441.6,292.1L441.7,291.9L441.8,291.7L441.9,291.5L442.0,291.4L442.1,291.2L442.2,291.1L442.3,290.9L442.4,290.8L442.5,290.6L442.6,290.5L442.7,290.4L442.9,290.3L443.0,290.1L443.1,290.0L443.2,289.9L443.3,289.7L443.5,289.6L443.6,289.5L443.8,289.4L443.9,289.2L444.1,289.1L444.3,288.9L444.5,288.8L444.7,288.7L444.9,288.5L445.2,288.4L445.5,288.3L445.8,288.1L446.1,288.0L446.4,288.0L446.8,287.9L447.1,287.9L447.4,288.0L447.7,288.1L448.0,288.3L448.2,288.6L448.3,288.9L448.4,289.2L448.5,289.6L448.5,289.9L448.4,290.3L448.4,290.6L448.3,290.9L448.2,291.2L448.1,291.4L448.0,291.7L447.9,291.9L447.8,292.1L447.7,292.3L447.6,292.5L447.5,292.7L447.4,292.8L447.3,293.0L447.2,293.1L447.1,293.3L447.0,293.4L446.9,293.6L446.8,293.7L446.7,293.8L446.5,293.9L446.4,294.1L446.3,294.2L446.2,294.3L446.1,294.5L445.9,294.6L445.8,294.7L445.6,294.8L445.5,295.0L445.3,295.1L445.1,295.3L444.9,295.4L444.7,295.5L444.5,295.7L444.2,295.8L443.9,295.9L443.6,296.1L443.3,296.2L443.0,296.2L442.6,296.3L442.3,296.3L442.0,296.2L441.7,296.1L441.4,295.9L441.2,295.6L441.1,295.3L441.0,295.0L440.9,294.6L440.9,294.3L441.0,293.9L441.0,293.6L441.1,293.3L441.2,293.0L441.3,292.8L441.4,292.5L441.5,292.3Z"/><path d="M402.3,326.6L401.9,326.9L401.5,327.1L401.0,327.2L400.5,327.2L399.9,327.2L399.2,327.0L398.6,326.8L397.8,326.5L397.1,326.2L396.3,325.8L395.5,325.3L394.8,324.7L394.0,324.1L393.3,323.5L392.5,322.8L391.8,322.0L391.2,321.3L390.6,320.5L390.0,319.8L389.5,319.0L389.1,318.2L388.8,317.5L388.5,316.7L388.3,316.1L388.1,315.4L388.1,314.8L388.1,314.3L388.2,313.8L388.4,313.4L388.7,313.0L389.1,312.7L389.5,312.5L390.0,312.4L390.5,312.4L391.1,312.4L391.8,312.6L392.4,312.8L393.2,313.1L393.9,313.4L394.7,313.8L395.5,314.3L396.2,314.9L397.0,315.5L397.7,316.1L398.5,316.8L399.2,317.6L399.8,318.3L400.4,319.1L401.0,319.8L401.5,320.6L401.9,321.4L402.2,322.1L402.5,322.9L402.7,323.5L402.9,324.2L402.9,324.8L402.9,325.3L402.8,325.8L402.6,326.2Z"/><path d="M345.0,343.0L349.4,342.2L355.4,341.8L372.6,341.7L380.2,341.9L385.0,342.6L388.6,343.5L391.8,345.1L394.2,347.0L396.2,349.8L397.7,353.2L398.6,357.6L399.1,363.2L398.8,380.4L398.5,386.0L398.0,388.8L397.4,391.2L396.7,393.2L395.6,395.2"/><path d="M345.0,347.0L349.0,345.8L354.6,345.2L369.4,344.9L377.8,345.1L382.6,345.7L386.2,346.6L389.1,348.0L391.4,349.9L393.4,352.8L394.3,354.8L394.9,356.8L395.7,361.6L395.9,366.8L395.1,382.4L394.5,387.2L393.8,389.6L392.7,392.0L391.4,393.8L390.0,395.2"/><path d="M345.0,351.5L346.6,350.5L348.6,349.6L351.0,348.9L353.4,348.5L362.6,348.0L374.6,347.9L379.8,348.3L383.8,349.3L387.0,350.8L388.5,352.0L389.6,353.2L391.0,355.2L392.0,357.6L392.8,360.4L393.1,363.6L393.0,368.0L392.1,375.2L391.4,382.8L391.0,385.6L390.4,387.6L389.7,389.2L388.7,390.8L387.4,392.2L386.0,393.2L384.2,394.1L382.2,394.7L379.9,395.2"/><path d="M352.1,395.2L348.2,394.2L346.6,393.5L345.0,392.5"/><path d="M345.0,358.9L346.2,356.5L347.8,354.6L350.0,353.2L353.0,352.2L358.2,351.2L366.6,350.4L372.6,350.3L377.4,350.6L380.2,351.1L383.0,352.0L385.4,353.3L387.2,354.8L388.7,356.8L389.9,359.2L390.7,362.0L390.9,364.8L390.4,368.8L388.6,376.0L387.4,382.8L386.8,385.2L386.0,386.8L384.9,388.4L383.6,389.6L381.8,390.6L378.2,391.6L373.4,392.1L359.8,392.1L353.8,391.6L350.6,390.8L349.1,390.0L347.9,389.2L346.2,387.2L345.0,384.4"/><path d="M374.6,388.0L371.0,388.2L363.4,388.3L357.0,388.0L355.0,387.6L353.0,386.9L351.6,386.0L350.4,384.8L349.3,382.8L348.6,380.0L347.7,368.8L347.6,365.2L347.9,362.4L348.6,360.0L349.8,358.0L351.5,356.4L353.0,355.5L355.0,354.6L360.2,353.2L367.0,352.1L373.0,351.9L377.4,352.3L381.4,353.3L383.0,354.0L384.6,355.0L385.8,356.0L387.0,357.4L387.9,358.8L388.6,360.4L389.2,363.6L389.0,367.2L387.8,371.2L384.9,377.6L383.0,382.6L381.7,384.8L380.5,386.0L379.0,386.9L377.0,387.6L374.6,388.0"/><path d="M373.8,385.6L366.6,385.8L361.0,385.7L358.2,385.5L356.2,385.1L354.6,384.4L353.5,383.6L352.6,382.6L351.7,380.8L351.0,378.3L349.4,369.2L349.2,365.2L349.4,362.8L350.2,360.4L351.4,358.6L353.0,357.1L354.6,356.1L356.6,355.2L361.4,353.7L367.4,352.7L373.0,352.5L377.8,352.9L381.4,354.0L384.2,355.6L385.6,356.8L386.6,358.0L388.0,360.8L388.6,364.0L388.6,365.6L388.3,367.6L387.0,371.2L385.0,374.8L381.0,381.2L379.8,382.8L378.6,383.9L377.4,384.6L375.8,385.2L373.8,385.6"/><path d="M372.6,382.0L367.4,382.0L360.6,381.3L358.9,380.8L357.4,380.0L355.4,378.1L353.8,375.5L352.2,371.9L351.2,368.8L350.9,366.0L351.0,363.6L351.6,361.2L352.9,359.2L354.6,357.6L356.2,356.6L358.2,355.6L362.6,354.2L367.8,353.3L373.0,353.0L377.4,353.5L381.0,354.5L383.8,356.1L385.1,357.2L386.1,358.4L387.0,360.0L387.6,361.6L387.9,363.2L388.0,364.8L387.5,368.0L385.9,371.6L384.6,373.6L383.0,375.6L381.0,377.7L379.0,379.5L377.4,380.5L375.8,381.3L372.6,382.0"/><path d="M373.8,378.9L371.4,379.0L369.0,378.9L366.2,378.5L363.4,377.9L361.0,377.1L359.4,376.3L357.8,375.3L356.2,373.9L354.7,372.0L353.6,370.0L352.8,368.0L352.5,366.0L352.5,364.0L353.0,362.0L353.8,360.4L355.1,358.8L357.9,356.8L361.6,355.2L366.2,354.1L371.0,353.5L375.4,353.7L379.0,354.4L382.2,355.8L384.6,357.6L386.4,360.0L387.0,361.6L387.3,363.2L387.4,364.8L387.3,366.4L386.7,368.4L386.0,370.0L383.8,373.2L382.2,374.9L380.6,376.2L377.4,377.9L373.8,378.9"/><path d="M373.4,377.2L371.0,377.3L368.6,377.1L365.8,376.6L363.4,375.9L361.4,375.1L359.4,374.0L357.9,372.8L356.6,371.6L355.4,370.0L354.6,368.4L354.0,366.4L353.9,364.8L354.1,363.2L354.6,361.6L355.6,360.0L356.7,358.8L359.4,356.9L363.0,355.4L367.4,354.4L371.8,354.0L375.8,354.3L379.4,355.1L382.2,356.4L384.5,358.4L385.4,359.6L386.2,361.1L386.6,362.4L386.8,364.0L386.8,365.6L386.5,367.2L385.2,370.0L383.0,372.9L380.2,375.1L377.0,376.5L373.4,377.2"/><path d="M373.8,376.0L371.4,376.1L369.0,375.9L364.6,374.9L362.6,374.1L360.6,373.1L359.1,372.0L357.8,370.8L356.8,369.6L355.9,368.0L355.4,366.4L355.2,364.8L355.4,363.2L355.7,362.0L356.6,360.4L357.7,359.2L360.2,357.4L363.4,356.0L367.4,354.9L371.4,354.5L375.0,354.7L378.6,355.4L381.4,356.6L383.8,358.4L385.4,360.8L385.9,362.0L386.2,363.6L386.0,366.4L385.0,369.2L383.0,371.8L380.6,373.8L377.4,375.3L373.8,376.0"/><path d="M375.8,374.8L373.8,375.1L371.4,375.2L367.0,374.6L363.0,373.2L361.4,372.3L359.8,371.2L358.6,370.0L357.4,368.4L356.8,367.2L356.4,365.6L356.4,364.0L356.6,362.8L357.3,361.2L358.2,360.0L360.2,358.2L363.0,356.7L366.2,355.7L370.2,355.1L373.8,355.0L377.4,355.6L380.2,356.6L382.6,358.1L384.3,360.0L385.4,362.4L385.7,364.8L385.1,367.6L383.7,370.0L381.4,372.3L379.0,373.8L375.8,374.8"/><path d="M372.6,374.4L368.6,374.1L364.6,373.0L361.4,371.3L360.2,370.3L359.0,369.0L358.1,367.6L357.7,366.4L357.4,364.8L357.5,363.6L357.8,362.4L358.4,361.2L359.3,360.0L360.6,358.8L363.0,357.4L366.2,356.2L369.4,355.6L373.0,355.4L376.2,355.8L379.0,356.6L381.4,357.8L383.4,359.6L384.7,362.0L385.1,364.4L384.7,366.8L383.4,369.4L381.4,371.5L379.0,373.0L375.8,374.0L372.6,374.4"/><path d="M374.2,373.6L370.6,373.7L366.6,372.9L363.4,371.6L360.7,369.6L359.7,368.4L359.0,367.2L358.5,366.0L358.3,364.8L358.4,363.6L358.7,362.4L359.3,361.2L360.3,360.0L362.3,358.4L365.0,357.1L368.2,356.2L371.4,355.9L374.6,356.0L377.8,356.6L380.2,357.7L382.3,359.2L383.8,361.2L384.5,363.2L384.5,365.6L383.6,368.0L382.2,370.0L379.8,371.8L377.0,373.1L374.2,373.6"/><path d="M375.4,372.8L371.8,373.1L368.2,372.7L365.0,371.6L362.2,369.9L360.4,368.0L359.7,366.8L359.3,365.6L359.2,364.4L359.4,363.2L359.8,362.0L360.6,360.8L362.2,359.2L364.6,357.8L367.4,356.9L370.6,356.3L373.8,356.3L376.6,356.8L379.4,357.8L381.4,359.1L382.9,360.8L383.8,362.8L384.0,365.2L383.4,367.2L382.1,369.2L380.2,370.9L377.8,372.2L375.4,372.8"/><path d="M374.6,372.4L371.4,372.5L367.8,372.0L364.7,370.8L362.4,369.2L360.8,367.2L360.3,366.0L360.0,364.8L360.1,363.6L360.4,362.4L361.8,360.4L363.4,359.1L365.8,357.9L368.6,357.1L371.4,356.7L374.2,356.8L377.0,357.3L379.4,358.3L381.2,359.6L382.5,361.2L383.3,363.2L383.4,365.2L382.8,367.2L381.4,369.2L379.8,370.5L377.4,371.7L374.6,372.4"/><path d="M373.4,372.0L370.2,371.9L367.0,371.2L364.2,369.8L362.2,368.0L361.1,366.0L360.8,364.0L361.4,362.0L362.2,360.9L363.1,360.0L365.0,358.8L367.4,357.8L370.2,357.2L373.0,357.1L375.4,357.4L377.8,358.1L379.8,359.1L381.4,360.5L382.4,362.0L382.9,364.0L382.6,366.0L381.7,368.0L380.2,369.5L378.2,370.8L375.8,371.6L373.4,372.0"/><path d="M375.4,371.2L372.6,371.5L369.4,371.3L366.6,370.4L364.2,369.0L362.4,367.2L361.6,365.2L361.7,363.2L362.8,361.2L364.2,359.9L366.2,358.7L368.6,357.9L371.0,357.6L373.4,357.5L375.8,357.9L377.8,358.5L379.8,359.7L381.3,361.2L382.1,362.8L382.3,364.4L381.9,366.4L381.0,368.0L379.4,369.5L377.4,370.6L375.4,371.2"/><path d="M374.6,370.9L371.8,371.0L369.0,370.7L366.6,369.8L364.3,368.4L363.0,366.8L362.3,364.8L362.6,362.8L363.6,361.2L365.0,360.0L367.0,358.9L369.0,358.3L371.4,358.0L373.8,358.0L376.2,358.4L378.2,359.2L379.8,360.3L380.9,361.6L381.6,363.2L381.7,365.2L381.1,366.8L380.2,368.1L378.6,369.4L376.6,370.4L374.6,370.9"/><path d="M374.2,370.4L371.4,370.5L369.0,370.2L366.6,369.2L364.8,368.0L363.5,366.4L363.0,364.8L363.1,363.6L363.3,362.8L364.4,361.2L365.8,360.1L367.5,359.2L369.4,358.6L371.8,358.3L374.2,358.5L376.2,358.9L377.9,359.6L379.6,360.8L380.5,362.0L381.1,363.6L381.1,365.2L380.5,366.8L379.4,368.1L377.9,369.2L376.2,370.0L374.2,370.4"/><path d="M373.8,370.0L371.4,370.1L369.0,369.6L366.9,368.8L365.2,367.6L364.1,366.0L363.7,364.4L364.0,362.8L365.2,361.2L366.6,360.2L368.2,359.4L370.2,358.9L372.2,358.7L374.2,358.9L376.2,359.4L377.8,360.1L379.2,361.2L380.1,362.4L380.6,364.0L380.4,365.6L379.8,366.8L378.7,368.0L377.4,368.9L375.8,369.6L373.8,370.0"/><path d="M373.0,369.6L370.6,369.5L368.6,369.0L366.6,368.0L365.3,366.8L364.6,365.6L364.4,364.0L365.0,362.4L366.0,361.2L367.4,360.3L369.2,359.6L371.0,359.2L373.0,359.2L375.0,359.5L376.6,360.0L378.0,360.8L379.0,361.8L379.8,363.2L380.0,364.4L379.8,365.6L379.1,366.8L377.9,368.0L376.6,368.8L375.0,369.3L373.0,369.6"/><path d="M375.0,368.8L373.0,369.1L371.0,369.1L369.0,368.6L367.1,367.6L365.8,366.4L365.2,365.2L365.2,363.6L365.8,362.4L366.6,361.5L367.8,360.7L369.4,360.0L371.0,359.7L373.0,359.6L374.6,359.8L376.2,360.4L377.4,361.0L378.5,362.0L379.0,362.8L379.3,364.0L379.2,365.2L378.7,366.4L377.8,367.4L376.6,368.2L375.0,368.8"/><path d="M374.2,368.5L372.6,368.6L370.6,368.5L369.0,368.0L367.4,367.1L366.4,366.0L365.9,364.8L366.0,363.6L366.6,362.4L367.4,361.6L368.7,360.8L370.2,360.3L371.8,360.1L373.4,360.1L374.9,360.4L376.2,360.9L377.3,361.6L378.0,362.4L378.6,363.6L378.6,364.8L378.4,365.6L377.9,366.4L377.0,367.3L375.7,368.0L374.2,368.5"/><path d="M373.8,368.0L372.2,368.1L370.6,367.9L369.0,367.4L367.8,366.6L367.0,365.6L366.7,364.4L366.9,363.2L367.5,362.4L368.4,361.6L369.4,361.1L370.6,360.8L372.2,360.6L374.6,360.9L375.8,361.3L376.8,362.0L377.5,362.8L377.9,363.6L377.9,364.8L377.6,365.6L377.1,366.4L376.2,367.1L375.0,367.7L373.8,368.0"/><path d="M374.2,367.3L373.0,367.5L371.4,367.5L369.8,367.1L368.7,366.4L367.9,365.6L367.6,364.8L367.6,363.6L368.1,362.8L369.0,362.0L369.8,361.6L371.8,361.1L373.8,361.2L375.8,362.1L376.9,363.2L377.1,364.0L377.1,364.8L376.8,365.6L376.0,366.4L374.2,367.3"/><path d="M373.4,366.8L371.3,366.8L369.4,366.0L368.6,364.8L368.5,364.0L368.9,363.2L370.2,362.2L371.8,361.8L373.8,361.9L375.4,362.7L375.9,363.2L376.2,364.0L376.0,365.2L375.0,366.2L373.4,366.8"/></g>
<g clip-path="url(#clip1)"><path d="M348,348.5 C352.5,350 355.2,356 355.2,363 C355.2,370 352.5,375.5 348,377 Z" fill="#1a1a1a"/><ellipse cx="350.6" cy="362" rx="1.2" ry="4.5" fill="#bbb"/><path d="M371.5,389 C371.5,384 372.5,382 376,382 L384,382.3 C387,383 389,385 391,389 Z" fill="#111"/></g>
<line x1="411.00" y1="252.20" x2="411.00" y2="388.50" stroke="#333" stroke-width="0.9"/>
<line x1="348.80" y1="337.00" x2="503.60" y2="337.00" stroke="#333" stroke-width="0.9"/>
<path d="M348.8,252.2 H503.6 V388.5" fill="none" stroke="#444" stroke-width="1"/>
<line x1="348.80" y1="251.70" x2="348.80" y2="389.30" stroke="#000" stroke-width="1.5"/>
<line x1="348.00" y1="388.50" x2="504.10" y2="388.50" stroke="#000" stroke-width="1.5"/>
<line x1="345.60" y1="388.50" x2="348.80" y2="388.50" stroke="#000" stroke-width="1.2"/>
<line x1="348.80" y1="388.50" x2="348.80" y2="391.70" stroke="#000" stroke-width="1.2"/>
<line x1="347.20" y1="378.24" x2="348.80" y2="378.24" stroke="#000" stroke-width="0.8"/>
<line x1="360.45" y1="388.50" x2="360.45" y2="390.10" stroke="#000" stroke-width="0.8"/>
<line x1="347.20" y1="372.24" x2="348.80" y2="372.24" stroke="#000" stroke-width="0.8"/>
<line x1="367.26" y1="388.50" x2="367.26" y2="390.10" stroke="#000" stroke-width="0.8"/>
<line x1="347.20" y1="367.98" x2="348.80" y2="367.98" stroke="#000" stroke-width="0.8"/>
<line x1="372.10" y1="388.50" x2="372.10" y2="390.10" stroke="#000" stroke-width="0.8"/>
<line x1="347.20" y1="364.68" x2="348.80" y2="364.68" stroke="#000" stroke-width="0.8"/>
<line x1="375.85" y1="388.50" x2="375.85" y2="390.10" stroke="#000" stroke-width="0.8"/>
<line x1="347.20" y1="361.98" x2="348.80" y2="361.98" stroke="#000" stroke-width="0.8"/>
<line x1="378.91" y1="388.50" x2="378.91" y2="390.10" stroke="#000" stroke-width="0.8"/>
<line x1="347.20" y1="359.70" x2="348.80" y2="359.70" stroke="#000" stroke-width="0.8"/>
<line x1="381.51" y1="388.50" x2="381.51" y2="390.10" stroke="#000" stroke-width="0.8"/>
<line x1="347.20" y1="357.73" x2="348.80" y2="357.73" stroke="#000" stroke-width="0.8"/>
<line x1="383.75" y1="388.50" x2="383.75" y2="390.10" stroke="#000" stroke-width="0.8"/>
<line x1="347.20" y1="355.98" x2="348.80" y2="355.98" stroke="#000" stroke-width="0.8"/>
<line x1="385.73" y1="388.50" x2="385.73" y2="390.10" stroke="#000" stroke-width="0.8"/>
<line x1="345.60" y1="354.43" x2="348.80" y2="354.43" stroke="#000" stroke-width="1.2"/>
<line x1="387.50" y1="388.50" x2="387.50" y2="391.70" stroke="#000" stroke-width="1.2"/>
<line x1="347.20" y1="344.17" x2="348.80" y2="344.17" stroke="#000" stroke-width="0.8"/>
<line x1="399.15" y1="388.50" x2="399.15" y2="390.10" stroke="#000" stroke-width="0.8"/>
<line x1="347.20" y1="338.17" x2="348.80" y2="338.17" stroke="#000" stroke-width="0.8"/>
<line x1="405.96" y1="388.50" x2="405.96" y2="390.10" stroke="#000" stroke-width="0.8"/>
<line x1="347.20" y1="333.91" x2="348.80" y2="333.91" stroke="#000" stroke-width="0.8"/>
<line x1="410.80" y1="388.50" x2="410.80" y2="390.10" stroke="#000" stroke-width="0.8"/>
<line x1="347.20" y1="330.61" x2="348.80" y2="330.61" stroke="#000" stroke-width="0.8"/>
<line x1="414.55" y1="388.50" x2="414.55" y2="390.10" stroke="#000" stroke-width="0.8"/>
<line x1="347.20" y1="327.91" x2="348.80" y2="327.91" stroke="#000" stroke-width="0.8"/>
<line x1="417.61" y1="388.50" x2="417.61" y2="390.10" stroke="#000" stroke-width="0.8"/>
<line x1="347.20" y1="325.63" x2="348.80" y2="325.63" stroke="#000" stroke-width="0.8"/>
<line x1="420.21" y1="388.50" x2="420.21" y2="390.10" stroke="#000" stroke-width="0.8"/>
<line x1="347.20" y1="323.65" x2="348.80" y2="323.65" stroke="#000" stroke-width="0.8"/>
<line x1="422.45" y1="388.50" x2="422.45" y2="390.10" stroke="#000" stroke-width="0.8"/>
<line x1="347.20" y1="321.91" x2="348.80" y2="321.91" stroke="#000" stroke-width="0.8"/>
<line x1="424.43" y1="388.50" x2="424.43" y2="390.10" stroke="#000" stroke-width="0.8"/>
<line x1="345.60" y1="320.35" x2="348.80" y2="320.35" stroke="#000" stroke-width="1.2"/>
<line x1="426.20" y1="388.50" x2="426.20" y2="391.70" stroke="#000" stroke-width="1.2"/>
<line x1="347.20" y1="310.09" x2="348.80" y2="310.09" stroke="#000" stroke-width="0.8"/>
<line x1="437.85" y1="388.50" x2="437.85" y2="390.10" stroke="#000" stroke-width="0.8"/>
<line x1="347.20" y1="304.09" x2="348.80" y2="304.09" stroke="#000" stroke-width="0.8"/>
<line x1="444.66" y1="388.50" x2="444.66" y2="390.10" stroke="#000" stroke-width="0.8"/>
<line x1="347.20" y1="299.83" x2="348.80" y2="299.83" stroke="#000" stroke-width="0.8"/>
<line x1="449.50" y1="388.50" x2="449.50" y2="390.10" stroke="#000" stroke-width="0.8"/>
<line x1="347.20" y1="296.53" x2="348.80" y2="296.53" stroke="#000" stroke-width="0.8"/>
<line x1="453.25" y1="388.50" x2="453.25" y2="390.10" stroke="#000" stroke-width="0.8"/>
<line x1="347.20" y1="293.83" x2="348.80" y2="293.83" stroke="#000" stroke-width="0.8"/>
<line x1="456.31" y1="388.50" x2="456.31" y2="390.10" stroke="#000" stroke-width="0.8"/>
<line x1="347.20" y1="291.55" x2="348.80" y2="291.55" stroke="#000" stroke-width="0.8"/>
<line x1="458.91" y1="388.50" x2="458.91" y2="390.10" stroke="#000" stroke-width="0.8"/>
<line x1="347.20" y1="289.58" x2="348.80" y2="289.58" stroke="#000" stroke-width="0.8"/>
<line x1="461.15" y1="388.50" x2="461.15" y2="390.10" stroke="#000" stroke-width="0.8"/>
<line x1="347.20" y1="287.83" x2="348.80" y2="287.83" stroke="#000" stroke-width="0.8"/>
<line x1="463.13" y1="388.50" x2="463.13" y2="390.10" stroke="#000" stroke-width="0.8"/>
<line x1="345.60" y1="286.27" x2="348.80" y2="286.27" stroke="#000" stroke-width="1.2"/>
<line x1="464.90" y1="388.50" x2="464.90" y2="391.70" stroke="#000" stroke-width="1.2"/>
<line x1="347.20" y1="276.02" x2="348.80" y2="276.02" stroke="#000" stroke-width="0.8"/>
<line x1="476.55" y1="388.50" x2="476.55" y2="390.10" stroke="#000" stroke-width="0.8"/>
<line x1="347.20" y1="270.02" x2="348.80" y2="270.02" stroke="#000" stroke-width="0.8"/>
<line x1="483.36" y1="388.50" x2="483.36" y2="390.10" stroke="#000" stroke-width="0.8"/>
<line x1="347.20" y1="265.76" x2="348.80" y2="265.76" stroke="#000" stroke-width="0.8"/>
<line x1="488.20" y1="388.50" x2="488.20" y2="390.10" stroke="#000" stroke-width="0.8"/>
<line x1="347.20" y1="262.46" x2="348.80" y2="262.46" stroke="#000" stroke-width="0.8"/>
<line x1="491.95" y1="388.50" x2="491.95" y2="390.10" stroke="#000" stroke-width="0.8"/>
<line x1="347.20" y1="259.76" x2="348.80" y2="259.76" stroke="#000" stroke-width="0.8"/>
<line x1="495.01" y1="388.50" x2="495.01" y2="390.10" stroke="#000" stroke-width="0.8"/>
<line x1="347.20" y1="257.48" x2="348.80" y2="257.48" stroke="#000" stroke-width="0.8"/>
<line x1="497.61" y1="388.50" x2="497.61" y2="390.10" stroke="#000" stroke-width="0.8"/>
<line x1="347.20" y1="255.50" x2="348.80" y2="255.50" stroke="#000" stroke-width="0.8"/>
<line x1="499.85" y1="388.50" x2="499.85" y2="390.10" stroke="#000" stroke-width="0.8"/>
<line x1="347.20" y1="253.76" x2="348.80" y2="253.76" stroke="#000" stroke-width="0.8"/>
<line x1="501.83" y1="388.50" x2="501.83" y2="390.10" stroke="#000" stroke-width="0.8"/>
<line x1="345.60" y1="252.20" x2="348.80" y2="252.20" stroke="#000" stroke-width="1.2"/>
<line x1="503.60" y1="388.50" x2="503.60" y2="391.70" stroke="#000" stroke-width="1.2"/>
<text x="336.20" y="391.80" font-size="8.0" font-weight="bold" text-anchor="end" stroke="#000" stroke-width="0.3">10</text>
<text x="337.80" y="387.90" font-size="6.4" font-weight="bold" stroke="#000" stroke-width="0.2">0</text>
<text x="351.50" y="402.80" font-size="8.0" font-weight="bold" text-anchor="end" stroke="#000" stroke-width="0.3">10</text>
<text x="352.20" y="398.40" font-size="6.4" font-weight="bold" stroke="#000" stroke-width="0.2">0</text>
<text x="336.20" y="357.73" font-size="8.0" font-weight="bold" text-anchor="end" stroke="#000" stroke-width="0.3">10</text>
<text x="337.80" y="353.82" font-size="6.4" font-weight="bold" stroke="#000" stroke-width="0.2">1</text>
<text x="390.20" y="402.80" font-size="8.0" font-weight="bold" text-anchor="end" stroke="#000" stroke-width="0.3">10</text>
<text x="390.90" y="398.40" font-size="6.4" font-weight="bold" stroke="#000" stroke-width="0.2">1</text>
<text x="336.20" y="323.65" font-size="8.0" font-weight="bold" text-anchor="end" stroke="#000" stroke-width="0.3">10</text>
<text x="337.80" y="319.75" font-size="6.4" font-weight="bold" stroke="#000" stroke-width="0.2">2</text>
<text x="428.90" y="402.80" font-size="8.0" font-weight="bold" text-anchor="end" stroke="#000" stroke-width="0.3">10</text>
<text x="429.60" y="398.40" font-size="6.4" font-weight="bold" stroke="#000" stroke-width="0.2">2</text>
<text x="336.20" y="289.57" font-size="8.0" font-weight="bold" text-anchor="end" stroke="#000" stroke-width="0.3">10</text>
<text x="337.80" y="285.67" font-size="6.4" font-weight="bold" stroke="#000" stroke-width="0.2">3</text>
<text x="467.60" y="402.80" font-size="8.0" font-weight="bold" text-anchor="end" stroke="#000" stroke-width="0.3">10</text>
<text x="468.30" y="398.40" font-size="6.4" font-weight="bold" stroke="#000" stroke-width="0.2">3</text>
<text x="336.20" y="255.50" font-size="8.0" font-weight="bold" text-anchor="end" stroke="#000" stroke-width="0.3">10</text>
<text x="337.80" y="251.60" font-size="6.4" font-weight="bold" stroke="#000" stroke-width="0.2">4</text>
<text x="506.30" y="402.80" font-size="8.0" font-weight="bold" text-anchor="end" stroke="#000" stroke-width="0.3">10</text>
<text x="507.00" y="398.40" font-size="6.4" font-weight="bold" stroke="#000" stroke-width="0.2">4</text>
<text x="351.30" y="261.70" font-size="8.8" font-weight="bold">4.64</text>
<text x="500.00" y="262.00" font-size="8.8" font-weight="bold" text-anchor="end">28.6</text>
<text x="500.50" y="386.40" font-size="8.8" font-weight="bold" text-anchor="end">0</text>
<rect x="350.2" y="379.0" width="21" height="8.8" fill="#fff"/>
<text x="351.60" y="386.50" font-size="8.8" font-weight="bold">66.7</text>
<text x="423.70" y="415.10" font-size="9" text-anchor="middle" textLength="31" lengthAdjust="spacingAndGlyphs">Gr-1 PE</text>
<text x="322.40" y="316.00" font-size="9.4" text-anchor="middle" textLength="44" lengthAdjust="spacingAndGlyphs" transform="rotate(-90 322.40 316.00)">Mac-1 APC</text>
<text x="403.80" y="249.00" font-size="9" font-weight="bold" font-style="italic" textLength="18.2" lengthAdjust="spacingAndGlyphs">Mll5</text>
<text x="427.30" y="249.00" font-size="9" font-weight="bold" font-style="italic">+/+</text>
<clipPath id="clip2"><rect x="350.2" y="446.0" width="154.40000000000003" height="135.79999999999995"/></clipPath>
<g fill="#999" clip-path="url(#clip2)"><rect x="367.4" y="472.5" width="0.9" height="0.9"/><rect x="400.0" y="455.5" width="0.9" height="0.9"/><rect x="387.4" y="507.7" width="0.9" height="0.9"/><rect x="363.1" y="452.5" width="0.9" height="0.9"/><rect x="368.2" y="501.9" width="0.9" height="0.9"/><rect x="385.2" y="460.3" width="0.9" height="0.9"/><rect x="377.5" y="502.9" width="0.9" height="0.9"/><rect x="376.9" y="499.9" width="0.9" height="0.9"/><rect x="409.1" y="504.0" width="0.9" height="0.9"/><rect x="375.1" y="463.4" width="0.9" height="0.9"/><rect x="372.4" y="489.9" width="0.9" height="0.9"/><rect x="404.6" y="511.6" width="0.9" height="0.9"/><rect x="370.8" y="523.8" width="0.9" height="0.9"/><rect x="379.8" y="504.9" width="0.9" height="0.9"/><rect x="358.3" y="456.6" width="0.9" height="0.9"/><rect x="363.9" y="520.5" width="0.9" height="0.9"/><rect x="392.1" y="517.6" width="0.9" height="0.9"/><rect x="390.0" y="481.3" width="0.9" height="0.9"/><rect x="382.5" y="496.7" width="0.9" height="0.9"/><rect x="402.9" y="483.9" width="0.9" height="0.9"/><rect x="404.6" y="498.3" width="0.9" height="0.9"/><rect x="400.9" y="488.8" width="0.9" height="0.9"/><rect x="392.9" y="475.8" width="0.9" height="0.9"/><rect x="382.8" y="465.7" width="0.9" height="0.9"/><rect x="357.9" y="451.2" width="0.9" height="0.9"/><rect x="474.9" y="485.4" width="0.9" height="0.9"/><rect x="492.7" y="516.5" width="0.9" height="0.9"/><rect x="446.0" y="527.8" width="0.9" height="0.9"/><rect x="464.9" y="510.8" width="0.9" height="0.9"/><rect x="448.1" y="464.1" width="0.9" height="0.9"/><rect x="426.6" y="462.9" width="0.9" height="0.9"/><rect x="465.9" y="457.2" width="0.9" height="0.9"/><rect x="412.8" y="516.3" width="0.9" height="0.9"/><rect x="420.0" y="484.9" width="0.9" height="0.9"/><rect x="455.5" y="498.9" width="0.9" height="0.9"/><rect x="446.4" y="577.0" width="0.9" height="0.9"/><rect x="474.0" y="559.6" width="0.9" height="0.9"/><rect x="459.1" y="556.3" width="0.9" height="0.9"/><rect x="498.1" y="542.9" width="0.9" height="0.9"/><rect x="467.2" y="558.6" width="0.9" height="0.9"/><rect x="394.7" y="546.2" width="0.9" height="0.9"/><rect x="381.0" y="517.8" width="0.9" height="0.9"/><rect x="390.3" y="484.8" width="0.9" height="0.9"/><rect x="389.9" y="481.9" width="0.9" height="0.9"/><rect x="395.0" y="522.6" width="0.9" height="0.9"/><rect x="378.6" y="528.6" width="0.9" height="0.9"/><rect x="381.3" y="503.1" width="0.9" height="0.9"/><rect x="378.6" y="495.6" width="0.9" height="0.9"/><rect x="392.8" y="491.3" width="0.9" height="0.9"/><rect x="380.8" y="486.4" width="0.9" height="0.9"/><rect x="378.9" y="468.6" width="0.9" height="0.9"/><rect x="387.8" y="508.0" width="0.9" height="0.9"/><rect x="406.5" y="512.9" width="0.9" height="0.9"/><rect x="431.3" y="506.4" width="0.9" height="0.9"/><rect x="384.7" y="537.4" width="0.9" height="0.9"/><rect x="375.2" y="519.4" width="0.9" height="0.9"/><rect x="376.7" y="507.1" width="0.9" height="0.9"/><rect x="360.5" y="518.0" width="0.9" height="0.9"/><rect x="389.5" y="480.6" width="0.9" height="0.9"/><rect x="418.9" y="515.3" width="0.9" height="0.9"/><rect x="392.7" y="485.1" width="0.9" height="0.9"/><rect x="391.3" y="496.7" width="0.9" height="0.9"/><rect x="403.6" y="516.0" width="0.9" height="0.9"/><rect x="381.3" y="489.0" width="0.9" height="0.9"/><rect x="383.5" y="473.0" width="0.9" height="0.9"/><rect x="382.5" y="498.2" width="0.9" height="0.9"/><rect x="403.1" y="526.4" width="0.9" height="0.9"/><rect x="379.1" y="511.0" width="0.9" height="0.9"/><rect x="384.9" y="541.5" width="0.9" height="0.9"/><rect x="391.2" y="510.0" width="0.9" height="0.9"/><rect x="377.0" y="483.8" width="0.9" height="0.9"/><rect x="395.2" y="492.3" width="0.9" height="0.9"/><rect x="397.7" y="468.8" width="0.9" height="0.9"/><rect x="402.6" y="482.0" width="0.9" height="0.9"/><rect x="419.6" y="494.2" width="0.9" height="0.9"/><rect x="409.6" y="472.1" width="0.9" height="0.9"/><rect x="398.9" y="482.2" width="0.9" height="0.9"/><rect x="384.2" y="500.5" width="0.9" height="0.9"/><rect x="386.9" y="505.3" width="0.9" height="0.9"/><rect x="404.0" y="513.1" width="0.9" height="0.9"/><rect x="390.6" y="472.7" width="0.9" height="0.9"/><rect x="379.1" y="496.1" width="0.9" height="0.9"/><rect x="358.1" y="515.0" width="0.9" height="0.9"/><rect x="388.2" y="495.0" width="0.9" height="0.9"/><rect x="407.2" y="513.4" width="0.9" height="0.9"/><rect x="395.5" y="480.0" width="0.9" height="0.9"/><rect x="397.0" y="506.9" width="0.9" height="0.9"/><rect x="377.8" y="520.9" width="0.9" height="0.9"/><rect x="400.1" y="460.6" width="0.9" height="0.9"/><rect x="394.0" y="474.7" width="0.9" height="0.9"/><rect x="410.2" y="516.1" width="0.9" height="0.9"/><rect x="374.3" y="482.3" width="0.9" height="0.9"/><rect x="393.6" y="495.2" width="0.9" height="0.9"/><rect x="416.4" y="514.8" width="0.9" height="0.9"/><rect x="387.5" y="511.5" width="0.9" height="0.9"/><rect x="359.5" y="506.2" width="0.9" height="0.9"/><rect x="405.9" y="496.4" width="0.9" height="0.9"/><rect x="380.6" y="511.3" width="0.9" height="0.9"/><rect x="423.3" y="504.1" width="0.9" height="0.9"/><rect x="374.1" y="528.9" width="0.9" height="0.9"/><rect x="361.9" y="510.1" width="0.9" height="0.9"/><rect x="382.7" y="518.6" width="0.9" height="0.9"/><rect x="378.4" y="526.5" width="0.9" height="0.9"/><rect x="396.8" y="465.5" width="0.9" height="0.9"/><rect x="360.4" y="493.7" width="0.9" height="0.9"/><rect x="412.7" y="502.5" width="0.9" height="0.9"/><rect x="393.1" y="495.3" width="0.9" height="0.9"/><rect x="403.8" y="507.5" width="0.9" height="0.9"/><rect x="396.5" y="480.3" width="0.9" height="0.9"/><rect x="411.0" y="527.3" width="0.9" height="0.9"/><rect x="371.2" y="546.0" width="0.9" height="0.9"/><rect x="403.6" y="490.2" width="0.9" height="0.9"/><rect x="361.5" y="513.1" width="0.9" height="0.9"/><rect x="400.9" y="488.1" width="0.9" height="0.9"/><rect x="363.4" y="522.5" width="0.9" height="0.9"/><rect x="382.6" y="490.6" width="0.9" height="0.9"/><rect x="437.5" y="542.6" width="0.9" height="0.9"/><rect x="407.3" y="490.9" width="0.9" height="0.9"/><rect x="402.4" y="454.4" width="0.9" height="0.9"/><rect x="393.7" y="484.8" width="0.9" height="0.9"/><rect x="371.4" y="468.3" width="0.9" height="0.9"/><rect x="400.4" y="501.8" width="0.9" height="0.9"/><rect x="394.6" y="516.8" width="0.9" height="0.9"/><rect x="378.5" y="475.3" width="0.9" height="0.9"/><rect x="363.6" y="493.3" width="0.9" height="0.9"/><rect x="404.2" y="497.0" width="0.9" height="0.9"/><rect x="402.3" y="476.4" width="0.9" height="0.9"/><rect x="384.5" y="484.7" width="0.9" height="0.9"/><rect x="372.0" y="537.2" width="0.9" height="0.9"/><rect x="405.6" y="484.8" width="0.9" height="0.9"/><rect x="379.7" y="498.9" width="0.9" height="0.9"/><rect x="368.9" y="508.7" width="0.9" height="0.9"/><rect x="371.3" y="492.6" width="0.9" height="0.9"/><rect x="375.6" y="490.4" width="0.9" height="0.9"/><rect x="370.7" y="468.5" width="0.9" height="0.9"/><rect x="376.5" y="486.4" width="0.9" height="0.9"/><rect x="387.3" y="501.4" width="0.9" height="0.9"/><rect x="416.4" y="516.2" width="0.9" height="0.9"/><rect x="388.0" y="514.5" width="0.9" height="0.9"/><rect x="381.0" y="529.0" width="0.9" height="0.9"/><rect x="400.8" y="472.9" width="0.9" height="0.9"/><rect x="404.1" y="516.3" width="0.9" height="0.9"/><rect x="384.4" y="461.4" width="0.9" height="0.9"/><rect x="374.9" y="481.0" width="0.9" height="0.9"/><rect x="400.1" y="506.0" width="0.9" height="0.9"/><rect x="434.0" y="492.1" width="0.9" height="0.9"/><rect x="410.5" y="501.6" width="0.9" height="0.9"/><rect x="396.3" y="476.8" width="0.9" height="0.9"/><rect x="361.4" y="484.7" width="0.9" height="0.9"/><rect x="404.2" y="531.7" width="0.9" height="0.9"/><rect x="458.3" y="501.0" width="0.9" height="0.9"/><rect x="426.5" y="523.8" width="0.9" height="0.9"/><rect x="474.6" y="478.3" width="0.9" height="0.9"/><rect x="444.0" y="468.1" width="0.9" height="0.9"/><rect x="477.3" y="498.9" width="0.9" height="0.9"/><rect x="442.9" y="499.0" width="0.9" height="0.9"/><rect x="454.7" y="480.9" width="0.9" height="0.9"/><rect x="417.7" y="461.8" width="0.9" height="0.9"/><rect x="406.8" y="500.1" width="0.9" height="0.9"/><rect x="493.8" y="452.6" width="0.9" height="0.9"/><rect x="448.0" y="499.0" width="0.9" height="0.9"/><rect x="423.3" y="494.5" width="0.9" height="0.9"/><rect x="420.9" y="516.4" width="0.9" height="0.9"/><rect x="431.9" y="492.2" width="0.9" height="0.9"/><rect x="460.1" y="480.5" width="0.9" height="0.9"/><rect x="405.6" y="478.3" width="0.9" height="0.9"/><rect x="461.8" y="488.1" width="0.9" height="0.9"/><rect x="450.1" y="466.2" width="0.9" height="0.9"/><rect x="448.2" y="506.0" width="0.9" height="0.9"/><rect x="445.8" y="532.0" width="0.9" height="0.9"/><rect x="440.4" y="467.1" width="0.9" height="0.9"/><rect x="409.4" y="515.3" width="0.9" height="0.9"/><rect x="443.7" y="512.3" width="0.9" height="0.9"/><rect x="455.1" y="525.8" width="0.9" height="0.9"/><rect x="472.9" y="481.7" width="0.9" height="0.9"/><rect x="451.0" y="513.9" width="0.9" height="0.9"/><rect x="417.8" y="521.9" width="0.9" height="0.9"/><rect x="471.7" y="511.6" width="0.9" height="0.9"/><rect x="440.6" y="496.6" width="0.9" height="0.9"/><rect x="420.4" y="491.3" width="0.9" height="0.9"/><rect x="432.1" y="491.9" width="0.9" height="0.9"/><rect x="434.1" y="496.2" width="0.9" height="0.9"/><rect x="470.9" y="461.2" width="0.9" height="0.9"/><rect x="465.4" y="446.2" width="0.9" height="0.9"/><rect x="397.5" y="487.4" width="0.9" height="0.9"/><rect x="445.1" y="499.7" width="0.9" height="0.9"/><rect x="408.8" y="488.7" width="0.9" height="0.9"/><rect x="447.8" y="517.6" width="0.9" height="0.9"/><rect x="442.7" y="501.6" width="0.9" height="0.9"/><rect x="423.5" y="485.9" width="0.9" height="0.9"/><rect x="435.2" y="505.5" width="0.9" height="0.9"/><rect x="423.2" y="471.6" width="0.9" height="0.9"/><rect x="457.7" y="529.4" width="0.9" height="0.9"/><rect x="453.4" y="496.7" width="0.9" height="0.9"/><rect x="437.4" y="513.9" width="0.9" height="0.9"/><rect x="456.9" y="528.1" width="0.9" height="0.9"/><rect x="452.3" y="469.1" width="0.9" height="0.9"/><rect x="432.5" y="468.3" width="0.9" height="0.9"/><rect x="417.5" y="517.8" width="0.9" height="0.9"/><rect x="462.8" y="462.7" width="0.9" height="0.9"/></g>
<g fill="none" stroke="#000" stroke-width="0.7" clip-path="url(#clip2)"><path d="M415.4,484.0L415.6,481.9L415.9,479.9L416.2,477.9L416.8,475.9L417.9,474.1L419.6,472.7L421.6,471.5L423.8,470.6L425.9,469.9L427.8,469.3L429.6,468.8L431.4,468.4L433.1,468.1L434.7,467.9L436.1,467.7L437.5,467.6L438.9,467.5L440.1,467.4L441.3,467.3L442.5,467.2L443.7,467.2L444.8,467.1L445.9,467.1L447.0,467.1L448.1,467.1L449.2,467.1L450.3,467.2L451.5,467.3L452.6,467.4L453.8,467.5L455.1,467.7L456.3,467.9L457.6,468.1L458.9,468.5L460.1,469.0L461.3,469.7L462.3,470.6L463.1,471.6L463.8,472.8L464.3,474.0L464.7,475.3L464.9,476.6L465.0,477.9L465.0,479.2L464.9,480.4L464.8,481.7L464.6,482.8L464.4,484.0L464.2,485.1L464.0,486.2L463.7,487.3L463.4,488.4L463.1,489.5L462.7,490.5L462.4,491.6L462.0,492.7L461.6,493.8L461.2,494.9L460.7,496.0L460.3,497.3L459.8,498.6L459.3,500.0L458.7,501.5L458.0,503.1L457.3,504.8L456.4,506.8L455.5,509.0L454.3,511.4L453.0,514.2L451.4,517.5L449.4,521.2L447.0,525.7L444.1,528.4L441.3,527.6L438.7,525.8L436.4,523.6L434.3,521.4L432.4,519.3L430.5,517.5L428.6,515.9L426.7,514.4L424.9,512.8L423.2,511.2L421.6,509.4L420.2,507.5L418.9,505.6L417.8,503.5L416.8,501.4L416.0,499.3L415.5,497.1L415.1,494.8L414.9,492.6L414.9,490.4L415.0,488.2L415.1,486.1Z"/><path d="M417.9,484.2L418.2,482.3L418.4,480.4L418.7,478.6L419.3,476.8L420.3,475.1L421.8,473.8L423.7,472.7L425.6,471.9L427.5,471.2L429.3,470.7L431.0,470.2L432.6,469.8L434.1,469.6L435.6,469.4L436.9,469.2L438.2,469.1L439.4,469.0L440.6,468.9L441.7,468.8L442.8,468.7L443.8,468.6L444.9,468.6L445.9,468.5L446.9,468.5L447.9,468.5L449.0,468.5L450.0,468.6L451.1,468.6L452.1,468.7L453.3,468.9L454.4,469.0L455.5,469.2L456.7,469.5L457.9,469.8L459.1,470.3L460.1,471.0L461.0,471.8L461.8,472.8L462.4,473.8L462.8,475.0L463.2,476.2L463.4,477.4L463.5,478.6L463.5,479.7L463.4,480.9L463.3,482.0L463.1,483.1L462.9,484.2L462.7,485.2L462.5,486.2L462.3,487.2L462.0,488.2L461.7,489.2L461.4,490.2L461.1,491.2L460.7,492.1L460.3,493.2L460.0,494.2L459.6,495.3L459.1,496.4L458.7,497.6L458.2,498.9L457.6,500.2L457.0,501.7L456.4,503.3L455.6,505.1L454.7,507.1L453.7,509.4L452.4,511.9L451.0,514.9L449.1,518.3L446.9,522.4L444.2,524.9L441.6,524.2L439.3,522.5L437.2,520.5L435.3,518.5L433.5,516.6L431.7,515.0L430.0,513.5L428.3,512.1L426.6,510.7L425.0,509.1L423.6,507.5L422.3,505.8L421.1,504.0L420.1,502.1L419.2,500.2L418.5,498.2L418.0,496.1L417.7,494.1L417.5,492.1L417.5,490.0L417.6,488.0L417.7,486.1Z"/><path d="M420.4,484.4L420.6,482.6L420.8,480.9L421.1,479.2L421.6,477.6L422.5,476.1L423.9,474.9L425.6,473.9L427.4,473.1L429.1,472.5L430.7,472.0L432.2,471.5L433.7,471.2L435.1,471.0L436.4,470.8L437.6,470.6L438.8,470.5L439.9,470.3L441.0,470.2L442.0,470.1L443.0,470.1L444.0,470.0L444.9,469.9L445.9,469.9L446.8,469.9L447.8,469.8L448.7,469.8L449.7,469.9L450.7,469.9L451.7,470.0L452.7,470.2L453.7,470.3L454.8,470.5L455.9,470.8L457.0,471.1L458.0,471.6L459.0,472.2L459.8,473.0L460.5,473.9L461.1,474.8L461.5,475.9L461.8,477.0L462.0,478.1L462.1,479.2L462.0,480.3L462.0,481.3L461.9,482.4L461.7,483.4L461.5,484.4L461.4,485.3L461.2,486.2L460.9,487.2L460.7,488.1L460.4,489.0L460.1,489.9L459.8,490.8L459.5,491.7L459.2,492.6L458.8,493.5L458.4,494.5L458.0,495.6L457.6,496.7L457.2,497.8L456.7,499.1L456.1,500.4L455.5,501.9L454.8,503.6L454.0,505.4L453.0,507.4L451.9,509.8L450.5,512.5L448.9,515.6L446.8,519.3L444.4,521.6L442.0,520.9L439.9,519.4L437.9,517.6L436.2,515.8L434.5,514.1L432.9,512.5L431.3,511.2L429.8,509.9L428.2,508.6L426.8,507.2L425.5,505.7L424.3,504.1L423.2,502.4L422.3,500.7L421.5,499.0L420.9,497.1L420.4,495.3L420.1,493.4L420.0,491.5L419.9,489.7L420.0,487.9L420.2,486.1Z"/><path d="M422.6,484.5L422.9,482.9L423.0,481.4L423.3,479.8L423.8,478.3L424.6,477.0L425.9,475.9L427.4,475.0L429.0,474.3L430.6,473.7L432.0,473.2L433.4,472.8L434.7,472.5L436.0,472.3L437.2,472.1L438.3,471.9L439.4,471.8L440.4,471.7L441.4,471.5L442.3,471.4L443.2,471.3L444.1,471.3L445.0,471.2L445.9,471.1L446.7,471.1L447.6,471.1L448.5,471.1L449.4,471.1L450.3,471.2L451.2,471.3L452.2,471.4L453.1,471.5L454.1,471.7L455.1,472.0L456.1,472.3L457.1,472.7L457.9,473.3L458.7,474.0L459.3,474.9L459.8,475.8L460.2,476.7L460.5,477.7L460.6,478.8L460.7,479.8L460.7,480.8L460.6,481.7L460.5,482.7L460.4,483.6L460.2,484.5L460.1,485.4L459.9,486.2L459.7,487.1L459.4,487.9L459.2,488.7L458.9,489.6L458.7,490.4L458.4,491.2L458.1,492.1L457.7,492.9L457.4,493.8L457.0,494.8L456.6,495.8L456.2,496.9L455.8,498.0L455.2,499.2L454.7,500.6L454.0,502.1L453.3,503.7L452.4,505.6L451.4,507.7L450.1,510.2L448.6,513.0L446.7,516.4L444.5,518.4L442.4,517.8L440.4,516.5L438.6,514.9L437.0,513.2L435.5,511.7L434.0,510.3L432.6,509.0L431.2,507.8L429.8,506.6L428.5,505.4L427.3,504.0L426.2,502.5L425.2,501.0L424.4,499.4L423.7,497.8L423.1,496.2L422.7,494.5L422.4,492.8L422.3,491.1L422.3,489.4L422.3,487.7L422.5,486.1Z"/><path d="M424.8,484.7L425.0,483.2L425.2,481.8L425.4,480.4L425.8,479.1L426.5,477.8L427.7,476.8L429.1,476.0L430.5,475.3L431.9,474.8L433.3,474.4L434.5,474.0L435.7,473.7L436.9,473.5L437.9,473.3L439.0,473.1L439.9,473.0L440.9,472.9L441.7,472.8L442.6,472.7L443.4,472.6L444.2,472.5L445.1,472.4L445.9,472.3L446.7,472.3L447.5,472.3L448.3,472.3L449.1,472.3L450.0,472.3L450.8,472.4L451.7,472.5L452.6,472.7L453.5,472.9L454.4,473.1L455.3,473.4L456.2,473.8L456.9,474.4L457.6,475.1L458.2,475.8L458.6,476.7L459.0,477.5L459.2,478.5L459.4,479.4L459.5,480.3L459.4,481.2L459.4,482.1L459.3,483.0L459.2,483.8L459.0,484.7L458.9,485.5L458.7,486.2L458.5,487.0L458.3,487.8L458.1,488.5L457.8,489.3L457.6,490.0L457.3,490.8L457.0,491.6L456.7,492.4L456.4,493.2L456.1,494.1L455.7,495.0L455.3,495.9L454.9,497.0L454.4,498.1L453.9,499.3L453.3,500.7L452.6,502.2L451.8,503.9L450.9,505.8L449.7,508.0L448.4,510.6L446.7,513.6L444.6,515.5L442.7,515.0L440.9,513.7L439.3,512.3L437.8,510.8L436.4,509.4L435.1,508.1L433.8,507.0L432.5,505.9L431.2,504.8L430.0,503.6L429.0,502.4L428.0,501.0L427.1,499.7L426.3,498.2L425.7,496.8L425.2,495.3L424.8,493.7L424.6,492.2L424.4,490.6L424.4,489.1L424.5,487.6L424.6,486.1Z"/><path d="M426.8,484.8L427.0,483.5L427.1,482.2L427.3,481.0L427.7,479.7L428.4,478.6L429.4,477.7L430.7,476.9L432.0,476.4L433.2,475.9L434.4,475.5L435.5,475.1L436.6,474.8L437.7,474.6L438.6,474.4L439.6,474.3L440.4,474.1L441.3,474.0L442.1,473.9L442.9,473.8L443.6,473.7L444.4,473.6L445.1,473.5L445.9,473.5L446.6,473.4L447.3,473.4L448.1,473.3L448.9,473.4L449.7,473.4L450.4,473.5L451.2,473.6L452.0,473.8L452.9,473.9L453.7,474.2L454.5,474.5L455.3,474.9L456.0,475.4L456.6,476.0L457.2,476.7L457.6,477.5L457.9,478.3L458.1,479.1L458.2,480.0L458.3,480.8L458.3,481.7L458.2,482.5L458.1,483.3L458.0,484.1L457.9,484.8L457.7,485.5L457.6,486.2L457.4,486.9L457.2,487.6L457.0,488.3L456.8,489.0L456.5,489.7L456.3,490.4L456.0,491.1L455.8,491.8L455.5,492.6L455.2,493.4L454.8,494.2L454.5,495.1L454.1,496.0L453.7,497.1L453.2,498.2L452.6,499.4L452.0,500.8L451.3,502.3L450.4,504.0L449.4,506.0L448.1,508.3L446.6,511.1L444.8,512.8L443.0,512.3L441.3,511.2L439.9,509.9L438.5,508.6L437.3,507.3L436.1,506.2L434.9,505.1L433.7,504.1L432.5,503.1L431.5,502.0L430.5,500.9L429.6,499.7L428.9,498.4L428.2,497.1L427.6,495.8L427.1,494.4L426.8,493.0L426.6,491.6L426.5,490.2L426.5,488.8L426.5,487.4L426.6,486.1Z"/><path d="M428.6,484.9L428.8,483.8L428.9,482.6L429.1,481.5L429.5,480.4L430.1,479.3L431.0,478.5L432.1,477.8L433.3,477.3L434.4,476.8L435.5,476.5L436.5,476.1L437.5,475.9L438.4,475.7L439.3,475.5L440.1,475.3L440.9,475.2L441.7,475.1L442.4,475.0L443.1,474.8L443.8,474.7L444.5,474.6L445.2,474.6L445.9,474.5L446.5,474.4L447.2,474.4L447.9,474.4L448.6,474.4L449.4,474.4L450.1,474.5L450.8,474.6L451.6,474.7L452.3,474.9L453.1,475.2L453.8,475.4L454.5,475.8L455.2,476.3L455.7,476.9L456.2,477.5L456.5,478.2L456.8,479.0L457.0,479.8L457.1,480.5L457.2,481.3L457.2,482.1L457.1,482.8L457.0,483.5L456.9,484.2L456.8,484.9L456.7,485.6L456.5,486.2L456.4,486.9L456.2,487.5L456.0,488.1L455.8,488.8L455.6,489.4L455.4,490.0L455.1,490.7L454.9,491.3L454.6,492.0L454.3,492.7L454.0,493.5L453.7,494.3L453.4,495.2L453.0,496.1L452.5,497.1L452.0,498.2L451.5,499.4L450.8,500.8L450.0,502.4L449.1,504.2L447.9,506.2L446.5,508.7L444.9,510.2L443.3,509.8L441.8,508.8L440.4,507.7L439.2,506.5L438.1,505.3L437.0,504.3L435.9,503.4L434.8,502.5L433.8,501.5L432.8,500.6L432.0,499.5L431.2,498.4L430.5,497.3L429.9,496.1L429.3,494.9L428.9,493.6L428.6,492.3L428.4,491.1L428.3,489.8L428.3,488.5L428.4,487.3L428.5,486.1Z"/><path d="M430.4,485.1L430.5,484.0L430.6,483.0L430.8,481.9L431.1,480.9L431.7,480.0L432.5,479.3L433.5,478.6L434.5,478.2L435.5,477.7L436.5,477.4L437.4,477.1L438.3,476.8L439.1,476.6L439.9,476.5L440.6,476.3L441.4,476.2L442.0,476.1L442.7,475.9L443.3,475.8L444.0,475.7L444.6,475.6L445.2,475.5L445.8,475.4L446.5,475.4L447.1,475.3L447.8,475.3L448.4,475.3L449.1,475.3L449.7,475.4L450.4,475.5L451.1,475.7L451.8,475.8L452.5,476.1L453.2,476.3L453.8,476.7L454.4,477.2L454.9,477.7L455.3,478.3L455.6,478.9L455.9,479.6L456.0,480.3L456.1,481.0L456.2,481.8L456.2,482.5L456.1,483.1L456.0,483.8L455.9,484.4L455.8,485.1L455.7,485.7L455.6,486.2L455.4,486.8L455.3,487.4L455.1,488.0L454.9,488.5L454.7,489.1L454.5,489.7L454.3,490.3L454.1,490.9L453.8,491.5L453.6,492.1L453.3,492.8L453.0,493.6L452.7,494.3L452.3,495.2L451.9,496.1L451.5,497.1L450.9,498.2L450.3,499.4L449.6,500.9L448.8,502.5L447.7,504.3L446.5,506.5L445.0,507.9L443.5,507.5L442.2,506.6L441.0,505.6L439.9,504.6L438.8,503.5L437.8,502.6L436.8,501.7L435.9,500.9L434.9,500.1L434.1,499.2L433.3,498.2L432.6,497.2L432.0,496.2L431.4,495.1L431.0,494.0L430.6,492.9L430.3,491.7L430.2,490.6L430.1,489.4L430.1,488.3L430.1,487.2L430.2,486.1Z"/><path d="M431.9,485.2L432.1,484.2L432.2,483.3L432.3,482.4L432.6,481.5L433.1,480.6L433.8,479.9L434.7,479.4L435.7,478.9L436.6,478.6L437.4,478.2L438.2,478.0L439.0,477.7L439.7,477.5L440.4,477.4L441.1,477.2L441.8,477.1L442.4,477.0L443.0,476.8L443.6,476.7L444.1,476.6L444.7,476.5L445.3,476.4L445.8,476.3L446.4,476.2L447.0,476.2L447.6,476.2L448.2,476.1L448.8,476.2L449.4,476.3L450.1,476.4L450.7,476.5L451.3,476.7L451.9,476.9L452.6,477.2L453.1,477.5L453.6,477.9L454.1,478.4L454.5,479.0L454.8,479.6L455.0,480.2L455.1,480.9L455.2,481.5L455.3,482.2L455.2,482.8L455.2,483.4L455.1,484.0L455.0,484.6L454.9,485.2L454.8,485.7L454.7,486.3L454.6,486.8L454.4,487.3L454.3,487.8L454.1,488.3L453.9,488.9L453.7,489.4L453.5,489.9L453.3,490.5L453.1,491.0L452.9,491.6L452.6,492.2L452.4,492.9L452.1,493.6L451.7,494.4L451.4,495.2L450.9,496.1L450.5,497.1L449.9,498.2L449.3,499.5L448.5,500.9L447.6,502.5L446.4,504.5L445.1,505.7L443.8,505.4L442.5,504.6L441.4,503.7L440.4,502.8L439.5,501.9L438.6,501.0L437.7,500.3L436.8,499.5L436.0,498.8L435.2,497.9L434.5,497.0L433.9,496.1L433.3,495.2L432.9,494.2L432.4,493.2L432.1,492.2L431.9,491.2L431.7,490.1L431.7,489.1L431.7,488.1L431.7,487.1L431.8,486.1Z"/><path d="M432.4,485.2L432.5,484.3L432.7,483.4L432.8,482.5L433.1,481.6L433.5,480.8L434.3,480.2L435.1,479.6L436.0,479.2L436.9,478.8L437.7,478.5L438.5,478.2L439.2,478.0L439.9,477.8L440.6,477.6L441.3,477.5L441.9,477.4L442.5,477.2L443.1,477.1L443.6,477.0L444.2,476.9L444.7,476.8L445.3,476.7L445.8,476.6L446.4,476.5L447.0,476.4L447.6,476.4L448.2,476.4L448.7,476.4L449.4,476.5L450.0,476.6L450.6,476.8L451.2,476.9L451.8,477.1L452.4,477.4L452.9,477.8L453.4,478.2L453.9,478.7L454.2,479.2L454.5,479.8L454.7,480.4L454.9,481.0L454.9,481.7L455.0,482.3L455.0,482.9L454.9,483.5L454.8,484.1L454.8,484.6L454.7,485.2L454.6,485.7L454.4,486.3L454.3,486.8L454.2,487.3L454.0,487.8L453.8,488.3L453.7,488.8L453.5,489.3L453.3,489.8L453.1,490.3L452.9,490.9L452.7,491.4L452.4,492.0L452.2,492.7L451.9,493.4L451.5,494.1L451.2,494.9L450.8,495.8L450.3,496.7L449.8,497.8L449.2,499.0L448.4,500.4L447.5,502.0L446.4,503.9L445.1,505.0L443.8,504.8L442.7,504.0L441.6,503.2L440.6,502.2L439.7,501.4L438.8,500.6L438.0,499.8L437.1,499.1L436.3,498.3L435.6,497.5L434.9,496.7L434.3,495.8L433.8,494.9L433.3,494.0L432.9,493.0L432.6,492.0L432.4,491.0L432.2,490.0L432.2,489.0L432.2,488.0L432.2,487.1L432.3,486.1Z"/><path d="M432.9,485.2L433.0,484.4L433.1,483.5L433.3,482.6L433.5,481.8L434.0,481.0L434.7,480.4L435.5,479.9L436.3,479.4L437.2,479.1L438.0,478.8L438.7,478.5L439.4,478.3L440.1,478.1L440.8,477.9L441.4,477.8L442.0,477.6L442.6,477.5L443.1,477.4L443.7,477.3L444.2,477.1L444.8,477.0L445.3,476.9L445.8,476.8L446.4,476.8L446.9,476.7L447.5,476.7L448.1,476.7L448.7,476.7L449.3,476.8L449.8,476.9L450.4,477.0L451.0,477.2L451.6,477.4L452.2,477.7L452.7,478.0L453.2,478.4L453.6,478.9L454.0,479.4L454.2,480.0L454.4,480.6L454.6,481.2L454.7,481.8L454.7,482.4L454.7,483.0L454.6,483.6L454.6,484.1L454.5,484.7L454.4,485.2L454.3,485.7L454.2,486.3L454.0,486.8L453.9,487.2L453.8,487.7L453.6,488.2L453.4,488.7L453.3,489.2L453.1,489.7L452.9,490.2L452.7,490.7L452.4,491.3L452.2,491.9L452.0,492.5L451.7,493.1L451.4,493.8L451.0,494.6L450.6,495.5L450.2,496.4L449.7,497.4L449.0,498.6L448.3,499.9L447.5,501.5L446.4,503.3L445.1,504.4L443.9,504.1L442.8,503.4L441.7,502.6L440.8,501.7L439.9,500.9L439.1,500.1L438.2,499.4L437.4,498.7L436.6,497.9L435.9,497.2L435.3,496.3L434.7,495.5L434.2,494.6L433.7,493.7L433.4,492.8L433.1,491.8L432.8,490.8L432.7,489.9L432.6,488.9L432.6,488.0L432.7,487.0L432.8,486.1Z"/><path d="M433.4,485.3L433.5,484.4L433.6,483.6L433.7,482.7L434.0,481.9L434.4,481.2L435.1,480.6L435.9,480.1L436.7,479.7L437.5,479.3L438.2,479.0L439.0,478.8L439.7,478.5L440.3,478.4L441.0,478.2L441.6,478.1L442.1,477.9L442.7,477.8L443.2,477.7L443.7,477.5L444.3,477.4L444.8,477.3L445.3,477.2L445.8,477.1L446.4,477.0L446.9,477.0L447.5,476.9L448.0,476.9L448.6,477.0L449.2,477.0L449.7,477.1L450.3,477.3L450.9,477.4L451.5,477.7L452.0,477.9L452.5,478.2L453.0,478.6L453.4,479.1L453.7,479.6L454.0,480.2L454.2,480.8L454.3,481.4L454.4,481.9L454.4,482.5L454.4,483.1L454.4,483.7L454.3,484.2L454.2,484.7L454.1,485.3L454.0,485.8L453.9,486.3L453.8,486.7L453.6,487.2L453.5,487.7L453.3,488.2L453.2,488.6L453.0,489.1L452.8,489.6L452.6,490.1L452.4,490.6L452.2,491.1L452.0,491.7L451.8,492.3L451.5,492.9L451.2,493.6L450.8,494.3L450.5,495.1L450.0,496.0L449.5,497.0L448.9,498.2L448.2,499.5L447.4,500.9L446.4,502.6L445.2,503.7L444.0,503.5L442.9,502.8L441.9,502.0L441.0,501.2L440.1,500.4L439.3,499.6L438.5,498.9L437.7,498.2L437.0,497.5L436.3,496.8L435.7,496.0L435.1,495.1L434.6,494.3L434.2,493.4L433.8,492.5L433.5,491.6L433.3,490.7L433.2,489.7L433.1,488.8L433.1,487.9L433.2,487.0L433.3,486.1Z"/><path d="M433.8,485.3L434.0,484.5L434.1,483.7L434.2,482.9L434.4,482.1L434.9,481.4L435.5,480.8L436.2,480.3L437.0,479.9L437.8,479.6L438.5,479.3L439.2,479.0L439.9,478.8L440.5,478.6L441.1,478.5L441.7,478.3L442.3,478.2L442.8,478.1L443.3,477.9L443.8,477.8L444.3,477.7L444.8,477.6L445.3,477.5L445.8,477.4L446.4,477.3L446.9,477.2L447.4,477.2L448.0,477.2L448.5,477.2L449.1,477.3L449.6,477.4L450.2,477.5L450.7,477.7L451.3,477.9L451.8,478.2L452.3,478.5L452.8,478.9L453.1,479.3L453.5,479.8L453.7,480.4L453.9,480.9L454.0,481.5L454.1,482.1L454.1,482.7L454.1,483.2L454.1,483.8L454.0,484.3L453.9,484.8L453.8,485.3L453.7,485.8L453.6,486.3L453.5,486.7L453.4,487.2L453.2,487.6L453.1,488.1L452.9,488.5L452.8,489.0L452.6,489.5L452.4,489.9L452.2,490.4L452.0,491.0L451.8,491.5L451.6,492.1L451.3,492.7L451.0,493.3L450.7,494.1L450.3,494.8L449.9,495.7L449.4,496.7L448.8,497.7L448.2,499.0L447.3,500.4L446.4,502.0L445.2,503.1L444.0,502.8L443.0,502.2L442.0,501.4L441.1,500.6L440.3,499.9L439.5,499.1L438.8,498.5L438.0,497.8L437.3,497.1L436.6,496.4L436.0,495.6L435.5,494.8L435.0,494.0L434.6,493.1L434.3,492.3L434.0,491.4L433.8,490.5L433.7,489.6L433.6,488.7L433.6,487.8L433.7,487.0L433.7,486.1Z"/><path d="M434.3,485.3L434.4,484.5L434.5,483.8L434.7,483.0L434.9,482.3L435.3,481.6L435.9,481.0L436.6,480.5L437.4,480.2L438.1,479.8L438.8,479.5L439.5,479.3L440.1,479.1L440.7,478.9L441.3,478.7L441.8,478.6L442.4,478.5L442.9,478.3L443.4,478.2L443.9,478.1L444.4,478.0L444.8,477.8L445.3,477.7L445.8,477.6L446.3,477.6L446.8,477.5L447.4,477.5L447.9,477.4L448.4,477.5L449.0,477.5L449.5,477.6L450.1,477.8L450.6,477.9L451.1,478.2L451.6,478.4L452.1,478.7L452.5,479.1L452.9,479.6L453.2,480.1L453.4,480.6L453.6,481.1L453.7,481.7L453.8,482.2L453.8,482.8L453.8,483.3L453.8,483.8L453.7,484.4L453.7,484.8L453.6,485.3L453.5,485.8L453.4,486.3L453.3,486.7L453.1,487.1L453.0,487.6L452.8,488.0L452.7,488.5L452.5,488.9L452.4,489.4L452.2,489.8L452.0,490.3L451.8,490.8L451.6,491.3L451.4,491.9L451.1,492.5L450.8,493.1L450.5,493.8L450.1,494.5L449.7,495.4L449.3,496.3L448.7,497.3L448.1,498.5L447.3,499.8L446.3,501.4L445.2,502.4L444.1,502.2L443.1,501.6L442.2,500.9L441.3,500.1L440.5,499.3L439.8,498.6L439.0,498.0L438.3,497.4L437.6,496.7L437.0,496.0L436.4,495.3L435.9,494.5L435.4,493.7L435.0,492.9L434.7,492.0L434.5,491.2L434.3,490.3L434.2,489.5L434.1,488.6L434.1,487.8L434.1,486.9L434.2,486.1Z"/><path d="M434.8,485.4L434.9,484.6L435.0,483.9L435.1,483.1L435.4,482.4L435.7,481.8L436.3,481.2L437.0,480.8L437.7,480.4L438.4,480.1L439.1,479.8L439.7,479.6L440.3,479.4L440.9,479.2L441.5,479.0L442.0,478.9L442.5,478.7L443.0,478.6L443.5,478.5L443.9,478.4L444.4,478.2L444.9,478.1L445.4,478.0L445.8,477.9L446.3,477.8L446.8,477.8L447.3,477.7L447.8,477.7L448.4,477.7L448.9,477.8L449.4,477.9L449.9,478.0L450.5,478.2L451.0,478.4L451.4,478.7L451.9,479.0L452.3,479.4L452.7,479.8L453.0,480.3L453.2,480.8L453.4,481.3L453.5,481.8L453.5,482.4L453.6,482.9L453.6,483.4L453.5,483.9L453.5,484.4L453.4,484.9L453.3,485.4L453.2,485.8L453.1,486.3L453.0,486.7L452.9,487.1L452.7,487.5L452.6,488.0L452.5,488.4L452.3,488.8L452.1,489.2L452.0,489.7L451.8,490.1L451.6,490.6L451.4,491.1L451.2,491.7L450.9,492.2L450.6,492.8L450.3,493.5L450.0,494.2L449.6,495.0L449.1,495.9L448.6,496.9L448.0,498.0L447.2,499.3L446.3,500.8L445.2,501.8L444.2,501.5L443.2,501.0L442.3,500.3L441.5,499.6L440.7,498.8L440.0,498.2L439.3,497.5L438.6,496.9L437.9,496.3L437.3,495.6L436.8,494.9L436.3,494.2L435.8,493.4L435.5,492.6L435.2,491.8L434.9,491.0L434.7,490.2L434.6,489.3L434.6,488.5L434.6,487.7L434.6,486.9L434.7,486.1Z"/><path d="M435.3,485.4L435.4,484.7L435.5,484.0L435.6,483.3L435.8,482.6L436.2,482.0L436.7,481.4L437.4,481.0L438.1,480.6L438.7,480.3L439.4,480.1L440.0,479.8L440.5,479.6L441.1,479.5L441.6,479.3L442.1,479.2L442.6,479.0L443.1,478.9L443.6,478.8L444.0,478.6L444.5,478.5L444.9,478.4L445.4,478.3L445.8,478.2L446.3,478.1L446.8,478.0L447.3,478.0L447.8,478.0L448.3,478.0L448.8,478.1L449.3,478.2L449.8,478.3L450.3,478.5L450.8,478.7L451.3,478.9L451.7,479.2L452.1,479.6L452.4,480.0L452.7,480.5L452.9,481.0L453.1,481.5L453.2,482.0L453.3,482.5L453.3,483.0L453.3,483.5L453.2,484.0L453.2,484.5L453.1,484.9L453.0,485.4L452.9,485.8L452.8,486.3L452.7,486.7L452.6,487.1L452.5,487.5L452.3,487.9L452.2,488.3L452.1,488.7L451.9,489.1L451.7,489.6L451.6,490.0L451.4,490.5L451.2,490.9L451.0,491.5L450.7,492.0L450.5,492.6L450.2,493.2L449.8,493.9L449.4,494.7L449.0,495.5L448.5,496.5L447.9,497.5L447.2,498.8L446.3,500.2L445.3,501.1L444.3,500.9L443.3,500.4L442.5,499.7L441.7,499.0L440.9,498.3L440.2,497.7L439.5,497.1L438.9,496.5L438.2,495.9L437.7,495.2L437.1,494.5L436.7,493.8L436.3,493.1L435.9,492.3L435.6,491.6L435.4,490.8L435.2,490.0L435.1,489.2L435.1,488.4L435.1,487.6L435.1,486.9L435.2,486.1Z"/><path d="M435.8,485.4L435.9,484.7L436.0,484.1L436.1,483.4L436.3,482.7L436.6,482.1L437.1,481.6L437.8,481.2L438.4,480.9L439.0,480.6L439.6,480.3L440.2,480.1L440.8,479.9L441.3,479.7L441.8,479.6L442.3,479.4L442.7,479.3L443.2,479.2L443.6,479.0L444.1,478.9L444.5,478.8L444.9,478.7L445.4,478.5L445.8,478.4L446.3,478.4L446.8,478.3L447.2,478.2L447.7,478.2L448.2,478.2L448.7,478.3L449.2,478.4L449.7,478.5L450.2,478.7L450.6,478.9L451.1,479.2L451.5,479.5L451.9,479.8L452.2,480.2L452.5,480.7L452.7,481.2L452.8,481.7L452.9,482.2L453.0,482.7L453.0,483.1L453.0,483.6L452.9,484.1L452.9,484.6L452.8,485.0L452.7,485.4L452.7,485.8L452.6,486.3L452.5,486.7L452.3,487.1L452.2,487.4L452.1,487.8L452.0,488.2L451.8,488.6L451.7,489.0L451.5,489.4L451.3,489.9L451.2,490.3L451.0,490.8L450.8,491.3L450.5,491.8L450.3,492.3L450.0,492.9L449.7,493.6L449.3,494.3L448.9,495.1L448.4,496.0L447.8,497.1L447.1,498.2L446.3,499.6L445.3,500.4L444.3,500.3L443.4,499.8L442.6,499.1L441.9,498.5L441.1,497.8L440.5,497.2L439.8,496.6L439.2,496.1L438.6,495.5L438.0,494.9L437.5,494.2L437.1,493.5L436.7,492.8L436.4,492.1L436.1,491.3L435.9,490.6L435.7,489.8L435.6,489.1L435.6,488.3L435.6,487.6L435.6,486.8L435.7,486.1Z"/><path d="M436.2,485.5L436.3,484.8L436.4,484.2L436.5,483.5L436.7,482.9L437.1,482.3L437.6,481.9L438.1,481.5L438.7,481.1L439.3,480.8L439.9,480.6L440.4,480.4L441.0,480.2L441.5,480.0L442.0,479.8L442.4,479.7L442.9,479.6L443.3,479.4L443.7,479.3L444.1,479.2L444.5,479.0L445.0,478.9L445.4,478.8L445.8,478.7L446.3,478.6L446.7,478.5L447.2,478.5L447.7,478.5L448.1,478.5L448.6,478.6L449.1,478.7L449.6,478.8L450.0,479.0L450.5,479.2L450.9,479.4L451.3,479.7L451.7,480.1L452.0,480.5L452.2,480.9L452.4,481.4L452.5,481.8L452.6,482.3L452.7,482.8L452.7,483.3L452.7,483.7L452.7,484.2L452.6,484.6L452.5,485.1L452.5,485.5L452.4,485.9L452.3,486.3L452.2,486.6L452.1,487.0L452.0,487.4L451.8,487.8L451.7,488.1L451.6,488.5L451.4,488.9L451.3,489.3L451.1,489.7L450.9,490.1L450.8,490.6L450.6,491.0L450.3,491.5L450.1,492.1L449.8,492.7L449.5,493.3L449.2,494.0L448.8,494.7L448.3,495.6L447.7,496.6L447.1,497.7L446.3,499.0L445.3,499.8L444.4,499.6L443.5,499.1L442.8,498.6L442.0,497.9L441.4,497.3L440.7,496.7L440.1,496.2L439.5,495.6L438.9,495.1L438.4,494.5L437.9,493.8L437.5,493.2L437.1,492.5L436.8,491.8L436.5,491.1L436.3,490.4L436.2,489.6L436.1,488.9L436.0,488.2L436.0,487.5L436.1,486.8L436.2,486.1Z"/><path d="M436.7,485.5L436.8,484.9L436.9,484.3L437.0,483.7L437.2,483.1L437.5,482.5L438.0,482.1L438.5,481.7L439.1,481.4L439.7,481.1L440.2,480.8L440.7,480.6L441.2,480.4L441.7,480.3L442.1,480.1L442.6,480.0L443.0,479.8L443.4,479.7L443.8,479.6L444.2,479.4L444.6,479.3L445.0,479.2L445.4,479.1L445.8,479.0L446.3,478.9L446.7,478.8L447.1,478.8L447.6,478.7L448.1,478.8L448.5,478.8L449.0,478.9L449.4,479.1L449.9,479.2L450.3,479.4L450.7,479.7L451.1,480.0L451.4,480.3L451.7,480.7L452.0,481.1L452.1,481.6L452.3,482.0L452.4,482.5L452.4,482.9L452.4,483.4L452.4,483.8L452.4,484.3L452.3,484.7L452.3,485.1L452.2,485.5L452.1,485.9L452.0,486.3L451.9,486.6L451.8,487.0L451.7,487.4L451.6,487.7L451.5,488.1L451.3,488.4L451.2,488.8L451.0,489.2L450.9,489.6L450.7,490.0L450.5,490.4L450.4,490.8L450.1,491.3L449.9,491.8L449.6,492.4L449.3,493.0L449.0,493.6L448.6,494.4L448.2,495.2L447.6,496.1L447.0,497.1L446.3,498.3L445.4,499.1L444.5,499.0L443.7,498.5L442.9,498.0L442.2,497.4L441.6,496.8L440.9,496.3L440.3,495.7L439.8,495.2L439.2,494.7L438.7,494.1L438.3,493.5L437.9,492.8L437.5,492.2L437.2,491.5L437.0,490.8L436.8,490.2L436.6,489.5L436.6,488.8L436.5,488.1L436.5,487.4L436.6,486.8L436.6,486.1Z"/><path d="M437.2,485.5L437.3,484.9L437.4,484.4L437.5,483.8L437.7,483.2L437.9,482.7L438.4,482.3L438.9,481.9L439.4,481.6L440.0,481.3L440.5,481.1L440.9,480.9L441.4,480.7L441.9,480.5L442.3,480.4L442.7,480.3L443.1,480.1L443.5,480.0L443.9,479.8L444.3,479.7L444.6,479.6L445.0,479.5L445.4,479.3L445.8,479.2L446.2,479.2L446.7,479.1L447.1,479.0L447.5,479.0L448.0,479.0L448.4,479.1L448.9,479.2L449.3,479.3L449.7,479.5L450.1,479.7L450.5,479.9L450.9,480.2L451.2,480.6L451.5,480.9L451.7,481.3L451.9,481.8L452.0,482.2L452.1,482.6L452.1,483.1L452.2,483.5L452.1,483.9L452.1,484.4L452.1,484.8L452.0,485.2L451.9,485.5L451.8,485.9L451.8,486.3L451.7,486.6L451.6,487.0L451.5,487.3L451.3,487.6L451.2,488.0L451.1,488.3L451.0,488.7L450.8,489.0L450.7,489.4L450.5,489.8L450.3,490.2L450.2,490.6L450.0,491.1L449.7,491.6L449.5,492.1L449.2,492.7L448.9,493.3L448.5,494.0L448.1,494.7L447.6,495.6L447.0,496.6L446.2,497.7L445.4,498.5L444.6,498.3L443.8,497.9L443.1,497.4L442.4,496.9L441.8,496.3L441.2,495.8L440.6,495.3L440.1,494.8L439.5,494.3L439.1,493.7L438.6,493.1L438.3,492.5L437.9,491.9L437.7,491.3L437.4,490.6L437.3,490.0L437.1,489.3L437.0,488.6L437.0,488.0L437.0,487.4L437.1,486.7L437.1,486.1Z"/><path d="M437.7,485.6L437.8,485.0L437.8,484.5L437.9,483.9L438.1,483.4L438.4,482.9L438.8,482.5L439.3,482.1L439.8,481.8L440.3,481.6L440.7,481.4L441.2,481.2L441.6,481.0L442.1,480.8L442.5,480.7L442.9,480.5L443.2,480.4L443.6,480.3L444.0,480.1L444.3,480.0L444.7,479.9L445.1,479.7L445.4,479.6L445.8,479.5L446.2,479.4L446.6,479.3L447.0,479.3L447.5,479.3L447.9,479.3L448.3,479.3L448.8,479.4L449.2,479.6L449.6,479.7L450.0,479.9L450.3,480.2L450.7,480.5L451.0,480.8L451.2,481.2L451.5,481.5L451.6,482.0L451.7,482.4L451.8,482.8L451.9,483.2L451.9,483.6L451.9,484.1L451.8,484.4L451.8,484.8L451.7,485.2L451.6,485.6L451.6,485.9L451.5,486.3L451.4,486.6L451.3,486.9L451.2,487.3L451.1,487.6L451.0,487.9L450.9,488.2L450.7,488.6L450.6,488.9L450.5,489.3L450.3,489.6L450.1,490.0L450.0,490.4L449.8,490.9L449.5,491.3L449.3,491.8L449.0,492.4L448.7,492.9L448.4,493.6L448.0,494.3L447.5,495.1L446.9,496.1L446.2,497.1L445.4,497.8L444.6,497.7L443.9,497.3L443.2,496.8L442.6,496.3L442.0,495.8L441.4,495.3L440.9,494.8L440.3,494.4L439.9,493.9L439.4,493.3L439.0,492.8L438.7,492.2L438.4,491.6L438.1,491.0L437.9,490.4L437.7,489.8L437.6,489.1L437.5,488.5L437.5,487.9L437.5,487.3L437.5,486.7L437.6,486.1Z"/><path d="M438.2,485.6L438.2,485.1L438.3,484.6L438.4,484.0L438.6,483.6L438.8,483.1L439.2,482.7L439.7,482.4L440.1,482.1L440.6,481.8L441.0,481.6L441.4,481.4L441.9,481.2L442.2,481.1L442.6,480.9L443.0,480.8L443.4,480.7L443.7,480.5L444.0,480.4L444.4,480.3L444.7,480.1L445.1,480.0L445.4,479.9L445.8,479.8L446.2,479.7L446.6,479.6L447.0,479.5L447.4,479.5L447.8,479.5L448.2,479.6L448.6,479.7L449.0,479.8L449.4,480.0L449.8,480.2L450.2,480.4L450.5,480.7L450.8,481.0L451.0,481.4L451.2,481.8L451.4,482.2L451.5,482.6L451.5,483.0L451.6,483.4L451.6,483.8L451.6,484.2L451.5,484.5L451.5,484.9L451.4,485.3L451.4,485.6L451.3,485.9L451.2,486.3L451.1,486.6L451.1,486.9L451.0,487.2L450.8,487.5L450.7,487.8L450.6,488.1L450.5,488.5L450.4,488.8L450.2,489.1L450.1,489.5L449.9,489.8L449.8,490.2L449.6,490.6L449.4,491.1L449.1,491.5L448.9,492.0L448.6,492.6L448.2,493.2L447.9,493.9L447.4,494.7L446.9,495.5L446.2,496.5L445.4,497.1L444.7,497.0L444.0,496.7L443.3,496.3L442.7,495.8L442.2,495.3L441.6,494.8L441.1,494.4L440.6,493.9L440.2,493.4L439.8,492.9L439.4,492.4L439.1,491.9L438.8,491.3L438.5,490.7L438.3,490.1L438.2,489.6L438.1,489.0L438.0,488.4L438.0,487.8L438.0,487.2L438.0,486.7L438.1,486.1Z"/><path d="M438.6,485.6L438.7,485.1L438.8,484.7L438.9,484.2L439.0,483.7L439.3,483.3L439.6,482.9L440.0,482.6L440.5,482.3L440.9,482.1L441.3,481.9L441.7,481.7L442.1,481.5L442.4,481.4L442.8,481.2L443.1,481.1L443.5,480.9L443.8,480.8L444.1,480.7L444.5,480.5L444.8,480.4L445.1,480.3L445.5,480.2L445.8,480.0L446.2,479.9L446.6,479.9L447.0,479.8L447.3,479.8L447.7,479.8L448.1,479.9L448.5,479.9L448.9,480.1L449.3,480.2L449.6,480.5L450.0,480.7L450.3,481.0L450.6,481.3L450.8,481.6L451.0,482.0L451.1,482.3L451.2,482.7L451.3,483.1L451.3,483.5L451.3,483.9L451.3,484.3L451.3,484.6L451.2,485.0L451.2,485.3L451.1,485.6L451.0,485.9L451.0,486.3L450.9,486.6L450.8,486.9L450.7,487.2L450.6,487.5L450.5,487.8L450.4,488.1L450.3,488.4L450.1,488.7L450.0,489.0L449.9,489.3L449.7,489.7L449.6,490.0L449.4,490.4L449.2,490.8L449.0,491.3L448.7,491.7L448.4,492.3L448.1,492.8L447.7,493.5L447.3,494.2L446.8,495.0L446.2,495.9L445.5,496.5L444.8,496.4L444.1,496.1L443.5,495.7L442.9,495.2L442.4,494.8L441.9,494.4L441.4,493.9L440.9,493.5L440.5,493.0L440.1,492.6L439.8,492.0L439.5,491.5L439.2,491.0L439.0,490.4L438.8,489.9L438.6,489.3L438.5,488.8L438.5,488.2L438.5,487.7L438.5,487.2L438.5,486.6L438.6,486.1Z"/><path d="M439.1,485.7L439.2,485.2L439.3,484.8L439.3,484.3L439.5,483.9L439.7,483.5L440.0,483.1L440.4,482.8L440.8,482.6L441.2,482.3L441.6,482.1L441.9,482.0L442.3,481.8L442.6,481.6L443.0,481.5L443.3,481.4L443.6,481.2L443.9,481.1L444.2,480.9L444.5,480.8L444.8,480.7L445.2,480.5L445.5,480.4L445.8,480.3L446.2,480.2L446.5,480.1L446.9,480.1L447.3,480.0L447.7,480.1L448.1,480.1L448.4,480.2L448.8,480.3L449.1,480.5L449.5,480.7L449.8,480.9L450.1,481.2L450.3,481.5L450.5,481.8L450.7,482.2L450.8,482.5L450.9,482.9L451.0,483.3L451.0,483.7L451.0,484.0L451.0,484.4L451.0,484.7L450.9,485.0L450.9,485.4L450.8,485.7L450.8,486.0L450.7,486.3L450.6,486.5L450.5,486.8L450.4,487.1L450.3,487.4L450.2,487.7L450.1,488.0L450.0,488.2L449.9,488.5L449.8,488.8L449.7,489.1L449.5,489.5L449.4,489.8L449.2,490.2L449.0,490.6L448.8,491.0L448.6,491.4L448.3,491.9L448.0,492.4L447.6,493.0L447.2,493.7L446.7,494.4L446.2,495.3L445.5,495.8L444.8,495.7L444.2,495.5L443.6,495.1L443.1,494.7L442.6,494.3L442.1,493.9L441.7,493.5L441.2,493.1L440.8,492.6L440.5,492.2L440.1,491.7L439.9,491.2L439.6,490.7L439.4,490.2L439.2,489.7L439.1,489.1L439.0,488.6L439.0,488.1L439.0,487.6L439.0,487.1L439.0,486.6L439.1,486.1Z"/><path d="M439.6,485.7L439.7,485.3L439.7,484.9L439.8,484.4L439.9,484.0L440.1,483.7L440.4,483.3L440.8,483.1L441.2,482.8L441.5,482.6L441.9,482.4L442.2,482.2L442.5,482.1L442.8,481.9L443.1,481.8L443.4,481.6L443.7,481.5L444.0,481.4L444.3,481.2L444.6,481.1L444.9,480.9L445.2,480.8L445.5,480.7L445.8,480.6L446.2,480.5L446.5,480.4L446.9,480.3L447.2,480.3L447.6,480.3L448.0,480.4L448.3,480.5L448.7,480.6L449.0,480.8L449.3,481.0L449.6,481.2L449.9,481.4L450.1,481.7L450.3,482.1L450.5,482.4L450.6,482.7L450.7,483.1L450.7,483.4L450.7,483.8L450.7,484.1L450.7,484.5L450.7,484.8L450.7,485.1L450.6,485.4L450.6,485.7L450.5,486.0L450.4,486.3L450.4,486.5L450.3,486.8L450.2,487.1L450.1,487.3L450.0,487.6L449.9,487.9L449.8,488.1L449.7,488.4L449.6,488.7L449.4,489.0L449.3,489.3L449.2,489.6L449.0,490.0L448.8,490.3L448.6,490.7L448.4,491.1L448.1,491.6L447.9,492.1L447.5,492.6L447.1,493.2L446.7,493.9L446.2,494.7L445.5,495.2L444.9,495.1L444.3,494.9L443.8,494.5L443.3,494.2L442.8,493.8L442.4,493.4L441.9,493.0L441.5,492.6L441.1,492.2L440.8,491.8L440.5,491.3L440.3,490.9L440.0,490.4L439.8,489.9L439.7,489.4L439.6,488.9L439.5,488.5L439.5,488.0L439.4,487.5L439.5,487.0L439.5,486.6L439.5,486.1Z"/><path d="M440.1,485.7L440.1,485.3L440.2,485.0L440.3,484.6L440.4,484.2L440.6,483.8L440.9,483.5L441.2,483.3L441.5,483.1L441.8,482.9L442.1,482.7L442.4,482.5L442.7,482.3L443.0,482.2L443.3,482.0L443.6,481.9L443.8,481.8L444.1,481.6L444.4,481.5L444.6,481.4L444.9,481.2L445.2,481.1L445.5,481.0L445.8,480.8L446.1,480.7L446.5,480.7L446.8,480.6L447.2,480.6L447.5,480.6L447.9,480.6L448.2,480.7L448.5,480.8L448.9,481.0L449.2,481.2L449.4,481.4L449.7,481.7L449.9,482.0L450.1,482.3L450.2,482.6L450.3,482.9L450.4,483.3L450.4,483.6L450.5,483.9L450.5,484.3L450.4,484.6L450.4,484.9L450.4,485.2L450.3,485.5L450.3,485.7L450.2,486.0L450.2,486.3L450.1,486.5L450.0,486.8L449.9,487.0L449.8,487.3L449.8,487.5L449.7,487.8L449.6,488.0L449.5,488.3L449.3,488.5L449.2,488.8L449.1,489.1L449.0,489.4L448.8,489.7L448.6,490.1L448.4,490.4L448.2,490.8L448.0,491.2L447.7,491.7L447.4,492.2L447.1,492.7L446.6,493.3L446.1,494.0L445.6,494.5L445.0,494.5L444.4,494.2L443.9,494.0L443.5,493.6L443.0,493.3L442.6,492.9L442.2,492.6L441.8,492.2L441.5,491.8L441.2,491.4L440.9,491.0L440.7,490.5L440.5,490.1L440.3,489.6L440.1,489.2L440.0,488.7L440.0,488.3L439.9,487.8L439.9,487.4L439.9,487.0L440.0,486.5L440.0,486.1Z"/><path d="M440.6,485.8L440.6,485.4L440.7,485.0L440.8,484.7L440.9,484.4L441.0,484.0L441.3,483.8L441.5,483.5L441.8,483.3L442.1,483.1L442.4,482.9L442.7,482.8L443.0,482.6L443.2,482.5L443.5,482.3L443.7,482.2L444.0,482.0L444.2,481.9L444.5,481.8L444.7,481.6L445.0,481.5L445.2,481.4L445.5,481.2L445.8,481.1L446.1,481.0L446.4,480.9L446.8,480.9L447.1,480.8L447.4,480.8L447.8,480.9L448.1,481.0L448.4,481.1L448.7,481.3L449.0,481.5L449.2,481.7L449.5,481.9L449.7,482.2L449.8,482.5L450.0,482.8L450.0,483.1L450.1,483.5L450.2,483.8L450.2,484.1L450.2,484.4L450.2,484.7L450.1,485.0L450.1,485.2L450.1,485.5L450.0,485.8L449.9,486.0L449.9,486.3L449.8,486.5L449.8,486.7L449.7,487.0L449.6,487.2L449.5,487.4L449.4,487.7L449.3,487.9L449.2,488.2L449.1,488.4L449.0,488.7L448.9,488.9L448.8,489.2L448.6,489.5L448.5,489.8L448.3,490.1L448.1,490.5L447.9,490.9L447.6,491.3L447.3,491.7L447.0,492.3L446.6,492.8L446.1,493.4L445.6,493.9L445.1,493.8L444.6,493.6L444.1,493.4L443.6,493.1L443.2,492.8L442.8,492.4L442.5,492.1L442.1,491.8L441.8,491.4L441.5,491.0L441.3,490.6L441.1,490.2L440.9,489.8L440.7,489.4L440.6,488.9L440.5,488.5L440.5,488.1L440.4,487.7L440.4,487.3L440.4,486.9L440.5,486.5L440.5,486.1Z"/><path d="M441.0,485.8L441.1,485.5L441.2,485.1L441.2,484.8L441.3,484.5L441.5,484.2L441.7,484.0L441.9,483.7L442.2,483.5L442.4,483.4L442.7,483.2L442.9,483.0L443.2,482.9L443.4,482.7L443.6,482.6L443.9,482.4L444.1,482.3L444.3,482.2L444.5,482.0L444.8,481.9L445.0,481.8L445.3,481.6L445.5,481.5L445.8,481.4L446.1,481.3L446.4,481.2L446.7,481.1L447.0,481.1L447.4,481.1L447.7,481.1L448.0,481.2L448.3,481.4L448.6,481.5L448.8,481.7L449.1,481.9L449.3,482.2L449.4,482.5L449.6,482.7L449.7,483.0L449.8,483.3L449.8,483.6L449.9,483.9L449.9,484.2L449.9,484.5L449.9,484.8L449.9,485.1L449.8,485.3L449.8,485.6L449.7,485.8L449.7,486.0L449.6,486.3L449.6,486.5L449.5,486.7L449.4,486.9L449.3,487.1L449.3,487.4L449.2,487.6L449.1,487.8L449.0,488.0L448.9,488.3L448.8,488.5L448.7,488.7L448.6,489.0L448.4,489.3L448.3,489.6L448.1,489.9L447.9,490.2L447.7,490.5L447.5,490.9L447.2,491.3L446.9,491.8L446.5,492.3L446.1,492.8L445.6,493.2L445.1,493.2L444.7,493.0L444.2,492.8L443.8,492.5L443.4,492.3L443.1,492.0L442.7,491.7L442.4,491.3L442.1,491.0L441.9,490.6L441.6,490.3L441.5,489.9L441.3,489.5L441.2,489.1L441.1,488.7L441.0,488.3L440.9,487.9L440.9,487.6L440.9,487.2L440.9,486.8L440.9,486.5L441.0,486.1Z"/><path d="M441.5,485.8L441.6,485.5L441.6,485.2L441.7,485.0L441.8,484.7L441.9,484.4L442.1,484.2L442.3,484.0L442.5,483.8L442.8,483.6L443.0,483.4L443.2,483.3L443.4,483.1L443.6,483.0L443.8,482.9L444.0,482.7L444.2,482.6L444.4,482.4L444.6,482.3L444.8,482.2L445.1,482.0L445.3,481.9L445.5,481.8L445.8,481.6L446.1,481.5L446.4,481.4L446.7,481.4L447.0,481.3L447.3,481.4L447.6,481.4L447.9,481.5L448.2,481.6L448.4,481.8L448.7,482.0L448.9,482.2L449.1,482.4L449.2,482.7L449.4,483.0L449.5,483.2L449.5,483.5L449.6,483.8L449.6,484.1L449.6,484.4L449.6,484.6L449.6,484.9L449.6,485.1L449.5,485.4L449.5,485.6L449.5,485.8L449.4,486.0L449.4,486.3L449.3,486.5L449.2,486.7L449.2,486.9L449.1,487.1L449.0,487.3L448.9,487.5L448.9,487.7L448.8,487.9L448.7,488.1L448.6,488.3L448.5,488.6L448.4,488.8L448.2,489.0L448.1,489.3L447.9,489.6L447.8,489.9L447.6,490.2L447.3,490.5L447.1,490.9L446.8,491.3L446.5,491.7L446.1,492.2L445.6,492.5L445.2,492.5L444.8,492.4L444.4,492.2L444.0,492.0L443.6,491.8L443.3,491.5L443.0,491.2L442.7,490.9L442.4,490.6L442.2,490.3L442.0,489.9L441.8,489.5L441.7,489.2L441.6,488.8L441.5,488.5L441.4,488.1L441.4,487.8L441.4,487.4L441.4,487.1L441.4,486.8L441.4,486.4L441.5,486.1Z"/><path d="M442.0,485.9L442.0,485.6L442.1,485.3L442.2,485.1L442.2,484.8L442.3,484.6L442.5,484.4L442.7,484.2L442.9,484.0L443.1,483.9L443.2,483.7L443.4,483.6L443.6,483.4L443.8,483.3L444.0,483.1L444.2,483.0L444.3,482.9L444.5,482.7L444.7,482.6L444.9,482.4L445.1,482.3L445.3,482.2L445.6,482.0L445.8,481.9L446.1,481.8L446.3,481.7L446.6,481.6L446.9,481.6L447.2,481.6L447.5,481.7L447.8,481.7L448.0,481.9L448.3,482.0L448.5,482.2L448.7,482.4L448.9,482.7L449.0,482.9L449.1,483.2L449.2,483.5L449.3,483.7L449.3,484.0L449.3,484.3L449.3,484.5L449.3,484.8L449.3,485.0L449.3,485.2L449.3,485.4L449.2,485.7L449.2,485.9L449.1,486.1L449.1,486.3L449.0,486.5L449.0,486.6L448.9,486.8L448.8,487.0L448.8,487.2L448.7,487.4L448.6,487.6L448.5,487.8L448.5,488.0L448.4,488.2L448.3,488.4L448.2,488.6L448.0,488.8L447.9,489.0L447.8,489.3L447.6,489.6L447.4,489.8L447.2,490.1L447.0,490.5L446.7,490.8L446.4,491.2L446.1,491.6L445.7,491.9L445.3,491.9L444.9,491.8L444.5,491.7L444.2,491.5L443.8,491.3L443.5,491.0L443.2,490.8L443.0,490.5L442.8,490.2L442.6,489.9L442.4,489.5L442.2,489.2L442.1,488.9L442.0,488.6L442.0,488.2L441.9,487.9L441.9,487.6L441.9,487.3L441.9,487.0L441.9,486.7L441.9,486.4L442.0,486.1Z"/><path d="M442.5,485.9L442.5,485.7L442.6,485.4L442.6,485.2L442.7,485.0L442.8,484.8L442.9,484.6L443.1,484.4L443.2,484.3L443.4,484.1L443.5,484.0L443.7,483.8L443.8,483.7L444.0,483.5L444.1,483.4L444.3,483.3L444.5,483.1L444.6,483.0L444.8,482.9L445.0,482.7L445.2,482.6L445.4,482.4L445.6,482.3L445.8,482.2L446.1,482.1L446.3,482.0L446.6,481.9L446.9,481.9L447.1,481.9L447.4,481.9L447.7,482.0L447.9,482.1L448.1,482.3L448.3,482.5L448.5,482.7L448.7,482.9L448.8,483.2L448.9,483.4L449.0,483.7L449.0,483.9L449.0,484.2L449.1,484.4L449.1,484.7L449.1,484.9L449.0,485.1L449.0,485.3L449.0,485.5L448.9,485.7L448.9,485.9L448.9,486.1L448.8,486.3L448.8,486.4L448.7,486.6L448.7,486.8L448.6,487.0L448.5,487.1L448.5,487.3L448.4,487.5L448.3,487.6L448.2,487.8L448.2,488.0L448.1,488.2L448.0,488.4L447.8,488.6L447.7,488.8L447.6,489.0L447.4,489.3L447.3,489.5L447.1,489.8L446.9,490.0L446.6,490.3L446.4,490.6L446.1,491.0L445.7,491.2L445.3,491.2L445.0,491.2L444.7,491.1L444.3,490.9L444.0,490.7L443.8,490.5L443.5,490.3L443.3,490.0L443.1,489.8L442.9,489.5L442.8,489.2L442.6,488.9L442.5,488.6L442.5,488.3L442.4,488.0L442.4,487.7L442.4,487.4L442.3,487.2L442.4,486.9L442.4,486.6L442.4,486.4L442.4,486.1Z"/><path d="M443.0,485.9L443.0,485.7L443.0,485.5L443.1,485.3L443.1,485.2L443.2,485.0L443.3,484.8L443.4,484.7L443.6,484.5L443.7,484.4L443.8,484.2L443.9,484.1L444.1,484.0L444.2,483.8L444.3,483.7L444.4,483.5L444.6,483.4L444.7,483.3L444.9,483.1L445.0,483.0L445.2,482.8L445.4,482.7L445.6,482.6L445.8,482.4L446.0,482.3L446.3,482.2L446.5,482.2L446.8,482.1L447.1,482.1L447.3,482.2L447.6,482.3L447.8,482.4L448.0,482.5L448.2,482.7L448.3,482.9L448.5,483.2L448.6,483.4L448.6,483.6L448.7,483.9L448.7,484.1L448.8,484.4L448.8,484.6L448.8,484.8L448.8,485.0L448.8,485.2L448.7,485.4L448.7,485.6L448.7,485.8L448.6,485.9L448.6,486.1L448.6,486.3L448.5,486.4L448.5,486.6L448.4,486.7L448.3,486.9L448.3,487.0L448.2,487.2L448.2,487.4L448.1,487.5L448.0,487.7L447.9,487.8L447.9,488.0L447.8,488.2L447.7,488.4L447.5,488.5L447.4,488.7L447.3,488.9L447.1,489.2L447.0,489.4L446.8,489.6L446.5,489.9L446.3,490.1L446.0,490.4L445.7,490.6L445.4,490.6L445.1,490.6L444.8,490.5L444.5,490.4L444.2,490.2L444.0,490.1L443.8,489.8L443.6,489.6L443.4,489.4L443.3,489.1L443.1,488.8L443.0,488.6L443.0,488.3L442.9,488.0L442.9,487.8L442.8,487.5L442.8,487.3L442.8,487.0L442.8,486.8L442.9,486.6L442.9,486.3L442.9,486.1Z"/><path d="M443.4,486.0L443.5,485.8L443.5,485.6L443.6,485.5L443.6,485.3L443.7,485.2L443.7,485.0L443.8,484.9L443.9,484.7L444.0,484.6L444.1,484.5L444.2,484.4L444.3,484.2L444.4,484.1L444.5,484.0L444.6,483.8L444.7,483.7L444.8,483.5L445.0,483.4L445.1,483.3L445.3,483.1L445.4,483.0L445.6,482.8L445.8,482.7L446.0,482.6L446.2,482.5L446.5,482.4L446.7,482.4L447.0,482.4L447.2,482.4L447.4,482.5L447.7,482.6L447.8,482.8L448.0,483.0L448.1,483.2L448.3,483.4L448.3,483.6L448.4,483.9L448.4,484.1L448.5,484.3L448.5,484.5L448.5,484.7L448.5,484.9L448.5,485.1L448.5,485.3L448.4,485.5L448.4,485.6L448.4,485.8L448.4,486.0L448.3,486.1L448.3,486.3L448.2,486.4L448.2,486.6L448.1,486.7L448.1,486.8L448.0,487.0L448.0,487.1L447.9,487.2L447.9,487.4L447.8,487.5L447.7,487.7L447.6,487.8L447.6,488.0L447.5,488.1L447.4,488.3L447.2,488.5L447.1,488.6L447.0,488.8L446.8,489.0L446.7,489.2L446.5,489.4L446.3,489.6L446.0,489.8L445.8,489.9L445.5,490.0L445.2,490.0L445.0,489.9L444.7,489.9L444.5,489.7L444.2,489.6L444.0,489.4L443.9,489.2L443.7,489.0L443.6,488.7L443.5,488.5L443.4,488.2L443.4,488.0L443.3,487.8L443.3,487.5L443.3,487.3L443.3,487.1L443.3,486.9L443.3,486.7L443.3,486.5L443.4,486.3L443.4,486.1Z"/><path d="M443.9,486.0L443.9,485.9L444.0,485.7L444.0,485.6L444.1,485.5L444.1,485.4L444.2,485.2L444.2,485.1L444.3,485.0L444.3,484.9L444.4,484.7L444.4,484.6L444.5,484.5L444.6,484.4L444.6,484.2L444.7,484.1L444.8,484.0L444.9,483.8L445.0,483.7L445.2,483.5L445.3,483.4L445.5,483.2L445.6,483.1L445.8,483.0L446.0,482.9L446.2,482.8L446.4,482.7L446.7,482.6L446.9,482.6L447.1,482.7L447.3,482.8L447.5,482.9L447.7,483.1L447.8,483.2L448.0,483.5L448.0,483.7L448.1,483.9L448.2,484.1L448.2,484.3L448.2,484.5L448.2,484.7L448.2,484.9L448.2,485.1L448.2,485.3L448.2,485.4L448.2,485.6L448.1,485.7L448.1,485.9L448.1,486.0L448.1,486.1L448.0,486.3L448.0,486.4L447.9,486.5L447.9,486.6L447.8,486.8L447.8,486.9L447.7,487.0L447.7,487.1L447.6,487.3L447.6,487.4L447.5,487.5L447.4,487.6L447.4,487.8L447.3,487.9L447.2,488.0L447.1,488.2L447.0,488.3L446.8,488.5L446.7,488.6L446.5,488.8L446.4,488.9L446.2,489.0L446.0,489.1L445.8,489.2L445.6,489.3L445.3,489.4L445.1,489.4L444.9,489.3L444.7,489.2L444.5,489.1L444.3,488.9L444.2,488.8L444.0,488.5L444.0,488.3L443.9,488.1L443.8,487.9L443.8,487.7L443.8,487.5L443.8,487.3L443.8,487.1L443.8,486.9L443.8,486.7L443.8,486.6L443.8,486.4L443.9,486.3L443.9,486.1Z"/><path d="M400.8,500.3L400.8,500.6L400.7,500.9L400.6,501.2L400.4,501.5L400.2,501.8L400.0,502.1L399.7,502.3L399.3,502.5L399.0,502.7L398.6,502.9L398.2,503.0L397.8,503.2L397.3,503.2L396.9,503.3L396.4,503.3L395.9,503.3L395.5,503.2L395.0,503.2L394.6,503.0L394.2,502.9L393.8,502.7L393.5,502.5L393.1,502.3L392.8,502.1L392.6,501.8L392.4,501.5L392.2,501.2L392.1,500.9L392.0,500.6L392.0,500.3L392.0,500.0L392.1,499.7L392.2,499.4L392.4,499.1L392.6,498.8L392.8,498.5L393.1,498.3L393.5,498.1L393.8,497.9L394.2,497.7L394.6,497.6L395.0,497.4L395.5,497.4L395.9,497.3L396.4,497.3L396.9,497.3L397.3,497.4L397.8,497.4L398.2,497.6L398.6,497.7L399.0,497.9L399.3,498.1L399.7,498.3L400.0,498.5L400.2,498.8L400.4,499.1L400.6,499.4L400.7,499.7L400.8,500.0Z"/><path d="M396.4,487.8L397.1,487.8L397.8,487.9L398.5,488.0L399.2,488.2L399.9,488.5L400.6,488.8L401.3,489.2L401.9,489.6L402.5,490.0L403.0,490.5L403.5,491.0L404.0,491.7L404.5,492.3L404.9,493.1L405.3,493.9L405.7,494.7L406.0,495.5L406.2,496.3L406.4,497.2L406.5,498.0L406.5,498.9L406.5,499.8L406.3,500.8L406.1,501.8L405.9,502.8L405.6,503.8L405.3,504.7L404.9,505.6L404.5,506.3L404.0,507.0L403.5,507.6L402.9,508.1L402.3,508.5L401.6,508.9L400.8,509.2L400.1,509.4L399.3,509.6L398.5,509.7L397.8,509.8L397.0,509.8L396.2,509.7L395.4,509.6L394.5,509.4L393.6,509.1L392.8,508.8L391.9,508.4L391.1,508.0L390.3,507.5L389.6,507.0L389.0,506.5L388.5,505.9L388.0,505.3L387.5,504.6L387.1,503.8L386.7,503.0L386.4,502.2L386.1,501.4L386.0,500.6L385.8,499.8L385.8,499.0L385.8,498.2L386.0,497.4L386.2,496.5L386.4,495.6L386.7,494.7L387.1,493.9L387.5,493.1L388.0,492.3L388.5,491.6L389.0,491.0L389.6,490.5L390.2,490.0L390.9,489.5L391.7,489.1L392.5,488.7L393.3,488.4L394.1,488.2L394.9,488.0L395.7,487.9Z"/><path d="M380.5,497.0L380.5,496.2L380.6,495.3L380.6,494.3L380.7,493.4L380.9,492.4L381.1,491.4L381.4,490.5L381.7,489.6L382.1,488.8L382.5,488.0L383.0,487.3L383.6,486.6L384.3,486.0L385.0,485.4L385.8,484.8L386.6,484.3L387.4,483.8L388.3,483.4L389.1,483.1L390.0,482.8L390.9,482.6L391.9,482.6L392.9,482.6L393.9,482.7L395.0,482.8L396.0,483.0L397.1,483.1L398.1,483.2L399.1,483.3L400.0,483.2L400.9,483.1L401.7,482.9L402.6,482.7L403.4,482.5L404.2,482.2L405.0,482.0L405.7,481.7L406.5,481.3L407.2,480.9L408.0,480.5L408.7,480.0L409.4,479.5L410.1,478.9L410.7,478.3L411.4,477.7L412.0,477.0L412.7,476.4L413.4,475.7L414.2,475.1L415.0,474.5L415.9,473.9L416.7,473.4L417.6,472.8L418.5,472.2L419.5,471.7L420.5,471.1L421.5,470.6L422.6,470.1L423.8,469.6L425.0,469.2L426.3,468.8L427.7,468.4L429.2,468.0L430.7,467.7L432.3,467.4L433.9,467.1L435.5,466.8L437.0,466.6L438.6,466.4L440.0,466.2L441.4,466.1L442.8,465.9L444.2,465.8L445.5,465.8L446.8,465.8L448.1,465.8L449.4,465.8L450.7,465.8L451.9,465.9L453.0,466.0L454.1,466.1L455.2,466.3L456.3,466.4L457.3,466.6L458.3,466.8L459.3,467.0L460.2,467.3L461.0,467.7L461.8,468.1L462.5,468.5L463.1,469.0L463.7,469.5L464.2,470.1L464.6,470.8L465.0,471.5L465.3,472.2L465.6,473.0L465.8,473.8L466.0,474.6L466.2,475.5L466.3,476.4L466.4,477.4L466.4,478.4L466.4,479.5L466.3,480.6L466.2,481.8L466.1,482.9L465.9,484.1L465.7,485.3L465.5,486.5L465.2,487.7L464.9,489.0L464.6,490.3L464.2,491.6L463.8,492.9L463.4,494.2L463.0,495.5L462.5,496.9L462.0,498.2L461.5,499.5L461.0,500.8L460.4,502.1L459.9,503.4L459.3,504.7L458.7,506.0L458.1,507.3L457.4,508.6L456.8,509.9L456.1,511.2L455.5,512.5L454.8,513.8L454.1,515.2L453.4,516.7L452.6,518.1L451.9,519.5L451.1,520.9L450.4,522.2L449.7,523.5L449.1,524.6L448.5,525.5L448.0,526.3L447.5,527.0L447.1,527.6L446.8,528.2L446.4,528.6L446.1,529.0L445.8,529.3L445.4,529.5L445.0,529.7L444.5,529.8L444.0,529.9L443.5,529.9L443.0,529.8L442.5,529.7L441.9,529.5L441.3,529.3L440.7,528.9L440.0,528.5L439.3,528.1L438.5,527.5L437.6,526.8L436.7,526.1L435.7,525.2L434.6,524.3L433.5,523.3L432.4,522.3L431.3,521.2L430.1,520.1L429.0,519.0L428.0,518.0L427.0,516.9L425.9,515.8L424.8,514.7L423.8,513.5L422.7,512.3L421.7,511.1L420.7,510.0L419.7,508.9L418.8,507.9L418.0,507.0L417.2,506.2L416.5,505.3L415.9,504.5L415.3,503.8L414.7,503.1L414.1,502.4L413.6,501.9L413.1,501.5L412.5,501.2L412.0,501.0L411.5,501.0L410.9,501.0L410.4,501.2L409.9,501.5L409.4,501.9L408.9,502.4L408.4,503.0L408.0,503.6L407.5,504.3L407.0,505.0L406.5,505.8L406.1,506.8L405.6,507.8L405.1,508.9L404.7,510.1L404.2,511.3L403.8,512.6L403.4,513.8L402.9,514.9L402.5,516.0L402.1,517.1L401.7,518.3L401.3,519.5L400.9,520.8L400.6,522.0L400.2,523.1L399.8,524.1L399.4,525.0L399.0,525.6L398.5,526.0L398.0,526.1L397.5,526.0L396.9,525.8L396.4,525.3L395.8,524.8L395.2,524.1L394.7,523.3L394.1,522.6L393.5,521.8L393.0,521.0L392.5,520.2L392.0,519.3L391.5,518.3L391.0,517.2L390.5,516.1L390.0,515.0L389.5,513.9L389.0,512.9L388.5,511.9L388.0,511.0L387.5,510.2L386.9,509.4L386.3,508.7L385.7,508.0L385.1,507.3L384.5,506.7L383.9,506.0L383.4,505.4L382.9,504.7L382.5,504.0L382.1,503.3L381.8,502.6L381.5,502.0L381.3,501.3L381.0,500.6L380.8,499.9L380.7,499.2L380.6,498.5L380.5,497.8Z"/><path d="M383.0,490.0L383.4,489.4L383.9,488.7L384.5,488.1L385.2,487.4L385.9,486.7L386.7,486.1L387.5,485.5L388.3,485.0L389.1,484.5L390.0,484.2L390.9,484.0L391.8,483.8L392.8,483.7L393.9,483.7L394.9,483.7L396.0,483.8L397.1,483.9L398.1,484.1L399.1,484.3L400.0,484.5L400.9,484.7L401.8,485.0L402.7,485.3L403.6,485.7L404.5,486.1L405.3,486.5L406.1,486.9L406.8,487.4L407.5,487.9L408.0,488.5L408.5,489.1L408.9,489.7L409.2,490.4L409.5,491.1L409.8,491.9L409.9,492.7L410.0,493.5L410.1,494.3L410.1,495.1L410.0,496.0L409.8,496.9L409.6,497.9L409.3,498.8L408.9,499.9L408.5,500.9L408.0,502.0L407.5,503.0L407.0,504.0L406.5,505.0L406.0,506.0L405.5,506.9L405.0,507.9L404.4,508.8L403.8,509.7L403.2,510.6L402.6,511.5L402.0,512.3L401.5,513.2L401.0,514.1L400.5,515.0L400.1,515.9L399.7,517.0L399.4,518.1L399.0,519.1L398.7,520.2L398.4,521.2L398.2,522.1L397.9,522.8L397.5,523.4L397.2,523.8L396.8,524.0L396.5,523.9L396.1,523.7L395.7,523.4L395.4,523.0L395.0,522.5L394.6,521.9L394.2,521.3L393.9,520.6L393.5,520.0L393.1,519.3L392.8,518.5L392.5,517.7L392.2,516.7L391.8,515.8L391.5,514.8L391.2,513.8L390.8,512.8L390.4,511.9L390.0,511.0L389.5,510.2L389.1,509.3L388.5,508.5L388.0,507.7L387.4,506.9L386.9,506.1L386.4,505.3L385.9,504.5L385.4,503.8L385.0,503.0L384.6,502.3L384.3,501.5L384.0,500.8L383.7,500.1L383.4,499.4L383.2,498.7L383.0,498.0L382.8,497.3L382.6,496.7L382.5,496.0L382.4,495.4L382.3,494.7L382.2,494.1L382.2,493.5L382.2,492.9L382.2,492.3L382.3,491.8L382.4,491.2L382.7,490.6Z"/><path d="M340.0,536.5L341.2,534.1L342.6,532.7L344.4,532.1L346.3,532.2L348.4,532.7L350.7,533.6L353.0,534.5L355.4,535.4L357.7,536.0L360.0,536.2L362.4,536.2L365.0,536.1L367.7,536.1L370.5,536.0L373.2,536.0L376.0,535.9L378.6,535.9L381.0,535.8L383.2,535.6L385.0,535.5L386.5,535.3L387.9,535.2L389.0,535.0L390.0,534.7L390.8,534.5L391.4,534.3L391.9,534.0L392.4,533.7L392.7,533.4L393.0,533.0L393.2,532.6L393.2,532.2L393.2,531.7L393.0,531.2L392.7,530.7L392.3,530.1L391.8,529.6L391.3,529.0L390.7,528.5L390.0,528.0L389.2,527.5L388.2,527.0L387.0,526.5L385.8,526.0L384.5,525.5L383.2,525.0L382.0,524.5L380.8,524.0L379.8,523.5L379.0,523.0L378.3,522.5L377.8,522.1L377.3,521.8L377.0,521.4L376.7,521.0L376.4,520.6L376.2,520.1L376.1,519.5L375.9,518.8L375.8,518.0L375.7,517.0L375.7,515.9L375.7,514.6L375.7,513.3L375.8,511.9L375.9,510.4L376.0,509.0L376.2,507.6L376.3,506.3L376.5,505.0L376.7,503.8L376.9,502.6L377.1,501.5L377.3,500.3L377.5,499.2L377.8,498.1L378.1,497.0L378.4,496.0L378.7,495.0L379.0,494.0L379.3,493.1L379.7,492.2L380.0,491.3L380.3,490.4L380.7,489.6L381.1,488.8L381.5,488.1L382.0,487.3L382.5,486.6L383.0,486.0L383.6,485.4L384.2,484.8L384.8,484.2L385.4,483.7L386.1,483.2L386.8,482.7L387.6,482.3L388.4,481.9L389.2,481.6L390.0,481.4L390.9,481.3L391.8,481.3L392.7,481.3L393.7,481.5L394.8,481.6L395.8,481.8L396.8,481.9L397.9,482.0L398.9,482.0L400.0,481.8L401.1,481.5L402.2,481.1L403.3,480.7L404.4,480.2L405.6,479.7L406.7,479.1L407.8,478.5L408.9,477.8L410.0,477.2L411.0,476.5L412.0,475.8L412.8,475.0L413.7,474.2L414.5,473.3L415.3,472.4L416.1,471.5L417.0,470.7L417.9,469.9L418.9,469.1L420.0,468.5L421.2,467.9L422.4,467.4L423.8,467.0L425.1,466.6L426.6,466.2L428.0,465.8L429.5,465.5L431.0,465.3L432.5,465.0L434.0,464.8L435.5,464.6L437.1,464.4L438.8,464.3L440.4,464.2L442.1,464.2L443.8,464.1L445.4,464.1L447.0,464.2L448.6,464.2L450.0,464.3L451.4,464.4L452.8,464.5L454.1,464.7L455.4,464.9L456.7,465.1L457.9,465.3L459.0,465.6L460.1,466.0L461.1,466.3L462.0,466.8L462.8,467.3L463.6,467.9L464.3,468.5L465.0,469.1L465.6,469.8L466.1,470.5L466.5,471.3L466.9,472.2L467.2,473.1L467.5,474.0L467.7,475.0L467.8,476.1L467.8,477.2L467.7,478.4L467.6,479.6L467.4,480.8L467.2,482.1L467.0,483.4L466.8,484.7L466.5,486.0L466.2,487.3L465.9,488.7L465.6,490.1L465.2,491.5L464.8,492.9L464.4,494.3L463.9,495.7L463.5,497.2L463.0,498.6L462.5,500.0L462.0,501.4L461.4,502.8L460.9,504.2L460.3,505.6L459.7,507.1L459.1,508.5L458.4,509.9L457.8,511.3L457.1,512.6L456.5,514.0L455.8,515.4L455.1,516.8L454.4,518.3L453.7,519.7L452.9,521.1L452.2,522.5L451.5,523.8L450.8,525.0L450.1,526.1L449.5,527.0L448.9,527.8L448.4,528.5L447.9,529.1L447.5,529.6L447.0,530.0L446.5,530.3L446.1,530.6L445.6,530.8L445.1,530.9L444.5,531.0L443.9,531.0L443.3,531.0L442.7,531.0L442.1,530.9L441.4,530.7L440.7,530.4L440.0,530.0L439.2,529.6L438.4,529.1L437.5,528.5L436.5,527.8L435.5,526.9L434.3,526.0L433.2,524.9L431.9,523.8L430.7,522.7L429.5,521.5L428.3,520.3L427.1,519.1L426.0,518.0L424.9,516.8L423.8,515.6L422.7,514.3L421.7,513.0L420.6,511.7L419.6,510.4L418.6,509.2L417.7,508.0L416.8,506.9L416.0,506.0L415.3,505.1L414.7,504.3L414.1,503.5L413.6,502.7L413.2,502.0L412.8,501.5L412.3,501.0L411.9,500.7L411.5,500.5L411.0,500.5L410.5,500.7L410.0,501.0L409.4,501.5L408.9,502.1L408.3,502.8L407.8,503.7L407.3,504.6L406.8,505.7L406.4,506.8L406.0,508.0L405.6,509.3L405.3,510.7L405.0,512.1L404.7,513.7L404.5,515.4L404.3,517.2L404.0,519.0L403.8,520.9L403.7,522.9L403.5,525.0L403.4,527.2L403.2,529.5L403.1,531.9L403.0,534.4L403.0,537.0L402.9,539.6L402.9,542.2L402.8,544.9L402.8,547.5L402.8,550.0L402.8,552.5L402.8,555.1L402.8,557.7L402.9,560.2L402.9,562.8L403.0,565.4L403.0,567.9L403.1,570.3L403.1,572.7L403.2,575.0L403.6,577.3L404.4,579.6L405.5,582.0L406.6,584.3L407.6,586.6L408.3,588.7L408.5,590.6L408.0,592.4L406.5,593.8L404.0,595.0L399.9,596.1L394.3,597.2L387.5,598.3L380.0,599.2L372.1,599.9L364.1,600.2L356.5,599.9L349.7,599.1L344.1,597.5L340.0,595.0L337.3,591.3L335.6,586.1L334.7,579.9L334.4,573.0L334.8,565.8L335.5,558.5L336.5,551.6L337.7,545.4L338.9,540.3Z"/><path d="M345.0,538.2L347.0,537.5L349.4,536.9L355.4,536.1L369.8,535.9L380.6,536.1L385.4,536.6L389.4,537.6L392.6,539.1L394.2,540.2L395.4,541.3L396.6,542.8L397.7,544.6L399.2,548.6L400.3,553.8L400.4,558.6L399.7,567.0L399.4,576.6L398.7,581.4L398.0,584.2L396.8,586.6L395.4,588.6L393.6,590.2"/><path d="M345.0,542.7L347.0,541.4L349.0,540.6L351.4,540.0L354.6,539.5L362.2,539.1L377.8,539.1L383.4,539.6L387.4,540.6L390.7,542.2L392.2,543.4L393.4,544.6L395.0,547.0L396.3,549.8L397.1,552.6L397.6,555.8L397.5,559.4L396.4,567.0L395.9,575.8L395.3,579.8L394.8,581.8L393.9,583.8L392.9,585.4L391.4,586.9L389.8,588.1L388.2,588.9L386.2,589.6L383.7,590.2"/><path d="M352.3,590.2L348.2,589.1L346.6,588.3L345.0,587.3"/><path d="M345.0,548.7L346.6,546.4L348.6,544.7L351.4,543.4L354.6,542.7L360.2,542.1L371.4,541.8L377.8,541.9L382.2,542.3L385.0,543.0L387.4,543.9L389.4,545.1L391.5,547.0L393.2,549.4L394.3,551.8L395.0,554.2L395.2,557.0L394.8,560.6L393.2,567.8L392.4,575.8L391.7,579.4L390.6,581.8L389.5,583.4L388.2,584.6L386.2,585.8L382.6,587.0L377.4,587.6L362.6,587.7L355.8,587.4L351.8,586.6L349.0,585.4L346.6,583.5L345.0,581.1"/><path d="M375.8,584.2L362.2,584.3L356.2,583.8L353.8,583.2L351.8,582.3L350.2,581.1L349.1,579.8L347.8,577.0L347.2,573.8L346.7,560.6L346.7,557.0L347.1,553.8L347.9,551.4L349.1,549.4L351.0,547.7L352.6,546.7L354.6,546.0L359.5,545.0L369.4,544.1L377.4,544.1L382.2,544.7L385.8,545.9L387.4,546.7L388.9,547.8L391.1,550.2L392.2,552.2L392.9,554.2L393.2,556.2L393.2,558.2L392.4,561.4L389.8,568.6L388.5,575.8L387.6,578.6L386.9,579.8L385.9,581.0L384.6,582.1L383.4,582.7L380.2,583.7L375.8,584.2"/><path d="M377.4,580.2L371.8,580.6L363.4,580.6L359.8,580.4L357.4,579.9L355.8,579.4L354.4,578.6L353.1,577.4L352.1,575.8L351.4,573.4L349.8,561.0L349.7,558.2L349.8,555.8L350.5,553.4L351.6,551.4L353.0,550.0L354.5,549.0L356.2,548.2L361.0,546.8L368.2,545.8L375.0,545.4L379.8,545.8L383.8,546.8L387.0,548.3L388.4,549.4L389.5,550.6L391.0,553.0L391.8,555.8L391.7,558.6L390.8,561.4L389.8,563.4L386.3,569.4L384.2,575.2L383.2,577.0L382.2,578.2L381.0,579.0L379.4,579.7L377.4,580.2"/><path d="M373.8,576.6L365.4,576.7L361.4,576.4L358.6,575.7L357.5,575.0L356.6,574.1L355.4,571.8L352.6,563.3L351.9,561.0L351.6,558.6L351.6,556.2L352.3,553.8L353.4,552.1L355.0,550.6L356.6,549.6L358.6,548.7L363.4,547.3L369.8,546.4L375.8,546.2L380.6,546.7L384.2,547.8L387.1,549.4L388.4,550.6L389.4,551.8L390.6,554.2L391.0,557.0L390.5,559.8L389.0,563.0L387.0,565.7L379.4,574.6L378.2,575.4L377.0,576.0L373.8,576.6"/><path d="M376.6,570.2L374.2,570.5L371.8,570.5L365.8,569.7L361.4,568.4L359.8,567.6L358.2,566.4L356.6,564.9L355.4,563.3L354.4,561.4L353.7,559.4L353.5,557.4L353.6,555.8L354.2,554.2L355.2,552.6L356.2,551.6L357.6,550.6L361.0,549.0L365.8,547.7L371.4,547.0L376.2,546.9L380.6,547.4L384.2,548.6L387.0,550.3L388.1,551.4L389.0,552.6L389.7,553.8L390.1,555.4L390.3,556.6L390.1,558.2L389.2,561.0L387.0,564.1L383.8,566.9L380.2,569.1L376.6,570.2"/><path d="M377.8,567.8L373.4,568.1L368.2,567.6L363.4,566.3L359.8,564.5L358.4,563.4L357.3,562.2L356.4,561.0L355.7,559.4L355.3,557.8L355.3,556.6L355.7,555.0L356.3,553.8L358.2,551.8L361.0,550.1L365.0,548.7L369.8,547.8L374.2,547.5L378.6,547.7L382.2,548.5L385.4,550.0L386.7,551.0L387.8,552.1L388.6,553.4L389.2,554.6L389.5,557.0L389.3,558.6L388.9,559.8L388.2,561.1L387.1,562.6L384.6,564.9L381.4,566.7L377.8,567.8"/><path d="M377.0,566.6L372.6,566.7L368.2,566.1L364.2,564.9L361.0,563.3L359.6,562.2L358.5,561.0L357.7,559.8L357.2,558.6L357.0,557.4L357.1,556.2L357.4,555.0L358.1,553.8L359.8,552.0L362.6,550.4L366.2,549.2L370.6,548.3L375.0,548.1L379.0,548.4L382.2,549.2L385.0,550.6L387.0,552.3L387.8,553.4L388.4,554.6L388.7,557.0L388.5,558.6L388.0,559.8L386.3,562.2L383.8,564.3L380.6,565.8L377.0,566.6"/><path d="M378.2,565.4L374.6,565.8L370.6,565.5L366.2,564.4L363.0,563.0L360.6,561.2L359.7,560.2L359.0,559.0L358.6,557.8L358.6,556.6L359.2,554.6L360.8,552.6L363.0,551.2L366.2,549.9L369.8,549.1L373.8,548.7L377.4,548.8L381.0,549.5L383.8,550.6L385.9,552.2L387.4,554.2L387.8,555.4L388.0,556.6L387.9,557.8L387.5,559.0L386.2,561.2L384.2,563.0L381.4,564.5L378.2,565.4"/><path d="M377.8,564.7L374.2,564.9L370.2,564.5L366.6,563.6L363.8,562.3L361.7,560.6L360.3,558.6L359.9,556.6L360.6,554.6L361.9,553.0L364.3,551.4L367.4,550.2L370.6,549.5L374.2,549.2L377.8,549.4L381.0,550.1L383.4,551.1L385.4,552.6L386.8,554.6L387.2,556.6L387.1,557.8L386.7,559.0L385.4,561.0L383.4,562.6L380.6,564.0L377.8,564.7"/><path d="M378.2,563.8L375.0,564.2L371.4,563.9L368.2,563.2L365.4,562.1L363.2,560.6L361.8,558.9L361.2,557.0L361.4,555.8L361.7,555.0L362.9,553.4L365.0,551.9L367.4,550.9L370.6,550.1L373.8,549.8L377.0,549.9L380.2,550.5L382.6,551.4L384.6,552.8L385.8,554.3L386.4,556.2L386.2,558.2L385.1,560.2L383.4,561.7L381.0,563.0L378.2,563.8"/><path d="M376.2,563.4L373.4,563.4L370.2,563.0L367.4,562.1L365.2,561.0L363.4,559.4L362.6,557.8L362.5,556.2L363.1,554.6L364.6,553.1L366.6,551.9L369.1,551.0L372.2,550.4L375.4,550.3L378.2,550.6L381.0,551.3L383.0,552.4L384.6,553.8L385.4,555.4L385.6,557.4L385.0,559.0L383.7,560.6L381.8,561.9L379.4,562.9L376.2,563.4"/><path d="M377.4,562.6L374.6,562.8L371.8,562.6L369.0,561.9L366.8,561.0L365.1,559.8L363.9,558.2L363.6,556.6L364.1,555.0L365.0,553.8L367.0,552.5L369.4,551.5L371.8,551.0L374.6,550.8L377.4,551.0L379.8,551.5L381.8,552.4L383.4,553.6L384.4,555.0L384.8,556.6L384.5,558.2L383.5,559.8L382.0,561.0L379.8,562.0L377.4,562.6"/><path d="M375.4,562.2L373.0,562.1L370.6,561.7L368.2,560.8L366.5,559.8L365.3,558.6L364.8,557.4L364.9,555.8L365.5,554.6L366.8,553.4L368.6,552.5L371.0,551.7L373.4,551.4L375.8,551.4L378.2,551.7L380.2,552.3L382.2,553.4L383.3,554.6L383.9,556.2L383.8,557.8L383.1,559.0L381.9,560.2L380.2,561.2L377.8,561.9L375.4,562.2"/><path d="M377.0,561.4L375.0,561.6L372.6,561.4L370.6,561.0L368.6,560.2L366.9,559.0L366.1,557.8L365.8,556.6L366.2,555.4L367.1,554.2L368.3,553.4L370.1,552.6L372.2,552.1L374.6,551.9L376.6,552.0L378.6,552.4L380.6,553.2L382.0,554.2L382.8,555.4L383.1,556.6L382.9,557.8L382.1,559.0L380.6,560.2L379.0,560.9L377.0,561.4"/><path d="M377.4,560.7L375.4,560.9L373.4,560.9L371.4,560.5L369.5,559.8L368.2,559.0L367.3,557.8L367.0,556.6L367.3,555.4L368.2,554.4L369.4,553.6L371.0,553.0L372.7,552.6L374.6,552.5L376.6,552.6L378.5,553.0L379.8,553.5L381.0,554.4L381.8,555.4L382.1,556.2L382.0,557.4L381.4,558.6L380.5,559.4L379.0,560.2L377.4,560.7"/><path d="M376.2,560.2L374.2,560.3L372.6,560.1L371.0,559.6L369.8,559.0L368.8,558.2L368.3,557.4L368.2,556.2L368.6,555.4L369.4,554.6L370.6,553.9L373.4,553.1L376.6,553.2L378.2,553.6L379.5,554.2L380.4,555.0L380.9,555.8L381.1,557.0L380.8,557.8L380.1,558.6L379.0,559.4L377.8,559.9L376.2,560.2"/><path d="M376.2,559.5L373.4,559.5L371.0,558.6L370.4,558.2L369.7,557.4L369.5,556.6L369.8,555.8L371.1,554.6L373.4,553.9L376.2,553.9L378.4,554.6L379.7,555.8L379.9,556.6L379.7,557.4L378.6,558.6L377.4,559.2L376.2,559.5"/><path d="M375.4,558.6L373.4,558.5L371.8,557.8L371.2,557.0L371.3,556.2L371.5,555.8L372.7,555.0L374.6,554.6L376.2,554.8L377.7,555.4L378.3,556.2L378.3,557.0L378.1,557.4L377.1,558.2L375.4,558.6"/></g>
<g clip-path="url(#clip2)"><path d="M349,545 C353.5,547 356,553 356,559 C356,566 353.5,571 349,573 Z" fill="#1a1a1a"/><ellipse cx="351.8" cy="559" rx="1.1" ry="4.5" fill="#bbb"/><path d="M432,473.5 C438,469.5 448,468.5 457.5,470 C460.5,478 458.5,492 452,507 C450,494 450,484 446,479 C442,477 437,477 432,478 Z" fill="#111" opacity="0.7"/><path d="M373,583 C373,578 374,575.3 377,575.3 L387,575.6 C390,576.5 392,579 394,583 Z" fill="#111"/></g>
<line x1="411.30" y1="446.00" x2="411.30" y2="581.80" stroke="#333" stroke-width="0.9"/>
<line x1="350.20" y1="531.20" x2="504.60" y2="531.20" stroke="#333" stroke-width="0.9"/>
<path d="M350.2,446.0 H504.6 V581.8" fill="none" stroke="#444" stroke-width="1"/>
<line x1="350.20" y1="445.50" x2="350.20" y2="582.60" stroke="#000" stroke-width="1.5"/>
<line x1="349.40" y1="581.80" x2="505.10" y2="581.80" stroke="#000" stroke-width="1.5"/>
<line x1="347.00" y1="581.80" x2="350.20" y2="581.80" stroke="#000" stroke-width="1.2"/>
<line x1="350.20" y1="581.80" x2="350.20" y2="585.00" stroke="#000" stroke-width="1.2"/>
<line x1="348.60" y1="571.58" x2="350.20" y2="571.58" stroke="#000" stroke-width="0.8"/>
<line x1="361.82" y1="581.80" x2="361.82" y2="583.40" stroke="#000" stroke-width="0.8"/>
<line x1="348.60" y1="565.60" x2="350.20" y2="565.60" stroke="#000" stroke-width="0.8"/>
<line x1="368.62" y1="581.80" x2="368.62" y2="583.40" stroke="#000" stroke-width="0.8"/>
<line x1="348.60" y1="561.36" x2="350.20" y2="561.36" stroke="#000" stroke-width="0.8"/>
<line x1="373.44" y1="581.80" x2="373.44" y2="583.40" stroke="#000" stroke-width="0.8"/>
<line x1="348.60" y1="558.07" x2="350.20" y2="558.07" stroke="#000" stroke-width="0.8"/>
<line x1="377.18" y1="581.80" x2="377.18" y2="583.40" stroke="#000" stroke-width="0.8"/>
<line x1="348.60" y1="555.38" x2="350.20" y2="555.38" stroke="#000" stroke-width="0.8"/>
<line x1="380.24" y1="581.80" x2="380.24" y2="583.40" stroke="#000" stroke-width="0.8"/>
<line x1="348.60" y1="553.11" x2="350.20" y2="553.11" stroke="#000" stroke-width="0.8"/>
<line x1="382.82" y1="581.80" x2="382.82" y2="583.40" stroke="#000" stroke-width="0.8"/>
<line x1="348.60" y1="551.14" x2="350.20" y2="551.14" stroke="#000" stroke-width="0.8"/>
<line x1="385.06" y1="581.80" x2="385.06" y2="583.40" stroke="#000" stroke-width="0.8"/>
<line x1="348.60" y1="549.40" x2="350.20" y2="549.40" stroke="#000" stroke-width="0.8"/>
<line x1="387.03" y1="581.80" x2="387.03" y2="583.40" stroke="#000" stroke-width="0.8"/>
<line x1="347.00" y1="547.85" x2="350.20" y2="547.85" stroke="#000" stroke-width="1.2"/>
<line x1="388.80" y1="581.80" x2="388.80" y2="585.00" stroke="#000" stroke-width="1.2"/>
<line x1="348.60" y1="537.63" x2="350.20" y2="537.63" stroke="#000" stroke-width="0.8"/>
<line x1="400.42" y1="581.80" x2="400.42" y2="583.40" stroke="#000" stroke-width="0.8"/>
<line x1="348.60" y1="531.65" x2="350.20" y2="531.65" stroke="#000" stroke-width="0.8"/>
<line x1="407.22" y1="581.80" x2="407.22" y2="583.40" stroke="#000" stroke-width="0.8"/>
<line x1="348.60" y1="527.41" x2="350.20" y2="527.41" stroke="#000" stroke-width="0.8"/>
<line x1="412.04" y1="581.80" x2="412.04" y2="583.40" stroke="#000" stroke-width="0.8"/>
<line x1="348.60" y1="524.12" x2="350.20" y2="524.12" stroke="#000" stroke-width="0.8"/>
<line x1="415.78" y1="581.80" x2="415.78" y2="583.40" stroke="#000" stroke-width="0.8"/>
<line x1="348.60" y1="521.43" x2="350.20" y2="521.43" stroke="#000" stroke-width="0.8"/>
<line x1="418.84" y1="581.80" x2="418.84" y2="583.40" stroke="#000" stroke-width="0.8"/>
<line x1="348.60" y1="519.16" x2="350.20" y2="519.16" stroke="#000" stroke-width="0.8"/>
<line x1="421.42" y1="581.80" x2="421.42" y2="583.40" stroke="#000" stroke-width="0.8"/>
<line x1="348.60" y1="517.19" x2="350.20" y2="517.19" stroke="#000" stroke-width="0.8"/>
<line x1="423.66" y1="581.80" x2="423.66" y2="583.40" stroke="#000" stroke-width="0.8"/>
<line x1="348.60" y1="515.45" x2="350.20" y2="515.45" stroke="#000" stroke-width="0.8"/>
<line x1="425.63" y1="581.80" x2="425.63" y2="583.40" stroke="#000" stroke-width="0.8"/>
<line x1="347.00" y1="513.90" x2="350.20" y2="513.90" stroke="#000" stroke-width="1.2"/>
<line x1="427.40" y1="581.80" x2="427.40" y2="585.00" stroke="#000" stroke-width="1.2"/>
<line x1="348.60" y1="503.68" x2="350.20" y2="503.68" stroke="#000" stroke-width="0.8"/>
<line x1="439.02" y1="581.80" x2="439.02" y2="583.40" stroke="#000" stroke-width="0.8"/>
<line x1="348.60" y1="497.70" x2="350.20" y2="497.70" stroke="#000" stroke-width="0.8"/>
<line x1="445.82" y1="581.80" x2="445.82" y2="583.40" stroke="#000" stroke-width="0.8"/>
<line x1="348.60" y1="493.46" x2="350.20" y2="493.46" stroke="#000" stroke-width="0.8"/>
<line x1="450.64" y1="581.80" x2="450.64" y2="583.40" stroke="#000" stroke-width="0.8"/>
<line x1="348.60" y1="490.17" x2="350.20" y2="490.17" stroke="#000" stroke-width="0.8"/>
<line x1="454.38" y1="581.80" x2="454.38" y2="583.40" stroke="#000" stroke-width="0.8"/>
<line x1="348.60" y1="487.48" x2="350.20" y2="487.48" stroke="#000" stroke-width="0.8"/>
<line x1="457.44" y1="581.80" x2="457.44" y2="583.40" stroke="#000" stroke-width="0.8"/>
<line x1="348.60" y1="485.21" x2="350.20" y2="485.21" stroke="#000" stroke-width="0.8"/>
<line x1="460.02" y1="581.80" x2="460.02" y2="583.40" stroke="#000" stroke-width="0.8"/>
<line x1="348.60" y1="483.24" x2="350.20" y2="483.24" stroke="#000" stroke-width="0.8"/>
<line x1="462.26" y1="581.80" x2="462.26" y2="583.40" stroke="#000" stroke-width="0.8"/>
<line x1="348.60" y1="481.50" x2="350.20" y2="481.50" stroke="#000" stroke-width="0.8"/>
<line x1="464.23" y1="581.80" x2="464.23" y2="583.40" stroke="#000" stroke-width="0.8"/>
<line x1="347.00" y1="479.95" x2="350.20" y2="479.95" stroke="#000" stroke-width="1.2"/>
<line x1="466.00" y1="581.80" x2="466.00" y2="585.00" stroke="#000" stroke-width="1.2"/>
<line x1="348.60" y1="469.73" x2="350.20" y2="469.73" stroke="#000" stroke-width="0.8"/>
<line x1="477.62" y1="581.80" x2="477.62" y2="583.40" stroke="#000" stroke-width="0.8"/>
<line x1="348.60" y1="463.75" x2="350.20" y2="463.75" stroke="#000" stroke-width="0.8"/>
<line x1="484.42" y1="581.80" x2="484.42" y2="583.40" stroke="#000" stroke-width="0.8"/>
<line x1="348.60" y1="459.51" x2="350.20" y2="459.51" stroke="#000" stroke-width="0.8"/>
<line x1="489.24" y1="581.80" x2="489.24" y2="583.40" stroke="#000" stroke-width="0.8"/>
<line x1="348.60" y1="456.22" x2="350.20" y2="456.22" stroke="#000" stroke-width="0.8"/>
<line x1="492.98" y1="581.80" x2="492.98" y2="583.40" stroke="#000" stroke-width="0.8"/>
<line x1="348.60" y1="453.53" x2="350.20" y2="453.53" stroke="#000" stroke-width="0.8"/>
<line x1="496.04" y1="581.80" x2="496.04" y2="583.40" stroke="#000" stroke-width="0.8"/>
<line x1="348.60" y1="451.26" x2="350.20" y2="451.26" stroke="#000" stroke-width="0.8"/>
<line x1="498.62" y1="581.80" x2="498.62" y2="583.40" stroke="#000" stroke-width="0.8"/>
<line x1="348.60" y1="449.29" x2="350.20" y2="449.29" stroke="#000" stroke-width="0.8"/>
<line x1="500.86" y1="581.80" x2="500.86" y2="583.40" stroke="#000" stroke-width="0.8"/>
<line x1="348.60" y1="447.55" x2="350.20" y2="447.55" stroke="#000" stroke-width="0.8"/>
<line x1="502.83" y1="581.80" x2="502.83" y2="583.40" stroke="#000" stroke-width="0.8"/>
<line x1="347.00" y1="446.00" x2="350.20" y2="446.00" stroke="#000" stroke-width="1.2"/>
<line x1="504.60" y1="581.80" x2="504.60" y2="585.00" stroke="#000" stroke-width="1.2"/>
<text x="337.60" y="585.10" font-size="8.0" font-weight="bold" text-anchor="end" stroke="#000" stroke-width="0.3">10</text>
<text x="339.20" y="581.20" font-size="6.4" font-weight="bold" stroke="#000" stroke-width="0.2">0</text>
<text x="352.90" y="596.10" font-size="8.0" font-weight="bold" text-anchor="end" stroke="#000" stroke-width="0.3">10</text>
<text x="353.60" y="591.70" font-size="6.4" font-weight="bold" stroke="#000" stroke-width="0.2">0</text>
<text x="337.60" y="551.15" font-size="8.0" font-weight="bold" text-anchor="end" stroke="#000" stroke-width="0.3">10</text>
<text x="339.20" y="547.25" font-size="6.4" font-weight="bold" stroke="#000" stroke-width="0.2">1</text>
<text x="391.50" y="596.10" font-size="8.0" font-weight="bold" text-anchor="end" stroke="#000" stroke-width="0.3">10</text>
<text x="392.20" y="591.70" font-size="6.4" font-weight="bold" stroke="#000" stroke-width="0.2">1</text>
<text x="337.60" y="517.20" font-size="8.0" font-weight="bold" text-anchor="end" stroke="#000" stroke-width="0.3">10</text>
<text x="339.20" y="513.30" font-size="6.4" font-weight="bold" stroke="#000" stroke-width="0.2">2</text>
<text x="430.10" y="596.10" font-size="8.0" font-weight="bold" text-anchor="end" stroke="#000" stroke-width="0.3">10</text>
<text x="430.80" y="591.70" font-size="6.4" font-weight="bold" stroke="#000" stroke-width="0.2">2</text>
<text x="337.60" y="483.25" font-size="8.0" font-weight="bold" text-anchor="end" stroke="#000" stroke-width="0.3">10</text>
<text x="339.20" y="479.35" font-size="6.4" font-weight="bold" stroke="#000" stroke-width="0.2">3</text>
<text x="468.70" y="596.10" font-size="8.0" font-weight="bold" text-anchor="end" stroke="#000" stroke-width="0.3">10</text>
<text x="469.40" y="591.70" font-size="6.4" font-weight="bold" stroke="#000" stroke-width="0.2">3</text>
<text x="337.60" y="449.30" font-size="8.0" font-weight="bold" text-anchor="end" stroke="#000" stroke-width="0.3">10</text>
<text x="339.20" y="445.40" font-size="6.4" font-weight="bold" stroke="#000" stroke-width="0.2">4</text>
<text x="507.30" y="596.10" font-size="8.0" font-weight="bold" text-anchor="end" stroke="#000" stroke-width="0.3">10</text>
<text x="508.00" y="591.70" font-size="6.4" font-weight="bold" stroke="#000" stroke-width="0.2">4</text>
<text x="352.60" y="455.20" font-size="8.8" font-weight="bold">8.38</text>
<text x="502.20" y="455.30" font-size="8.8" font-weight="bold" text-anchor="end">48</text>
<text x="502.20" y="580.20" font-size="8.8" font-weight="bold" text-anchor="end">0.32</text>
<rect x="351.5" y="572.2" width="20.3" height="8.8" fill="#fff"/>
<text x="352.90" y="580.30" font-size="8.8" font-weight="bold">43.3</text>
<text x="424.90" y="608.40" font-size="9" text-anchor="middle" textLength="31" lengthAdjust="spacingAndGlyphs">Gr-1 PE</text>
<text x="321.90" y="515.20" font-size="9.4" text-anchor="middle" textLength="44" lengthAdjust="spacingAndGlyphs" transform="rotate(-90 321.90 515.20)">Mac-1 APC</text>
<text x="406.00" y="442.90" font-size="9" font-weight="bold" font-style="italic" textLength="18.2" lengthAdjust="spacingAndGlyphs">Mll5</text>
<text x="428.20" y="442.90" font-size="9" font-weight="bold" font-style="italic">-/-</text>
</svg>
</body></html>
